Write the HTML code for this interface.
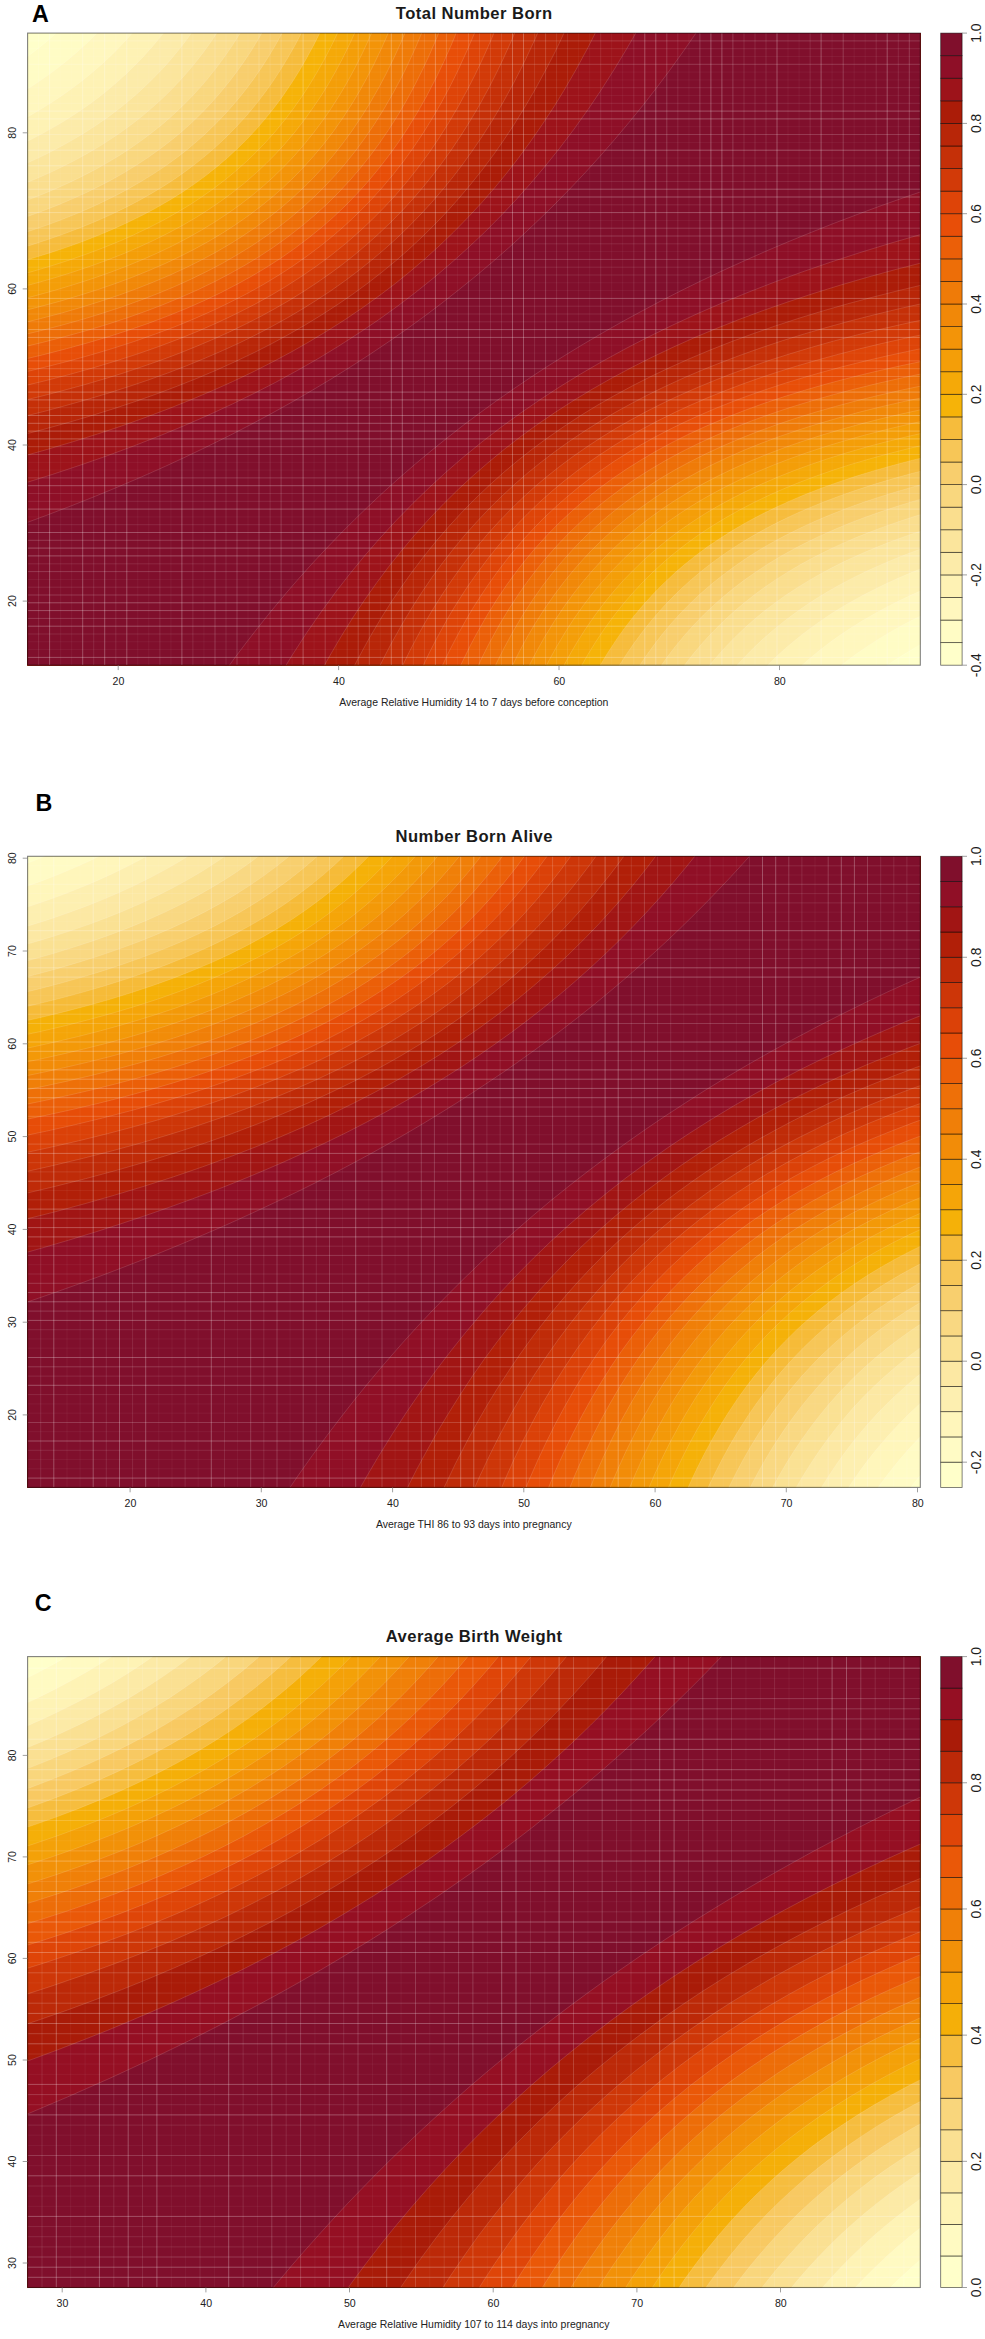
<!DOCTYPE html>
<html><head><meta charset="utf-8"><title>Figure</title>
<style>html,body{margin:0;padding:0;background:#fff}
svg{display:block}
text{font-family:"Liberation Sans", Arial, sans-serif;fill:#222}
.tt{font-size:16.6px;font-weight:bold;fill:#1a1a1a;letter-spacing:0.45px}
.lt{font-size:23.3px;font-weight:bold;fill:#000}
.tk{font-size:10.6px;fill:#222}
.ck{font-size:13.9px;fill:#1c1c1c}
.xl{font-size:10.48px;fill:#222}
</style></head>
<body>
<svg width="985" height="2339" viewBox="0 0 985 2339">
<rect width="985" height="2339" fill="#fff"/>
<clipPath id="cA"><rect x="27.6" y="33.1" width="892.6999999999999" height="632.1"/></clipPath>
<g clip-path="url(#cA)">
<rect x="27.6" y="33.1" width="892.6999999999999" height="632.1" fill="#FFFFCA"/>
<path d="M-5.5,78.4L4.1,72.5L13.8,66.2L23.4,59.5L33,52.4L42.6,44.9L52.2,36.8L61.8,28.2L69,21.4L78.6,11.7L85.9,3.9L93.1,-4.4L100.3,-13.1L107.5,-22.4L114.7,-32.2L121.9,-42.7L126.7,-50.1L133.9,-61.9L138.7,-70.2L145.9,-83.4L150.7,-92.8L157.9,-107.8L162.8,-118.5L167.6,-129.7L172.4,-141.6L177.2,-154.3L182,-167.6L186.8,-181.9L191.6,-197L196.4,-213.1L201.2,-230.4L208.4,-258.7L215.6,-290.2L222.8,-325.6L227.6,-351.8L230,-365.7L234.8,-395.4L237.2,-411.3L242.1,-445.5L244.5,-463.9L249.3,-503.5L254.1,-547.6L258.9,-596.9L263.7,-652.4L268.5,-715.4L273.3,-787.4L275.7,-827.4L280.5,-917.1L282.9,-967.6L290.1,-1137.5L953.4,-1137.5L953.4,627.7L941.3,633.6L929.3,639.8L917.3,646.4L907.7,652.1L895.7,659.6L886.1,666L876.5,672.8L866.9,680.1L857.2,687.8L847.6,696L838,704.9L830.8,711.9L821.2,721.9L814,729.8L806.8,738.3L799.6,747.3L792.4,756.8L785.1,767L777.9,777.8L770.7,789.4L763.5,801.8L758.7,810.6L751.5,824.6L746.7,834.6L739.5,850.5L734.7,861.9L729.9,874L725.1,886.7L720.3,900.3L715.5,914.6L710.7,930L705.8,946.3L701,963.8L696.2,982.6L689,1013.4L684.2,1036L679.4,1060.4L674.6,1087L672.2,1101.1L667.4,1131.4L665,1147.6L660.2,1182.4L655.4,1220.8L653,1241.5L648.2,1286.6L643.4,1337L638.6,1393.8L633.8,1458.3L628.9,1532.2L624.1,1617.8L621.7,1665.8L619.3,1717.9L614.5,1835.8L-5.5,1835.8Z" fill="#FFFCC5" stroke="#fff" stroke-opacity="0.17" stroke-width="0.8"/>
<path d="M-5.5,108.1L6.6,101.6L16.2,96L28.2,88.6L37.8,82.3L47.4,75.6L57,68.5L66.6,60.9L76.2,52.8L85.9,44.1L93.1,37.2L102.7,27.3L109.9,19.4L117.1,11.1L124.3,2.2L131.5,-7.3L138.7,-17.3L145.9,-28.1L153.1,-39.6L160.3,-51.9L165.2,-60.7L172.4,-74.6L177.2,-84.6L182,-95L186.8,-106.1L194,-123.9L198.8,-136.7L203.6,-150.3L208.4,-164.7L213.2,-180.1L218,-196.6L225.2,-223.5L232.4,-253.5L239.7,-287.2L244.5,-312.1L246.9,-325.3L251.7,-353.5L254.1,-368.6L258.9,-401.1L261.3,-418.5L266.1,-456.1L270.9,-497.8L275.7,-544.4L280.5,-596.8L285.3,-656.2L290.1,-724L292.5,-761.7L297.3,-846L302.1,-944.8L304.5,-1000.9L306.9,-1062.3L309.3,-1129.8L311.7,-1137.5L953.4,-1137.5L953.4,601L938.9,607.2L926.9,612.8L914.9,618.7L902.9,625L890.9,631.7L878.9,638.9L866.9,646.7L857.2,653.3L847.6,660.4L838,667.9L828.4,675.9L818.8,684.5L809.2,693.7L802,701.1L792.4,711.6L785.1,720L777.9,729L770.7,738.5L763.5,748.6L756.3,759.5L749.1,771.1L741.9,783.5L734.7,796.9L729.9,806.5L722.7,821.7L717.9,832.6L710.7,850.1L705.8,862.6L701,875.9L696.2,890.1L691.4,905.2L686.6,921.3L681.8,938.6L677,957.1L669.8,987.6L665,1009.9L660.2,1034.1L655.4,1060.4L653,1074.5L648.2,1104.6L645.8,1120.7L641,1155.3L636.2,1193.6L633.8,1214.4L628.9,1259.4L624.1,1309.9L619.3,1367L614.5,1432L612.1,1468L607.3,1548.4L602.5,1642.4L600.1,1695.5L597.7,1753.6L595.3,1817.2L592.9,1835.8L-5.5,1835.8Z" fill="#FFF7BE" stroke="#fff" stroke-opacity="0.17" stroke-width="0.8"/>
<path d="M-5.5,133.7L6.6,127.9L18.6,121.8L30.6,115.2L42.6,108.1L54.6,100.5L64.2,94L73.8,87.1L83.5,79.7L93.1,71.8L102.7,63.4L112.3,54.4L119.5,47.1L129.1,36.8L136.3,28.5L143.5,19.7L150.7,10.4L157.9,0.4L165.2,-10.3L172.4,-21.7L177.2,-29.8L184.4,-42.7L189.2,-51.9L196.4,-66.5L201.2,-77L208.4,-93.8L213.2,-105.8L218,-118.6L222.8,-132.2L227.6,-146.7L232.4,-162.1L237.2,-178.7L242.1,-196.4L249.3,-225.6L256.5,-258.3L261.3,-282.4L263.7,-295.3L268.5,-322.7L270.9,-337.4L275.7,-368.9L278.1,-385.8L282.9,-422.3L287.7,-462.9L290.1,-484.9L294.9,-532.9L299.7,-587L304.5,-648.6L309.3,-719.3L314.1,-801.2L319,-897.2L321.4,-951.7L328.6,-1137.5L953.4,-1137.5L953.4,577.7L938.9,583.2L924.5,589.2L910.1,595.6L898.1,601.3L886.1,607.4L874.1,614L862,621L850,628.5L838,636.6L828.4,643.6L818.8,651L809.2,658.9L799.6,667.4L790,676.5L780.3,686.3L773.1,694.2L763.5,705.4L756.3,714.5L749.1,724.1L741.9,734.4L734.7,745.4L727.5,757.3L720.3,770L715.5,779L708.2,793.4L703.4,803.7L696.2,820.2L691.4,832L684.2,851.1L679.4,864.9L674.6,879.5L669.8,895.2L665,911.9L660.2,929.9L653,959.5L648.2,981.2L643.4,1004.7L638.6,1030.3L636.2,1043.9L631.4,1073.1L628.9,1088.8L624.1,1122.5L621.7,1140.6L616.9,1179.8L614.5,1201.1L609.7,1247.4L604.9,1299.5L600.1,1358.6L595.3,1426.2L590.5,1504.4L585.7,1595.7L583.3,1647.3L580.9,1703.7L578.5,1765.6L576.1,1833.7L573.7,1835.8L-5.5,1835.8Z" fill="#FEF2B4" stroke="#fff" stroke-opacity="0.17" stroke-width="0.8"/>
<path d="M-5.5,156.3L9,150L21,144.5L33,138.5L45,132.1L57,125.3L66.6,119.5L78.6,111.7L88.3,105L97.9,97.9L107.5,90.3L117.1,82.1L126.7,73.4L136.3,64L143.5,56.5L153.1,45.7L160.3,37.1L167.6,27.9L174.8,18.1L182,7.6L189.2,-3.6L196.4,-15.7L203.6,-28.7L210.8,-42.8L215.6,-52.8L222.8,-68.9L227.6,-80.4L232.4,-92.6L237.2,-105.6L242.1,-119.4L246.9,-134.2L251.7,-149.9L256.5,-166.8L261.3,-185L266.1,-204.5L273.3,-236.8L278.1,-260.7L280.5,-273.4L285.3,-300.5L287.7,-315.1L292.5,-346.3L294.9,-363L299.7,-399.2L304.5,-439.4L306.9,-461.3L311.7,-508.9L316.5,-562.8L321.4,-624.1L326.2,-694.5L328.6,-733.8L333.4,-822.3L335.8,-872.4L338.2,-927L340.6,-986.9L343,-1052.8L345.4,-1125.7L347.8,-1137.5L953.4,-1137.5L953.4,556.9L938.9,561.9L924.5,567.3L910.1,573.1L895.7,579.3L881.3,586L869.3,592L857.2,598.4L845.2,605.2L833.2,612.6L823.6,618.9L811.6,627.4L802,634.7L792.4,642.5L782.7,650.8L773.1,659.7L763.5,669.4L753.9,679.8L746.7,688.1L737.1,700.1L729.9,709.8L722.7,720.2L715.5,731.2L708.2,743.1L701,755.9L693.8,769.8L689,779.6L681.8,795.4L677,806.7L669.8,825L665,838.1L660.2,852.1L655.4,867.1L650.6,883L645.8,900.2L638.6,928.3L633.8,948.9L628.9,971.2L624.1,995.4L621.7,1008.4L616.9,1036L614.5,1050.8L609.7,1082.5L607.3,1099.6L602.5,1136.5L600.1,1156.5L595.3,1199.9L590.5,1248.6L585.7,1303.8L580.9,1366.7L576.1,1439.1L571.3,1523.3L568.9,1570.8L566.5,1622.6L564.1,1679.1L561.7,1741.2L559.3,1809.6L556.9,1835.8L-5.5,1835.8Z" fill="#FCEBA9" stroke="#fff" stroke-opacity="0.17" stroke-width="0.8"/>
<path d="M-5.5,176.5L9,170.8L21,165.8L35.4,159.3L47.4,153.5L59.4,147.2L71.4,140.6L83.5,133.4L95.5,125.7L107.5,117.4L117.1,110.2L126.7,102.6L136.3,94.4L145.9,85.5L153.1,78.5L162.8,68.5L170,60.4L179.6,48.8L186.8,39.5L194,29.5L201.2,18.9L208.4,7.4L215.6,-4.9L222.8,-18.1L227.6,-27.6L234.8,-42.7L239.7,-53.6L246.9,-71L251.7,-83.6L256.5,-97L261.3,-111.2L266.1,-126.4L270.9,-142.7L275.7,-160.2L280.5,-179.1L287.7,-210.2L292.5,-233.1L297.3,-258.1L302.1,-285.3L304.5,-299.9L309.3,-331.3L311.7,-348.2L316.5,-384.6L321.4,-425.2L323.8,-447.3L328.6,-495.5L333.4,-550.1L338.2,-612.3L343,-684L345.4,-724.1L350.2,-814.6L352.6,-866L355,-922.1L357.4,-983.7L359.8,-1051.7L362.2,-1127.1L364.6,-1137.5L953.4,-1137.5L953.4,538.1L936.5,543.5L922.1,548.5L907.7,553.8L893.3,559.5L878.9,565.7L866.9,571.1L852.4,578.2L840.4,584.5L828.4,591.3L816.4,598.6L804.4,606.5L794.8,613.3L782.7,622.4L773.1,630.2L763.5,638.6L753.9,647.6L744.3,657.4L737.1,665.2L727.5,676.4L720.3,685.4L710.7,698.3L703.4,708.8L696.2,720.1L689,732.2L681.8,745.3L674.6,759.4L667.4,774.7L662.6,785.7L655.4,803.4L650.6,816.1L645.8,829.6L641,844L636.2,859.4L631.4,875.9L626.5,893.7L621.7,912.8L616.9,933.4L612.1,955.8L607.3,980.1L604.9,993L600.1,1020.8L597.7,1035.6L592.9,1067.6L590.5,1084.8L585.7,1122L583.3,1142.1L578.5,1186L573.7,1235.3L568.9,1291.2L564.1,1355.2L559.3,1428.9L554.5,1515L552,1563.6L549.6,1616.7L547.2,1674.8L544.8,1738.8L542.4,1809.4L540,1835.8L-5.5,1835.8Z" fill="#FBE59C" stroke="#fff" stroke-opacity="0.17" stroke-width="0.8"/>
<path d="M-5.5,194.8L9,189.6L23.4,184L37.8,178L52.2,171.6L64.2,165.8L76.2,159.6L88.3,152.9L100.3,145.8L112.3,138.1L121.9,131.5L133.9,122.7L143.5,115L153.1,106.8L162.8,98L172.4,88.5L179.6,80.9L189.2,70.1L196.4,61.3L203.6,52L210.8,42L218,31.3L225.2,19.8L232.4,7.5L239.7,-5.8L246.9,-20.3L251.7,-30.6L258.9,-47.1L263.7,-59L270.9,-78.3L275.7,-92.2L280.5,-107.1L285.3,-123L290.1,-140L294.9,-158.4L302.1,-188.7L306.9,-211L311.7,-235.3L316.5,-261.7L319,-275.9L323.8,-306.4L326.2,-322.7L331,-358.1L333.4,-377.2L338.2,-418.7L340.6,-441.3L345.4,-490.8L350.2,-547L355,-611.3L359.8,-685.6L364.6,-772.4L367,-821.5L369.4,-875.1L371.8,-934L374.2,-998.8L379,-1137.5L953.4,-1137.5L953.4,521L936.5,526L919.7,531.4L902.9,537.2L888.5,542.5L874.1,548.3L859.6,554.5L845.2,561.1L833.2,567.1L821.2,573.5L809.2,580.4L797.2,587.8L785.1,595.7L773.1,604.4L763.5,611.8L753.9,619.8L744.3,628.3L734.7,637.5L725.1,647.4L715.5,658.2L708.2,666.8L698.6,679.2L691.4,689.3L684.2,700.1L677,711.7L669.8,724.1L662.6,737.6L655.4,752.2L650.6,762.6L643.4,779.3L638.6,791.4L631.4,810.9L626.5,824.9L621.7,840L616.9,856.1L612.1,873.4L607.3,892L602.5,912.1L597.7,933.9L592.9,957.5L590.5,970.1L585.7,997L583.3,1011.5L578.5,1042.5L576.1,1059.1L571.3,1095.2L568.9,1114.7L564.1,1157.1L561.7,1180.3L556.9,1230.9L552,1288.5L547.2,1354.5L542.4,1431L537.6,1520.5L535.2,1571.3L532.8,1626.8L530.4,1687.8L528,1755.1L525.6,1829.8L523.2,1835.8L-5.5,1835.8Z" fill="#FADE8E" stroke="#fff" stroke-opacity="0.17" stroke-width="0.8"/>
<path d="M-5.5,211.6L11.4,206L25.8,200.8L40.2,195.2L54.6,189.2L69,182.7L81,176.9L95.5,169.4L107.5,162.6L119.5,155.4L131.5,147.5L143.5,139L153.1,131.7L162.8,123.9L172.4,115.5L182,106.5L191.6,96.8L201.2,86.3L208.4,77.8L218,65.6L225.2,55.8L232.4,45.3L239.7,33.9L246.9,21.8L254.1,8.6L261.3,-5.6L266.1,-15.7L273.3,-32.1L278.1,-43.8L285.3,-62.8L290.1,-76.4L294.9,-91L299.7,-106.7L304.5,-123.5L309.3,-141.5L316.5,-171.3L321.4,-193.2L326.2,-217L331,-243L333.4,-256.9L338.2,-286.7L340.6,-302.8L345.4,-337.4L347.8,-356.1L352.6,-396.7L355,-418.8L359.8,-467.2L364.6,-522L369.4,-584.6L374.2,-656.9L379,-741.3L381.4,-789L383.8,-841L386.2,-898L388.6,-960.7L391,-1030L393.4,-1107L395.9,-1137.5L953.4,-1137.5L953.4,505.2L934.1,510.6L917.3,515.6L900.5,521L883.7,526.9L869.3,532.3L854.8,538.1L840.4,544.4L826,551.2L811.6,558.5L799.6,565.1L787.6,572.2L775.5,579.9L763.5,588.1L753.9,595.2L741.9,604.8L732.3,613.1L722.7,622L713.1,631.6L703.4,642L693.8,653.3L684.2,665.6L677,675.5L669.8,686.1L662.6,697.5L655.4,709.8L648.2,723.1L641,737.5L636.2,747.7L628.9,764.2L624.1,776.1L616.9,795.3L612.1,809.1L607.3,823.9L602.5,839.8L597.7,856.8L592.9,875.1L588.1,894.8L583.3,916.2L578.5,939.4L576.1,951.7L571.3,978.2L568.9,992.3L564.1,1022.7L561.7,1039.1L556.9,1074.3L554.5,1093.4L549.6,1134.9L547.2,1157.5L542.4,1207L540,1234.2L535.2,1294.3L530.4,1363.3L525.6,1443.7L523.2,1488.9L520.8,1538.2L518.4,1592L516,1651.1L513.6,1716.2L511.2,1788.3L508.8,1835.8L-5.5,1835.8Z" fill="#F9D77E" stroke="#fff" stroke-opacity="0.17" stroke-width="0.8"/>
<path d="M-5.5,227.2L11.4,221.9L25.8,217.1L42.6,211L57,205.4L71.4,199.3L85.9,192.8L100.3,185.7L112.3,179.4L124.3,172.6L136.3,165.2L148.3,157.3L160.3,148.7L172.4,139.4L182,131.4L191.6,122.8L201.2,113.5L210.8,103.4L220.4,92.5L230,80.7L237.2,71.2L244.5,60.9L251.7,50L258.9,38.2L266.1,25.5L273.3,11.8L280.5,-3.1L287.7,-19.3L292.5,-30.9L299.7,-49.7L304.5,-63.3L309.3,-77.8L314.1,-93.2L319,-109.9L323.8,-127.7L328.6,-147L333.4,-167.8L338.2,-190.3L343,-214.9L347.8,-241.8L350.2,-256.2L355,-287.1L357.4,-303.7L362.2,-339.7L364.6,-359.1L369.4,-401.5L371.8,-424.6L376.6,-475.2L381.4,-532.8L386.2,-598.8L391,-675.4L395.9,-765.1L398.3,-816L400.7,-871.8L403.1,-933L405.5,-1000.6L407.9,-1075.7L410.3,-1137.5L953.4,-1137.5L953.4,490.5L934.1,495.5L914.9,500.9L898.1,506L881.3,511.6L864.4,517.5L850,523L835.6,529L821.2,535.4L806.8,542.3L794.8,548.5L780.3,556.5L768.3,563.8L756.3,571.7L744.3,580.1L732.3,589.3L722.7,597.3L713.1,605.8L703.4,615L693.8,625L684.2,635.7L674.6,647.4L667.4,656.8L657.8,670.4L650.6,681.5L643.4,693.4L636.2,706.2L628.9,720L621.7,735.1L614.5,751.5L609.7,763.2L602.5,782.2L597.7,795.9L590.5,818.3L585.7,834.6L580.9,852L576.1,870.8L571.3,891.1L566.5,913.1L561.7,937.1L559.3,949.8L554.5,977.2L552,991.8L547.2,1023.3L544.8,1040.2L540,1076.9L537.6,1096.8L532.8,1140.1L530.4,1163.7L525.6,1215.6L523.2,1244.1L518.4,1307.3L513.6,1380.4L508.8,1465.6L506.4,1513.9L504,1566.6L501.6,1624.3L499.2,1687.9L496.8,1758.2L494.4,1835.8L-5.5,1835.8Z" fill="#F8CE6D" stroke="#fff" stroke-opacity="0.17" stroke-width="0.8"/>
<path d="M-5.5,241.8L11.4,236.9L28.2,231.5L45,225.8L59.4,220.5L73.8,214.8L88.3,208.7L102.7,202L117.1,194.9L129.1,188.4L141.1,181.5L153.1,174.1L165.2,166.1L177.2,157.4L186.8,149.9L198.8,139.7L208.4,130.9L218,121.5L227.6,111.3L237.2,100.2L244.5,91.2L254.1,78.4L261.3,67.9L268.5,56.7L275.7,44.7L282.9,31.7L290.1,17.6L297.3,2.4L302.1,-8.5L309.3,-26.1L314.1,-38.8L321.4,-59.4L326.2,-74.3L333.4,-98.6L338.2,-116.4L343,-135.5L347.8,-156.2L352.6,-178.7L357.4,-203.1L362.2,-229.7L364.6,-244L369.4,-274.7L371.8,-291.2L376.6,-326.8L379,-346.1L383.8,-388.1L386.2,-411L391,-461.1L395.9,-518L400.7,-583.2L405.5,-658.7L410.3,-747L412.7,-797.2L415.1,-851.9L417.5,-912.1L419.9,-978.5L422.3,-1052.1L424.7,-1134.1L427.1,-1137.5L953.4,-1137.5L953.4,476.6L934.1,481.3L914.9,486.4L895.7,492L878.9,497.2L862,502.8L845.2,508.9L828.4,515.6L814,521.7L799.6,528.4L785.1,535.6L770.7,543.4L758.7,550.4L746.7,558L734.7,566.3L722.7,575.2L713.1,582.8L701,593.2L691.4,602.2L681.8,611.9L672.2,622.4L662.6,633.8L655.4,643.1L645.8,656.3L638.6,667.1L631.4,678.7L624.1,691.1L616.9,704.6L609.7,719.2L602.5,735.1L597.7,746.4L590.5,764.8L585.7,778L578.5,799.5L573.7,815.2L568.9,831.9L564.1,849.9L559.3,869.3L554.5,890.3L549.6,913.1L544.8,938L540,965.1L537.6,979.6L532.8,1010.8L530.4,1027.7L525.6,1064L523.2,1083.7L518.4,1126.6L516,1150L511.2,1201.3L506.4,1259.6L501.6,1326.6L496.8,1404.3L492,1495.6L489.6,1547.4L487.2,1604.1L484.8,1666.5L482.4,1735.5L480,1812.1L477.6,1835.8L-5.5,1835.8Z" fill="#F7C657" stroke="#fff" stroke-opacity="0.17" stroke-width="0.8"/>
<path d="M-5.5,255.6L13.8,250.2L30.6,245.2L47.4,239.7L64.2,233.8L81,227.4L95.5,221.5L109.9,215.1L124.3,208.2L138.7,200.7L150.7,193.9L162.8,186.7L174.8,178.9L186.8,170.4L196.4,163.1L208.4,153.3L218,144.8L227.6,135.7L237.2,125.8L246.9,115.2L256.5,103.6L266.1,91L273.3,80.8L280.5,69.8L287.7,58L294.9,45.4L302.1,31.7L309.3,16.8L314.1,6.2L321.4,-10.9L326.2,-23.2L333.4,-43.1L338.2,-57.5L345.4,-81L350.2,-98.1L355,-116.4L359.8,-136.3L364.6,-157.8L369.4,-181.1L374.2,-206.5L376.6,-220.1L381.4,-249.2L383.8,-264.8L388.6,-298.5L391,-316.6L395.9,-356.1L398.3,-377.5L403.1,-424.2L407.9,-477.1L412.7,-537.3L417.5,-606.6L422.3,-687.1L424.7,-732.5L427.1,-781.8L429.5,-835.8L431.9,-894.9L434.3,-960L436.7,-1032.2L439.1,-1112.5L441.5,-1137.5L953.4,-1137.5L953.4,463.4L931.7,468.5L912.5,473.3L893.3,478.6L876.5,483.6L857.2,489.8L840.4,495.7L823.6,502L809.2,507.9L794.8,514.2L780.3,521.1L765.9,528.5L751.5,536.6L739.5,543.9L727.5,551.7L715.5,560.2L703.4,569.5L691.4,579.5L681.8,588.2L672.2,597.6L662.6,607.7L653,618.7L643.4,630.6L633.8,643.6L626.5,654.2L619.3,665.5L612.1,677.7L604.9,690.8L597.7,705L590.5,720.4L583.3,737.2L576.1,755.6L571.3,768.8L564.1,790.3L559.3,805.9L554.5,822.6L549.6,840.6L544.8,860L540,880.9L535.2,903.6L530.4,928.3L525.6,955.4L523.2,969.8L518.4,1000.9L516,1017.6L511.2,1053.8L508.8,1073.4L504,1115.9L501.6,1139.1L496.8,1190L494.4,1217.9L489.6,1279.7L484.8,1350.9L480,1433.9L477.6,1480.7L475.2,1531.7L472.7,1587.6L470.3,1648.9L467.9,1716.6L465.5,1791.6L463.1,1835.8L-5.5,1835.8Z" fill="#F6BC3C" stroke="#fff" stroke-opacity="0.17" stroke-width="0.8"/>
<path d="M-5.5,268.8L13.8,263.7L33,258.1L49.8,252.9L66.6,247.3L83.5,241.2L100.3,234.6L114.7,228.4L129.1,221.8L143.5,214.7L155.5,208.3L170,199.9L182,192.4L194,184.3L206,175.5L218,165.9L227.6,157.7L237.2,148.8L246.9,139.3L256.5,129L266.1,117.8L275.7,105.7L282.9,95.9L292.5,81.7L299.7,70.2L306.9,57.7L314.1,44.4L321.4,29.9L328.6,14.1L335.8,-3L340.6,-15.3L347.8,-35.3L352.6,-49.7L357.4,-65.1L362.2,-81.6L367,-99.3L371.8,-118.4L376.6,-139L381.4,-161.3L386.2,-185.6L388.6,-198.5L393.4,-226.2L395.9,-241L400.7,-272.9L403.1,-290.1L407.9,-327.2L410.3,-347.3L415.1,-391.1L417.5,-414.9L422.3,-467.3L424.7,-496.1L429.5,-559.8L434.3,-633.4L439.1,-719.2L441.5,-767.7L443.9,-820.6L446.3,-878.5L448.7,-942.2L451.1,-1012.6L453.5,-1090.9L455.9,-1137.5L953.4,-1137.5L953.4,450.7L931.7,455.6L912.5,460.2L893.3,465.3L874.1,470.7L854.8,476.6L838,482.2L821.2,488.2L804.4,494.8L790,500.9L775.5,507.5L761.1,514.5L746.7,522.2L732.3,530.6L720.3,538.2L708.2,546.3L696.2,555.2L684.2,564.8L674.6,573.1L662.6,584.4L653,594.2L643.4,604.8L633.8,616.2L624.1,628.7L616.9,638.9L607.3,653.5L600.1,665.4L592.9,678.3L585.7,692.1L578.5,707.2L571.3,723.5L564.1,741.4L559.3,754.2L552,775.1L547.2,790.2L542.4,806.3L537.6,823.6L532.8,842.3L528,862.4L523.2,884.2L518.4,907.8L513.6,933.6L508.8,961.7L504,992.7L501.6,1009.3L496.8,1045.3L494.4,1064.7L489.6,1106.9L487.2,1130L482.4,1180.3L480,1208L475.2,1269.1L470.3,1339.4L465.5,1421.1L463.1,1467.1L460.7,1517.2L458.3,1571.9L455.9,1632L453.5,1698.1L451.1,1771.4L448.7,1835.8L-5.5,1835.8Z" fill="#F6B308" stroke="#fff" stroke-opacity="0.17" stroke-width="0.8"/>
<path d="M-5.5,281.4L13.8,276.6L33,271.3L52.2,265.6L69,260.2L85.9,254.3L102.7,248L119.5,241.2L133.9,234.8L148.3,227.9L162.8,220.5L177.2,212.4L189.2,205.2L201.2,197.3L213.2,188.9L225.2,179.7L234.8,171.8L246.9,161.1L256.5,151.8L266.1,141.8L275.7,131L285.3,119.3L292.5,109.8L302.1,96.2L309.3,85.1L316.5,73.2L323.8,60.4L331,46.6L338.2,31.7L345.4,15.4L352.6,-2.3L359.8,-21.7L364.6,-35.6L371.8,-58.4L376.6,-74.9L381.4,-92.6L386.2,-111.7L391,-132.2L395.9,-154.5L400.7,-178.7L405.5,-205L410.3,-233.9L412.7,-249.3L417.5,-282.6L419.9,-300.5L424.7,-339.3L427.1,-360.4L431.9,-406.2L434.3,-431.3L439.1,-486.3L443.9,-549L448.7,-621.2L453.5,-705.1L455.9,-752.4L458.3,-804L460.7,-860.3L463.1,-922.1L465.5,-990.2L470.3,-1137.5L953.4,-1137.5L953.4,438.5L931.7,443.1L910.1,448.2L888.5,453.7L869.3,459L850,464.7L833.2,470.1L816.4,476L799.6,482.3L782.7,489.2L768.3,495.6L753.9,502.5L739.5,510L725.1,518.1L713.1,525.4L698.6,534.9L686.6,543.6L674.6,553L665,561L653,572L643.4,581.5L633.8,591.8L624.1,602.9L614.5,615L604.9,628.1L595.3,642.5L588.1,654.2L580.9,666.8L573.7,680.4L566.5,695.1L559.3,711.1L552,728.5L547.2,740.9L540,761.2L535.2,775.8L528,799.6L523.2,816.9L518.4,835.6L513.6,855.7L508.8,877.4L504,901L499.2,926.6L494.4,954.6L489.6,985.4L487.2,1001.9L482.4,1037.6L480,1056.9L475.2,1098.7L472.7,1121.4L467.9,1171.2L465.5,1198.5L460.7,1258.6L455.9,1327.6L451.1,1407.6L446.3,1501.5L443.9,1554.7L441.5,1613.1L439.1,1677.2L436.7,1748L434.3,1826.6L431.9,1835.8L-5.5,1835.8Z" fill="#F5A908" stroke="#fff" stroke-opacity="0.17" stroke-width="0.8"/>
<path d="M-5.5,293.7L16.2,288.4L35.4,283.3L54.6,277.8L71.4,272.6L90.7,266.1L107.5,260L124.3,253.4L138.7,247.2L153.1,240.6L167.6,233.4L182,225.7L196.4,217.3L208.4,209.7L220.4,201.5L232.4,192.7L244.5,183.1L256.5,172.6L266.1,163.6L275.7,153.9L285.3,143.4L294.9,132L304.5,119.7L314.1,106.2L321.4,95.4L328.6,83.7L335.8,71.1L343,57.6L350.2,42.9L357.4,27.1L364.6,9.8L371.8,-9L376.6,-22.6L383.8,-44.6L388.6,-60.5L393.4,-77.6L398.3,-95.9L403.1,-115.7L407.9,-137L412.7,-160L417.5,-185.1L422.3,-212.4L424.7,-227.1L429.5,-258.4L431.9,-275.3L436.7,-311.6L439.1,-331.3L443.9,-373.9L446.3,-397.1L451.1,-447.7L453.5,-475.5L458.3,-536.7L463.1,-606.9L467.9,-688.3L472.7,-783.7L475.2,-837.8L477.6,-897L480,-962.1L482.4,-1033.9L484.8,-1113.6L487.2,-1137.5L953.4,-1137.5L953.4,426.5L929.3,431.6L907.7,436.5L886.1,441.8L866.9,446.9L847.6,452.5L828.4,458.5L811.6,464.2L794.8,470.3L777.9,477L761.1,484.3L746.7,491L732.3,498.3L717.9,506.1L705.8,513.2L691.4,522.5L679.4,530.8L667.4,539.9L655.4,549.7L643.4,560.4L633.8,569.7L624.1,579.6L614.5,590.4L604.9,602.1L595.3,614.8L585.7,628.7L578.5,639.9L571.3,652L564.1,665L556.9,679L549.6,694.2L542.4,710.6L535.2,728.6L528,748.2L523.2,762.4L516,785.4L511.2,802.1L504,829.5L499.2,849.6L494.4,871.2L489.6,894.6L484.8,920.1L480,947.9L475.2,978.4L472.7,994.7L467.9,1029.9L465.5,1048.9L460.7,1090.1L458.3,1112.5L453.5,1161.3L451.1,1188L446.3,1246.8L441.5,1314.1L436.7,1391.7L431.9,1482.4L429.5,1533.7L427.1,1589.6L424.7,1651L422.3,1718.5L419.9,1793.2L417.5,1835.8L-5.5,1835.8Z" fill="#F49E08" stroke="#fff" stroke-opacity="0.17" stroke-width="0.8"/>
<path d="M-5.5,305.8L16.2,300.6L35.4,295.7L54.6,290.4L73.8,284.6L93.1,278.4L109.9,272.5L126.7,266.1L143.5,259.2L157.9,252.8L172.4,245.9L186.8,238.4L201.2,230.3L215.6,221.5L227.6,213.6L239.7,205L251.7,195.8L263.7,185.7L273.3,177L285.3,165.3L294.9,155.1L304.5,144L314.1,132.1L323.8,119.1L331,108.6L340.6,93.5L347.8,81.1L355,67.9L362.2,53.6L369.4,38.1L376.6,21.3L383.8,3L388.6,-10.2L395.9,-31.5L400.7,-46.8L407.9,-71.9L412.7,-90.1L417.5,-109.7L422.3,-130.9L427.1,-153.7L431.9,-178.5L436.7,-205.5L441.5,-234.9L446.3,-267.3L448.7,-284.6L453.5,-322.1L455.9,-342.4L460.7,-386.3L463.1,-410.2L467.9,-462.4L470.3,-491.1L475.2,-554.2L480,-626.6L484.8,-710.6L489.6,-808.9L492,-864.7L494.4,-925.8L496.8,-993L501.6,-1137.5L953.4,-1137.5L953.4,414.8L929.3,419.7L907.7,424.4L886.1,429.6L864.4,435.2L845.2,440.6L826,446.4L806.8,452.7L790,458.7L773.1,465.2L756.3,472.2L739.5,479.9L725.1,487L710.7,494.7L696.2,503.1L681.8,512.2L669.8,520.4L657.8,529.3L645.8,538.9L633.8,549.4L624.1,558.4L612.1,570.7L602.5,581.4L592.9,592.9L583.3,605.5L573.7,619.1L566.5,630.2L556.9,646.2L549.6,659.3L542.4,673.4L535.2,688.6L528,705.1L520.8,723.1L513.6,742.7L508.8,756.9L501.6,779.9L496.8,796.5L489.6,823.7L484.8,843.6L480,865.1L475.2,888.2L470.3,913.4L465.5,940.9L460.7,970.8L458.3,986.9L453.5,1021.5L451.1,1040.1L446.3,1080.3L443.9,1102.1L439.1,1149.6L436.7,1175.6L431.9,1232.4L427.1,1297.2L422.3,1371.6L417.5,1458L415.1,1506.6L412.7,1559.5L410.3,1617.3L407.9,1680.6L405.5,1750.2L403.1,1827.3L400.7,1835.8L-5.5,1835.8Z" fill="#F39408" stroke="#fff" stroke-opacity="0.17" stroke-width="0.8"/>
<path d="M-5.5,317.6L16.2,312.6L37.8,307.2L59.4,301.4L78.6,295.7L97.9,289.6L114.7,283.8L131.5,277.6L148.3,270.8L165.2,263.5L179.6,256.7L194,249.4L208.4,241.5L222.8,232.9L234.8,225.2L249.3,215.1L261.3,206L273.3,196.2L282.9,187.7L294.9,176.2L304.5,166.2L314.1,155.5L323.8,143.9L333.4,131.4L343,117.7L352.6,102.8L359.8,90.7L367,77.7L374.2,63.7L381.4,48.6L388.6,32.3L395.9,14.5L403.1,-4.8L410.3,-26L415.1,-41.3L422.3,-66.1L427.1,-84.1L431.9,-103.5L436.7,-124.3L441.5,-146.8L446.3,-171.1L451.1,-197.6L455.9,-226.3L460.7,-257.8L463.1,-274.7L467.9,-311.1L470.3,-330.6L475.2,-373L477.6,-396L482.4,-446L484.8,-473.4L489.6,-533.4L494.4,-601.8L499.2,-680.6L504,-772.2L506.4,-823.8L508.8,-880L511.2,-941.4L513.6,-1008.8L516,-1083L518.4,-1137.5L953.4,-1137.5L953.4,403.1L929.3,407.9L905.3,413.1L883.7,418.1L862,423.6L840.4,429.6L821.2,435.3L802,441.5L785.1,447.4L765.9,454.7L749.1,461.6L732.3,469.1L717.9,476.1L703.4,483.6L689,491.8L674.6,500.7L662.6,508.7L650.6,517.3L638.6,526.6L626.5,536.7L614.5,547.7L602.5,559.6L592.9,570L583.3,581.3L573.7,593.4L564.1,606.6L554.5,621L544.8,636.7L537.6,649.5L530.4,663.3L523.2,678.1L516,694.2L508.8,711.6L501.6,730.7L496.8,744.3L489.6,766.4L484.8,782.4L477.6,808.4L472.7,827.3L467.9,847.7L463.1,869.6L458.3,893.4L453.5,919.1L448.7,947.1L443.9,977.8L439.1,1011.3L436.7,1029.4L431.9,1068.3L429.5,1089.4L424.7,1135L422.3,1159.9L417.5,1214.2L412.7,1275.7L410.3,1309.6L405.5,1384.9L400.7,1472.2L395.9,1574.6L393.4,1632.6L391,1696.2L386.2,1835.8L-5.5,1835.8Z" fill="#F18808" stroke="#fff" stroke-opacity="0.17" stroke-width="0.8"/>
<path d="M-5.5,329.5L18.6,324L40.2,318.7L61.8,313L81,307.4L100.3,301.4L119.5,295L136.3,288.8L153.1,282.2L170,275.1L186.8,267.3L201.2,260.1L215.6,252.4L230,244L242.1,236.4L256.5,226.7L268.5,217.8L280.5,208.3L292.5,197.9L304.5,186.7L314.1,177L323.8,166.5L333.4,155.3L343,143.1L352.6,130L362.2,115.6L369.4,104L379,87.3L386.2,73.7L393.4,59L400.7,43.1L407.9,26L415.1,7.3L422.3,-13L427.1,-27.6L434.3,-51.4L439.1,-68.5L443.9,-86.8L448.7,-106.5L453.5,-127.6L458.3,-150.4L463.1,-175L467.9,-201.7L472.7,-230.7L477.6,-262.5L482.4,-297.3L484.8,-316L489.6,-356.3L492,-378.1L496.8,-425.3L499.2,-451L504,-507.2L508.8,-570.7L511.2,-605.7L516,-683.4L520.8,-773.4L525.6,-878.8L528,-938.6L530.4,-1003.9L532.8,-1075.7L535.2,-1137.5L953.4,-1137.5L953.4,391.5L929.3,396.2L905.3,401.2L881.3,406.7L859.6,412.1L838,418L818.8,423.6L799.6,429.6L780.3,436.2L761.1,443.3L744.3,450.1L727.5,457.5L713.1,464.3L698.6,471.6L684.2,479.5L669.8,488L655.4,497.3L641,507.5L628.9,516.6L616.9,526.5L604.9,537.3L592.9,549L583.3,559.1L573.7,570L564.1,581.8L554.5,594.6L544.8,608.4L535.2,623.5L528,635.7L523.2,644.4L518.4,653.4L511.2,667.9L504,683.5L496.8,700.4L489.6,718.7L482.4,738.7L475.2,760.5L470.3,776.2L463.1,801.9L458.3,820.4L453.5,840.4L448.7,861.8L443.9,884.9L439.1,909.9L434.3,937L429.5,966.5L424.7,998.8L419.9,1034.3L415.1,1073.3L412.7,1094.4L407.9,1140.1L405.5,1164.9L400.7,1219L395.9,1280.1L393.4,1313.7L388.6,1388.1L383.8,1474L379,1574.2L376.6,1630.9L374.2,1692.7L371.8,1760.4L369.4,1834.9L367,1835.8L-5.5,1835.8Z" fill="#EF7B08" stroke="#fff" stroke-opacity="0.17" stroke-width="0.8"/>
<path d="M-5.5,341.4L18.6,336L40.2,330.8L61.8,325.2L83.5,319.1L102.7,313.2L121.9,306.9L141.1,300L157.9,293.5L174.8,286.5L191.6,278.9L208.4,270.7L222.8,263.1L237.2,254.8L251.7,245.9L266.1,236.2L278.1,227.5L290.1,218.1L302.1,207.9L314.1,196.9L323.8,187.4L335.8,174.6L345.4,163.5L355,151.5L364.6,138.5L374.2,124.5L383.8,109.2L393.4,92.5L400.7,78.9L407.9,64.3L415.1,48.6L422.3,31.6L429.5,13.3L436.7,-6.7L441.5,-21.1L448.7,-44.3L453.5,-61L460.7,-88.2L465.5,-107.9L470.3,-129.1L475.2,-151.8L480,-176.4L484.8,-203L489.6,-231.9L494.4,-263.3L499.2,-297.7L501.6,-316.1L506.4,-355.8L508.8,-377.2L513.6,-423.4L516,-448.4L520.8,-503L525.6,-564.4L528,-598.1L532.8,-672.6L537.6,-758.2L542.4,-857.6L544.8,-913.6L547.2,-974.6L549.6,-1041.1L552,-1114.1L554.5,-1137.5L953.4,-1137.5L953.4,379.7L926.9,384.8L902.9,389.8L878.9,395.3L857.2,400.6L835.6,406.4L814,412.6L794.8,418.6L775.5,425.1L756.3,432.1L739.5,438.8L722.7,446L705.8,453.8L689,462.3L674.6,470.1L660.2,478.6L645.8,487.8L631.4,497.8L619.3,506.9L607.3,516.6L595.3,527.2L583.3,538.6L573.7,548.5L561.7,561.9L552,573.5L542.4,586.1L532.8,599.7L523.2,614.4L513.6,630.5L504,648.2L496.8,662.5L489.6,678L482.4,694.7L475.2,712.8L467.9,732.5L460.7,753.9L455.9,769.3L448.7,794.2L443.9,812.3L436.7,841.8L431.9,863.2L427.1,886.3L422.3,911.3L417.5,938.3L412.7,967.6L407.9,999.6L403.1,1034.6L398.3,1073.1L395.9,1093.8L391,1138.5L388.6,1162.7L383.8,1215.3L379,1274.5L376.6,1306.9L371.8,1378.4L367,1460.3L362.2,1555.1L357.4,1666.2L355,1729.1L352.6,1798L350.2,1835.8L-5.5,1835.8Z" fill="#ED6E08" stroke="#fff" stroke-opacity="0.17" stroke-width="0.8"/>
<path d="M-5.5,353.5L18.6,348.2L42.6,342.4L64.2,336.8L85.9,330.8L107.5,324.3L126.7,318L145.9,311.2L162.8,304.8L182,296.8L198.8,289.3L215.6,281.2L230,273.6L244.5,265.5L258.9,256.8L273.3,247.3L287.7,237L302.1,225.8L314.1,215.7L326.2,204.8L338.2,192.9L350.2,180L359.8,168.8L369.4,156.8L379,143.8L388.6,129.8L398.3,114.6L407.9,98L415.1,84.5L422.3,70.1L429.5,54.7L436.7,38L443.9,20L451.1,0.5L458.3,-20.7L465.5,-43.8L470.3,-60.4L477.6,-87.4L482.4,-106.9L487.2,-127.8L492,-150.2L496.8,-174.4L501.6,-200.4L506.4,-228.5L511.2,-259.1L516,-292.3L518.4,-310.1L523.2,-348.2L525.6,-368.7L530.4,-412.7L532.8,-436.5L537.6,-488L540,-516L544.8,-577.1L547.2,-610.5L552,-684L556.9,-768.2L561.7,-865.3L566.5,-978.7L568.9,-1042.9L571.3,-1112.9L573.7,-1137.5L953.4,-1137.5L953.4,367.7L926.9,372.7L902.9,377.7L878.9,383.1L854.8,389L833.2,394.7L811.6,400.9L790,407.5L770.7,414L751.5,420.9L732.3,428.5L715.5,435.6L698.6,443.4L681.8,451.7L665,460.8L650.6,469.3L636.2,478.4L621.7,488.3L609.7,497.3L602.5,502.9L595.3,508.9L583.3,519.4L571.3,530.8L559.3,543.1L547.2,556.6L537.6,568.2L528,580.8L518.4,594.4L508.8,609.1L499.2,625.1L489.6,642.6L482.4,656.8L475.2,672L467.9,688.4L460.7,706.1L453.5,725.3L446.3,746.1L441.5,761L434.3,785.1L429.5,802.5L422.3,830.7L417.5,851.2L410.3,884.7L405.5,909.1L400.7,935.5L395.9,964.1L391,995.2L386.2,1029L381.4,1066L379,1085.8L374.2,1128.6L371.8,1151.6L367,1201.4L364.6,1228.4L359.8,1287.3L357.4,1319.5L352.6,1390.2L347.8,1470.8L343,1563.6L338.2,1671.6L335.8,1732.5L333.4,1798.8L331,1835.8L-5.5,1835.8Z" fill="#EB5F08" stroke="#fff" stroke-opacity="0.17" stroke-width="0.8"/>
<path d="M-5.5,365.9L18.6,360.6L42.6,354.9L66.6,348.7L88.3,342.7L109.9,336.3L129.1,330L148.3,323.4L167.6,316.1L186.8,308.3L203.6,300.9L220.4,292.9L237.2,284.2L251.7,276.2L266.1,267.6L280.5,258.4L294.9,248.3L309.3,237.4L321.4,227.6L333.4,217.1L345.4,205.7L357.4,193.3L367,182.7L379,168.3L388.6,155.9L398.3,142.5L407.9,128L417.5,112.3L427.1,95.3L436.7,76.7L443.9,61.6L451.1,45.4L458.3,28L465.5,9.2L472.7,-11.2L480,-33.3L484.8,-49.1L492,-74.7L496.8,-93.1L504,-123L508.8,-144.7L513.6,-167.9L518.4,-192.8L523.2,-219.6L528,-248.6L532.8,-280L537.6,-314.2L542.4,-351.4L544.8,-371.4L549.6,-414.2L552,-437.2L556.9,-486.8L559.3,-513.7L564.1,-571.9L566.5,-603.7L571.3,-673.1L573.7,-711.2L578.5,-795.2L583.3,-891.7L588.1,-1003.8L590.5,-1066.8L592.9,-1135.3L595.3,-1137.5L953.4,-1137.5L953.4,355.2L926.9,360.3L900.5,365.8L874.1,371.8L850,377.7L826,384.1L804.4,390.3L782.7,397.1L763.5,403.5L744.3,410.5L725.1,418.1L705.8,426.3L689,434L672.2,442.4L655.4,451.5L641,460L626.5,469.1L612.1,478.9L597.7,489.5L583.3,501.1L571.3,511.6L559.3,522.8L547.2,535.1L535.2,548.3L525.6,559.8L516,572.1L506.4,585.3L496.8,599.6L487.2,615.1L477.6,631.9L470.3,645.5L460.7,665.2L453.5,681.1L446.3,698.3L439.1,716.8L431.9,736.8L424.7,758.6L417.5,782.2L412.7,799.2L405.5,826.7L400.7,846.6L393.4,878.9L388.6,902.4L383.8,927.7L379,954.9L374.2,984.4L369.4,1016.3L364.6,1051L362.2,1069.5L357.4,1109.2L355,1130.4L350.2,1176.2L347.8,1200.9L343,1254.2L340.6,1283.2L335.8,1346.2L333.4,1380.6L328.6,1456.3L326.2,1497.9L321.4,1590.3L316.5,1697.1L311.7,1822.1L309.3,1835.8L-5.5,1835.8Z" fill="#E84E08" stroke="#fff" stroke-opacity="0.17" stroke-width="0.8"/>
<path d="M-5.5,378.8L21,373L45,367.2L69,361L90.7,355L112.3,348.6L133.9,341.6L155.5,334L174.8,326.8L194,318.9L213.2,310.4L230,302.3L246.9,293.7L263.7,284.3L278.1,275.6L292.5,266.3L306.9,256.2L321.4,245.3L333.4,235.5L340.6,229.3L347.8,222.9L359.8,211.4L371.8,199.1L381.4,188.5L393.4,174.2L403.1,161.9L412.7,148.6L422.3,134.4L431.9,119L441.5,102.4L451.1,84.3L458.3,69.7L467.9,48.7L475.2,31.6L482.4,13.2L489.6,-6.6L496.8,-28L504,-51.2L511.2,-76.4L516,-94.6L523.2,-123.9L528,-145L535.2,-179.4L540,-204.4L544.8,-231.2L549.6,-260.1L554.5,-291.2L559.3,-325L564.1,-361.7L566.5,-381.2L571.3,-423L573.7,-445.4L578.5,-493.5L580.9,-519.4L585.7,-575.4L588.1,-605.7L592.9,-671.6L595.3,-707.5L600.1,-786.2L604.9,-875.7L609.7,-978.4L614.5,-1097.2L616.9,-1137.5L953.4,-1137.5L953.4,342.3L929.3,346.9L907.7,351.4L886.1,356.1L864.4,361.2L842.8,366.6L823.6,371.8L804.4,377.3L785.1,383.2L765.9,389.5L749.1,395.4L732.3,401.7L715.5,408.4L698.6,415.7L684.2,422.3L669.8,429.3L655.4,436.8L641,444.8L628.9,452L614.5,461.1L602.5,469.3L590.5,478L578.5,487.3L566.5,497.3L556.9,505.8L544.8,517.1L535.2,526.8L525.6,537.1L516,548.2L506.4,560L496.8,572.6L487.2,586.2L480,597L472.7,608.5L467.9,616.6L458.3,633.7L448.7,652.2L439.1,672.5L434.3,683.4L429.5,694.7L422.3,712.8L417.5,725.7L412.7,739.2L405.5,760.8L398.3,784.3L391,809.8L383.8,837.7L376.6,868.3L369.4,902L364.6,926.4L357.4,966.5L352.6,995.8L345.4,1044.2L340.6,1079.9L335.8,1118.9L331,1161.4L326.2,1208.1L321.4,1259.6L316.5,1316.7L314.1,1347.6L309.3,1415L306.9,1451.7L302.1,1532.3L299.7,1576.7L294.9,1675L290.1,1788.4L287.7,1835.8L-5.5,1835.8Z" fill="#DE4408" stroke="#fff" stroke-opacity="0.17" stroke-width="0.8"/>
<path d="M-5.5,392.5L21,386.6L45,380.8L69,374.6L93.1,367.9L117.1,360.6L138.7,353.6L160.3,346L179.6,338.7L198.8,330.9L218,322.4L237.2,313.3L254.1,304.7L270.9,295.4L285.3,286.8L302.1,276L316.5,266.1L331,255.4L345.4,243.8L359.8,231.2L371.8,219.9L383.8,207.8L395.9,194.8L407.9,180.6L417.5,168.5L429.5,152.2L439.1,138L448.7,122.8L458.3,106.5L467.9,88.8L475.2,74.6L484.8,54.2L492,37.7L499.2,20L506.4,1.1L513.6,-19.2L520.8,-41.1L528,-64.8L535.2,-90.5L542.4,-118.4L547.2,-138.4L554.5,-170.8L559.3,-194.2L564.1,-219.1L568.9,-245.8L573.7,-274.4L578.5,-305.1L583.3,-338.3L588.1,-374.1L592.9,-413L595.3,-433.7L600.1,-477.8L602.5,-501.4L607.3,-552.1L609.7,-579.3L614.5,-638L616.9,-669.7L621.7,-738.5L624.1,-775.9L628.9,-857.6L633.8,-950.1L636.2,-1001.1L641,-1114.2L643.4,-1137.5L953.4,-1137.5L953.4,328.5L929.3,333.2L905.3,338.2L881.3,343.6L859.6,348.8L838,354.4L816.4,360.3L797.2,365.9L777.9,371.9L758.7,378.3L741.9,384.3L722.7,391.6L705.8,398.5L689,405.8L674.6,412.5L657.8,420.8L643.4,428.4L628.9,436.5L614.5,445.2L600.1,454.6L588.1,462.8L576.1,471.7L564.1,481L552,491.1L540,501.8L528,513.3L518.4,523.1L506.4,536.3L496.8,547.5L487.2,559.5L477.6,572.4L467.9,586.1L460.7,597.1L453.5,608.6L448.7,616.7L439.1,633.9L429.5,652.4L419.9,672.5L410.3,694.5L405.5,706.2L400.7,718.5L395.9,731.4L391,744.9L383.8,766.5L379,781.8L374.2,797.9L367,823.9L359.8,852.1L352.6,882.9L345.4,916.8L340.6,941.2L333.4,981.1L328.6,1010.1L321.4,1057.7L316.5,1092.7L311.7,1130.6L306.9,1171.7L302.1,1216.7L297.3,1265.9L292.5,1320L290.1,1349.1L285.3,1412.2L282.9,1446.3L278.1,1520.6L275.7,1561.2L270.9,1650.1L268.5,1699L263.7,1807.4L261.3,1835.8L-5.5,1835.8Z" fill="#D23A08" stroke="#fff" stroke-opacity="0.17" stroke-width="0.8"/>
<path d="M-5.5,407.2L18.6,401.7L40.2,396.5L61.8,390.9L83.5,385L102.7,379.4L121.9,373.5L141.1,367.1L160.3,360.4L179.6,353.2L196.4,346.4L213.2,339.3L230,331.7L246.9,323.5L261.3,316.1L275.7,308.2L290.1,299.9L304.5,290.9L316.5,283L331,272.9L343,264L355,254.5L367,244.3L379,233.5L391,222L403.1,209.7L412.7,199.2L422.3,188L431.9,176.2L441.5,163.6L451.1,150.2L460.7,135.9L467.9,124.5L475.2,112.5L480,104.1L489.6,86.5L496.8,72.3L501.6,62.4L511.2,41.3L520.8,18.5L530.4,-6.5L535.2,-19.8L540,-33.7L547.2,-55.9L554.5,-79.8L561.7,-105.6L568.9,-133.5L576.1,-163.8L583.3,-196.9L590.5,-233L597.7,-272.7L602.5,-301.4L609.7,-348.3L614.5,-382.5L619.3,-419.3L624.1,-459.1L628.9,-502.2L633.8,-549.1L638.6,-600.3L643.4,-656.3L648.2,-718L650.6,-751.2L655.4,-823L657.8,-862L662.6,-946.7L667.4,-1042.1L669.8,-1094.5L672.2,-1137.5L953.4,-1137.5L953.4,313.5L926.9,318.9L902.9,324.1L878.9,329.6L857.2,334.9L833.2,341.2L811.6,347.3L790,353.8L770.7,359.9L751.5,366.5L732.3,373.5L713.1,381L696.2,388L679.4,395.4L662.6,403.3L645.8,411.8L631.4,419.6L616.9,427.8L602.5,436.6L588.1,446L573.7,456L559.3,466.7L547.2,476.3L535.2,486.4L523.2,497.3L511.2,508.9L499.2,521.3L487.2,534.6L477.6,546L467.9,558L458.3,570.9L448.7,584.6L439.1,599.3L431.9,610.9L427.1,619L417.5,636.2L410.3,649.9L405.5,659.5L395.9,679.9L386.2,702L376.6,726.1L371.8,738.9L367,752.4L359.8,773.7L355,788.8L350.2,804.7L343,830.1L335.8,857.6L328.6,887.3L321.4,919.8L314.1,955.2L306.9,994.2L302.1,1022.3L294.9,1068.2L290.1,1101.6L285.3,1137.6L280.5,1176.4L275.7,1218.5L270.9,1264.1L266.1,1313.9L261.3,1368.4L256.5,1428.2L254.1,1460.4L249.3,1529.9L246.9,1567.6L242.1,1649.4L239.7,1694L234.8,1791.6L232.4,1835.8L-5.5,1835.8Z" fill="#C53008" stroke="#fff" stroke-opacity="0.17" stroke-width="0.8"/>
<path d="M-5.5,423.4L18.6,417.8L42.6,411.8L64.2,406L85.9,399.9L107.5,393.4L129.1,386.5L148.3,380L167.6,373.1L186.8,365.7L203.6,358.8L222.8,350.5L239.7,342.8L256.5,334.5L270.9,327L287.7,317.7L302.1,309.2L316.5,300.2L331,290.7L345.4,280.5L357.4,271.5L371.8,260L383.8,249.8L395.9,239L407.9,227.5L419.9,215.2L431.9,202.2L443.9,188.2L453.5,176.3L463.1,163.7L472.7,150.3L482.4,136.1L492,121L499.2,109L504,100.7L513.6,83.1L520.8,69.2L525.6,59.4L535.2,38.8L544.8,16.6L554.5,-7.4L564.1,-33.4L573.7,-61.8L578.5,-77L583.3,-92.8L590.5,-118.1L597.7,-145.2L604.9,-174.4L612.1,-206L619.3,-240.3L626.5,-277.6L631.4,-304.4L638.6,-347.7L643.4,-379L650.6,-430L655.4,-467L660.2,-506.7L665,-549.5L669.8,-595.8L674.6,-645.9L679.4,-700.3L684.2,-759.8L689,-824.9L691.4,-859.8L696.2,-935.1L698.6,-975.7L703.4,-1063.7L705.8,-1111.5L708.2,-1137.5L953.4,-1137.5L953.4,296.9L926.9,302.5L900.5,308.4L874.1,314.8L850,321L826,327.6L804.4,333.9L782.7,340.6L761.1,347.8L739.5,355.5L720.3,362.8L701,370.5L684.2,377.7L665,386.5L648.2,394.7L631.4,403.5L614.5,412.8L597.7,422.8L583.3,431.9L568.9,441.6L554.5,451.9L540,463L528,472.7L513.6,485.2L501.6,496.4L489.6,508.2L477.6,520.9L465.5,534.3L453.5,548.8L441.5,564.3L431.9,577.5L422.3,591.6L412.7,606.6L405.5,618.4L400.7,626.7L391,644L383.8,657.9L379,667.5L369.4,687.8L359.8,709.8L350.2,733.5L340.6,759.2L331,787.2L326.2,802.2L321.4,817.8L314.1,842.7L306.9,869.4L299.7,898.2L292.5,929.3L285.3,963L278.1,999.6L273.3,1025.9L266.1,1068.4L261.3,1099.1L254.1,1149L249.3,1185.2L244.5,1224.1L239.7,1265.9L234.8,1311L230,1359.9L225.2,1412.9L220.4,1470.7L215.6,1534L213.2,1567.9L208.4,1640.9L206,1680.2L201.2,1765.3L198.8,1811.5L196.4,1835.8L-5.5,1835.8Z" fill="#B82608" stroke="#fff" stroke-opacity="0.17" stroke-width="0.8"/>
<path d="M-5.5,441.9L21,435.3L45,429L69,422.3L90.7,415.9L114.7,408.4L136.3,401.2L157.9,393.5L177.2,386.2L196.4,378.6L215.6,370.5L234.8,361.8L254.1,352.6L270.9,344.1L287.7,335L304.5,325.4L321.4,315.1L338.2,304.2L352.6,294.3L367,283.8L381.4,272.6L395.9,260.7L407.9,250.2L422.3,236.8L434.3,224.9L446.3,212.4L458.3,199L470.3,184.8L482.4,169.7L494.4,153.6L504,139.8L513.6,125.3L523.2,109.9L535.2,89.4L547.2,67.2L554.5,53.1L559.3,43.2L568.9,22.5L578.5,0.4L588.1,-23.4L597.7,-49L607.3,-76.6L616.9,-106.6L624.1,-130.7L628.9,-147.6L633.8,-165.4L641,-193.5L648.2,-223.6L655.4,-256L662.6,-290.8L669.8,-328.5L677,-369.3L681.8,-398.5L689,-445.5L693.8,-479.3L701,-534L705.8,-573.6L710.7,-615.9L715.5,-661.3L720.3,-710.1L725.1,-762.6L729.9,-819.3L734.7,-880.8L739.5,-947.7L741.9,-983.4L746.7,-1059.9L749.1,-1100.8L751.5,-1137.5L953.4,-1137.5L953.4,277.9L924.5,284.4L898.1,290.7L871.7,297.4L847.6,303.8L823.6,310.7L799.6,318L775.5,325.9L753.9,333.4L732.3,341.3L710.7,349.8L689,358.9L669.8,367.5L650.6,376.6L633.8,385.1L614.5,395.5L597.7,405.1L580.9,415.4L564.1,426.4L547.2,438.1L532.8,448.7L518.4,460.1L504,472.1L489.6,485L475.2,498.7L460.7,513.5L448.7,526.6L436.7,540.5L424.7,555.3L412.7,571.1L403.1,584.5L391,602.4L381.4,617.6L369.4,637.9L357.4,659.9L350.2,673.9L345.4,683.7L335.8,704.1L326.2,726.1L316.5,749.6L306.9,774.9L297.3,802.2L287.7,831.7L280.5,855.6L275.7,872.3L270.9,889.8L263.7,917.5L256.5,947.2L249.3,979.1L242.1,1013.4L234.8,1050.4L227.6,1090.6L222.8,1119.2L215.6,1165.4L210.8,1198.6L203.6,1252.3L198.8,1291.1L194,1332.5L189.2,1376.9L184.4,1424.5L179.6,1475.9L172.4,1560.6L167.6,1623.1L165.2,1656.4L160.3,1727.4L155.5,1805.2L153.1,1835.8L-5.5,1835.8Z" fill="#AB1C08" stroke="#fff" stroke-opacity="0.17" stroke-width="0.8"/>
<path d="M-5.5,463.8L21,456.8L47.4,449.4L73.8,441.5L97.9,433.9L121.9,425.9L145.9,417.3L170,408.2L191.6,399.5L213.2,390.3L232.4,381.7L254.1,371.4L273.3,361.6L292.5,351.3L309.3,341.7L328.6,330.1L345.4,319.4L362.2,308L379,295.9L395.9,283.1L410.3,271.4L424.7,259.1L439.1,246L453.5,232.2L467.9,217.5L482.4,201.9L494.4,188.1L506.4,173.5L518.4,158.1L530.4,141.7L542.4,124.3L554.5,105.9L564.1,90.2L576.1,69.5L588.1,47.3L600.1,23.6L612.1,-2L619.3,-18.3L624.1,-29.6L633.8,-53.2L643.4,-78.4L653,-105.3L662.6,-134.2L672.2,-165.2L681.8,-198.5L689,-225.3L698.6,-263.5L705.8,-294.3L713.1,-327.1L720.3,-362.1L727.5,-399.6L734.7,-439.8L741.9,-483.1L746.7,-513.8L753.9,-562.9L758.7,-598L765.9,-654.3L770.7,-694.6L777.9,-759.8L782.7,-806.8L787.6,-856.8L792.4,-910.3L797.2,-967.6L802,-1029L809.2,-1130.2L811.6,-1137.5L953.4,-1137.5L953.4,255.1L924.5,262.1L895.7,269.5L866.9,277.4L840.4,285.1L814,293.3L787.6,302L763.5,310.4L739.5,319.3L715.5,328.8L693.8,337.9L672.2,347.6L650.6,357.9L631.4,367.6L612.1,377.9L592.9,388.8L573.7,400.4L554.5,412.8L537.6,424.3L520.8,436.5L504,449.5L487.2,463.4L472.7,476L458.3,489.3L443.9,503.5L429.5,518.5L415.1,534.6L400.7,551.7L388.6,566.8L376.6,582.9L364.6,599.9L352.6,618L340.6,637.3L328.6,657.8L316.5,679.8L304.5,703.4L294.9,723.5L282.9,750.4L273.3,773.4L263.7,798L254.1,824.2L244.5,852.2L234.8,882.3L225.2,914.7L218,940.6L208.4,977.6L201.2,1007.4L194,1039.1L186.8,1072.9L179.6,1109L172.4,1147.7L165.2,1189.3L160.3,1218.8L153.1,1265.9L148.3,1299.4L141.1,1353.3L136.3,1391.8L129.1,1453.9L124.3,1498.5L119.5,1546L114.7,1596.7L109.9,1650.9L105.1,1708.9L95.5,1835.8L-5.5,1835.8Z" fill="#9D131A" stroke="#fff" stroke-opacity="0.17" stroke-width="0.8"/>
<path d="M-5.5,492L23.4,483.5L52.2,474.5L81,464.9L107.5,455.7L133.9,445.9L160.3,435.6L184.4,425.6L208.4,415.1L232.4,404L254.1,393.4L275.7,382.3L297.3,370.5L319,358.1L338.2,346.4L359.8,332.5L379,319.5L398.3,305.6L415.1,292.8L434.3,277.4L451.1,263.1L467.9,248L484.8,232.1L501.6,215.1L516,199.8L530.4,183.7L544.8,166.6L559.3,148.6L573.7,129.6L588.1,109.4L600.1,91.6L614.5,69L626.5,49.1L633.8,36.6L641,23.6L653,1.1L665,-22.8L677,-48.2L689,-75.1L698.6,-98L710.7,-128.3L720.3,-154L729.9,-181.2L739.5,-210L749.1,-240.5L758.7,-273L768.3,-307.5L775.5,-334.9L785.1,-373.6L792.4,-404.4L802,-448L809.2,-482.9L816.4,-519.8L823.6,-558.8L830.8,-600.3L838,-644.3L845.2,-691.3L850,-724.3L857.2,-776.6L862,-813.5L869.3,-872.3L874.1,-913.9L881.3,-980.3L886.1,-1027.6L890.9,-1077.4L895.7,-1130L898.1,-1137.5L953.4,-1137.5L953.4,225.6L922.1,234.1L890.9,243.1L859.6,252.7L830.8,262.1L802,272L775.5,281.7L749.1,291.9L722.7,302.7L696.2,314.2L672.2,325.3L648.2,337L626.5,348.2L602.5,361.3L580.9,373.8L559.3,387.1L540,399.7L520.8,412.9L501.6,426.8L482.4,441.6L463.1,457.3L446.3,471.9L429.5,487.3L412.7,503.6L395.9,520.8L379,539.2L364.6,555.8L350.2,573.4L335.8,591.9L321.4,611.6L306.9,632.5L292.5,654.7L280.5,674.3L268.5,695L256.5,716.9L244.5,740.1L232.4,764.7L220.4,790.8L210.8,812.9L201.2,836.1L191.6,860.6L182,886.5L172.4,913.8L162.8,942.8L155.5,965.7L145.9,997.8L138.7,1023.2L129.1,1059.1L121.9,1087.6L112.3,1127.8L105.1,1159.9L95.5,1205.5L88.3,1242L81,1280.6L73.8,1321.5L66.6,1365L59.4,1411.3L52.2,1460.7L47.4,1495.5L40.2,1550.7L35.4,1589.8L28.2,1652L23.4,1696.2L16.2,1766.8L11.4,1817.1L9,1835.8L-5.5,1835.8Z" fill="#8E0F27" stroke="#fff" stroke-opacity="0.17" stroke-width="0.8"/>
<path d="M-5.5,534L21,524.7L45,515.9L71.4,505.8L95.5,496.2L119.5,486.3L141.1,477.1L165.2,466.4L186.8,456.4L208.4,446L230,435.3L251.7,424.1L270.9,413.8L292.5,401.8L311.7,390.6L331,379.1L350.2,367.1L369.4,354.7L388.6,341.8L407.9,328.3L424.7,316.1L441.5,303.4L458.3,290.2L475.2,276.6L492,262.4L508.8,247.7L523.2,234.6L540,218.7L554.5,204.5L571.3,187.4L585.7,172.1L600.1,156.2L614.5,139.7L628.9,122.6L643.4,104.8L657.8,86.2L669.8,70.2L684.2,50.1L696.2,32.8L708.2,14.8L720.3,-3.9L732.3,-23.3L744.3,-43.5L756.3,-64.4L765.9,-81.8L777.9,-104.3L787.6,-123L799.6,-147.3L809.2,-167.5L821.2,-193.7L830.8,-215.6L840.4,-238.3L850,-261.8L859.6,-286.2L869.3,-311.6L878.9,-338.1L886.1,-358.6L895.7,-386.9L905.3,-416.5L914.9,-447.3L922.1,-471.3L931.7,-504.6L938.9,-530.5L946.2,-557.4L953.4,-585.2L953.4,180.9L929.3,188.9L905.3,197.1L881.3,205.6L857.2,214.5L833.2,223.6L811.6,232.2L787.6,242L765.9,251.2L744.3,260.8L722.7,270.6L701,280.9L681.8,290.3L660.2,301.3L641,311.5L621.7,322L602.5,332.9L583.3,344.2L566.5,354.4L547.2,366.5L530.4,377.5L513.6,388.9L496.8,400.6L480,412.8L463.1,425.4L446.3,438.6L431.9,450.2L415.1,464.2L400.7,476.7L383.8,491.8L369.4,505.3L355,519.2L340.6,533.6L326.2,548.6L311.7,564.1L297.3,580.2L285.3,594.1L270.9,611.4L258.9,626.4L246.9,641.8L234.8,657.8L222.8,674.4L210.8,691.5L198.8,709.3L186.8,727.8L174.8,746.9L165.2,762.8L153.1,783.3L143.5,800.3L131.5,822.4L121.9,840.7L112.3,859.6L102.7,879.2L93.1,899.4L83.5,920.4L73.8,942.1L64.2,964.7L54.6,988.1L45,1012.4L35.4,1037.6L28.2,1057.2L18.6,1084.3L11.4,1105.3L1.7,1134.3L-5.5,1156.9Z" fill="#800F2C" stroke="#fff" stroke-opacity="0.17" stroke-width="0.8"/>
<path d="M38.6,33.1V665.2M93.7,33.1V665.2M115.8,33.1V665.2M159.9,33.1V665.2M192.9,33.1V665.2M226,33.1V665.2M270.1,33.1V665.2M347.2,33.1V665.2M413.3,33.1V665.2M424.4,33.1V665.2M479.5,33.1V665.2M490.5,33.1V665.2M501.5,33.1V665.2M534.6,33.1V665.2M556.6,33.1V665.2M567.6,33.1V665.2M600.7,33.1V665.2M633.8,33.1V665.2M677.8,33.1V665.2M744,33.1V665.2M755,33.1V665.2M766,33.1V665.2M810.1,33.1V665.2M876.2,33.1V665.2M898.3,33.1V665.2M27.6,634H920.3M27.6,587.2H920.3M27.6,563.8H920.3M27.6,524.7H920.3M27.6,501.3H920.3M27.6,493.5H920.3M27.6,407.7H920.3M27.6,321.8H920.3M27.6,314H920.3M27.6,306.2H920.3M27.6,275H920.3M27.6,267.2H920.3M27.6,243.8H920.3M27.6,204.8H920.3M27.6,181.4H920.3M27.6,103.3H920.3M27.6,87.7H920.3M27.6,48.7H920.3" fill="none" stroke="#fff" stroke-opacity="0.12" stroke-width="0.9"/>
<path d="M49.6,33.1V665.2M82.7,33.1V665.2M104.7,33.1V665.2M126.8,33.1V665.2M181.9,33.1V665.2M303.1,33.1V665.2M391.3,33.1V665.2M402.3,33.1V665.2M435.4,33.1V665.2M512.5,33.1V665.2M523.5,33.1V665.2M644.8,33.1V665.2M655.8,33.1V665.2M710.9,33.1V665.2M721.9,33.1V665.2M777,33.1V665.2M821.1,33.1V665.2M887.2,33.1V665.2M27.6,657.4H920.3M27.6,626.2H920.3M27.6,610.6H920.3M27.6,602.8H920.3M27.6,555.9H920.3M27.6,548.1H920.3M27.6,532.5H920.3M27.6,509.1H920.3M27.6,485.7H920.3M27.6,438.9H920.3M27.6,431.1H920.3M27.6,423.3H920.3M27.6,415.5H920.3M27.6,399.9H920.3M27.6,392.1H920.3M27.6,337.4H920.3M27.6,329.6H920.3M27.6,298.4H920.3M27.6,212.6H920.3M27.6,197H920.3M27.6,189.2H920.3M27.6,165.8H920.3M27.6,150.2H920.3M27.6,118.9H920.3M27.6,111.1H920.3" fill="none" stroke="#fff" stroke-opacity="0.3" stroke-width="0.9"/>
<path d="M60.7,33.1V665.2M71.7,33.1V665.2M137.8,33.1V665.2M148.8,33.1V665.2M170.9,33.1V665.2M203.9,33.1V665.2M248,33.1V665.2M292.1,33.1V665.2M314.1,33.1V665.2M336.2,33.1V665.2M380.3,33.1V665.2M457.4,33.1V665.2M578.6,33.1V665.2M589.7,33.1V665.2M611.7,33.1V665.2M622.7,33.1V665.2M688.9,33.1V665.2M788,33.1V665.2M799.1,33.1V665.2M832.1,33.1V665.2M854.2,33.1V665.2M865.2,33.1V665.2M27.6,649.6H920.3M27.6,641.8H920.3M27.6,579.4H920.3M27.6,516.9H920.3M27.6,470.1H920.3M27.6,462.3H920.3M27.6,384.3H920.3M27.6,353.1H920.3M27.6,345.2H920.3M27.6,290.6H920.3M27.6,282.8H920.3M27.6,251.6H920.3M27.6,220.4H920.3M27.6,173.6H920.3M27.6,158H920.3M27.6,142.4H920.3M27.6,126.7H920.3M27.6,95.5H920.3M27.6,79.9H920.3M27.6,72.1H920.3M27.6,56.5H920.3" fill="none" stroke="#fff" stroke-opacity="0.06" stroke-width="0.9"/>
<path d="M215,33.1V665.2M237,33.1V665.2M259,33.1V665.2M281.1,33.1V665.2M325.2,33.1V665.2M358.2,33.1V665.2M369.3,33.1V665.2M446.4,33.1V665.2M468.4,33.1V665.2M545.6,33.1V665.2M666.8,33.1V665.2M699.9,33.1V665.2M732.9,33.1V665.2M843.2,33.1V665.2M909.3,33.1V665.2M27.6,618.4H920.3M27.6,595H920.3M27.6,571.6H920.3M27.6,540.3H920.3M27.6,477.9H920.3M27.6,454.5H920.3M27.6,446.7H920.3M27.6,376.5H920.3M27.6,368.7H920.3M27.6,360.9H920.3M27.6,259.4H920.3M27.6,236H920.3M27.6,228.2H920.3M27.6,134.5H920.3M27.6,64.3H920.3M27.6,40.9H920.3" fill="none" stroke="#fff" stroke-opacity="0.2" stroke-width="0.9"/>
</g>
<rect x="27.6" y="33.1" width="892.6999999999999" height="632.1" fill="none" stroke="#000" stroke-opacity="0.5" stroke-width="1.1"/>
<text x="118.5" y="684.8" text-anchor="middle" class="tk">20</text>
<text x="338.9" y="684.8" text-anchor="middle" class="tk">40</text>
<text x="559.3" y="684.8" text-anchor="middle" class="tk">60</text>
<text x="779.8" y="684.8" text-anchor="middle" class="tk">80</text>
<text transform="translate(16.0,601.1) rotate(-90)" text-anchor="middle" class="tk">20</text>
<text transform="translate(16.0,445) rotate(-90)" text-anchor="middle" class="tk">40</text>
<text transform="translate(16.0,288.9) rotate(-90)" text-anchor="middle" class="tk">60</text>
<text transform="translate(16.0,132.8) rotate(-90)" text-anchor="middle" class="tk">80</text>
<path d="M118.2,665.2v4.9M338.6,665.2v4.9M559,665.2v4.9M779.5,665.2v4.9M27.6,601.1h-4.9M27.6,445h-4.9M27.6,288.9h-4.9M27.6,132.8h-4.9" fill="none" stroke="#808080" stroke-width="0.75"/>
<text x="474.2" y="18.5" text-anchor="middle" class="tt">Total Number Born</text>
<text x="32.0" y="21.6" class="lt">A</text>
<text x="473.8" y="706.0" text-anchor="middle" class="xl">Average Relative Humidity 14 to 7 days before conception</text>
<rect x="940.7" y="642.62" width="21.399999999999977" height="22.58" fill="#FFFFCA" stroke="#000" stroke-opacity="0.62" stroke-width="0.8"/>
<rect x="940.7" y="620.05" width="21.399999999999977" height="22.57" fill="#FFFCC5" stroke="#000" stroke-opacity="0.62" stroke-width="0.8"/>
<rect x="940.7" y="597.48" width="21.399999999999977" height="22.58" fill="#FFF7BE" stroke="#000" stroke-opacity="0.62" stroke-width="0.8"/>
<rect x="940.7" y="574.90" width="21.399999999999977" height="22.57" fill="#FEF2B4" stroke="#000" stroke-opacity="0.62" stroke-width="0.8"/>
<rect x="940.7" y="552.33" width="21.399999999999977" height="22.58" fill="#FCEBA9" stroke="#000" stroke-opacity="0.62" stroke-width="0.8"/>
<rect x="940.7" y="529.75" width="21.399999999999977" height="22.58" fill="#FBE59C" stroke="#000" stroke-opacity="0.62" stroke-width="0.8"/>
<rect x="940.7" y="507.18" width="21.399999999999977" height="22.57" fill="#FADE8E" stroke="#000" stroke-opacity="0.62" stroke-width="0.8"/>
<rect x="940.7" y="484.60" width="21.399999999999977" height="22.57" fill="#F9D77E" stroke="#000" stroke-opacity="0.62" stroke-width="0.8"/>
<rect x="940.7" y="462.03" width="21.399999999999977" height="22.57" fill="#F8CE6D" stroke="#000" stroke-opacity="0.62" stroke-width="0.8"/>
<rect x="940.7" y="439.45" width="21.399999999999977" height="22.57" fill="#F7C657" stroke="#000" stroke-opacity="0.62" stroke-width="0.8"/>
<rect x="940.7" y="416.88" width="21.399999999999977" height="22.58" fill="#F6BC3C" stroke="#000" stroke-opacity="0.62" stroke-width="0.8"/>
<rect x="940.7" y="394.30" width="21.399999999999977" height="22.58" fill="#F6B308" stroke="#000" stroke-opacity="0.62" stroke-width="0.8"/>
<rect x="940.7" y="371.72" width="21.399999999999977" height="22.57" fill="#F5A908" stroke="#000" stroke-opacity="0.62" stroke-width="0.8"/>
<rect x="940.7" y="349.15" width="21.399999999999977" height="22.57" fill="#F49E08" stroke="#000" stroke-opacity="0.62" stroke-width="0.8"/>
<rect x="940.7" y="326.58" width="21.399999999999977" height="22.57" fill="#F39408" stroke="#000" stroke-opacity="0.62" stroke-width="0.8"/>
<rect x="940.7" y="304.00" width="21.399999999999977" height="22.58" fill="#F18808" stroke="#000" stroke-opacity="0.62" stroke-width="0.8"/>
<rect x="940.7" y="281.43" width="21.399999999999977" height="22.57" fill="#EF7B08" stroke="#000" stroke-opacity="0.62" stroke-width="0.8"/>
<rect x="940.7" y="258.85" width="21.399999999999977" height="22.57" fill="#ED6E08" stroke="#000" stroke-opacity="0.62" stroke-width="0.8"/>
<rect x="940.7" y="236.27" width="21.399999999999977" height="22.58" fill="#EB5F08" stroke="#000" stroke-opacity="0.62" stroke-width="0.8"/>
<rect x="940.7" y="213.70" width="21.399999999999977" height="22.57" fill="#E84E08" stroke="#000" stroke-opacity="0.62" stroke-width="0.8"/>
<rect x="940.7" y="191.12" width="21.399999999999977" height="22.58" fill="#DE4408" stroke="#000" stroke-opacity="0.62" stroke-width="0.8"/>
<rect x="940.7" y="168.55" width="21.399999999999977" height="22.57" fill="#D23A08" stroke="#000" stroke-opacity="0.62" stroke-width="0.8"/>
<rect x="940.7" y="145.98" width="21.399999999999977" height="22.57" fill="#C53008" stroke="#000" stroke-opacity="0.62" stroke-width="0.8"/>
<rect x="940.7" y="123.40" width="21.399999999999977" height="22.58" fill="#B82608" stroke="#000" stroke-opacity="0.62" stroke-width="0.8"/>
<rect x="940.7" y="100.83" width="21.399999999999977" height="22.57" fill="#AB1C08" stroke="#000" stroke-opacity="0.62" stroke-width="0.8"/>
<rect x="940.7" y="78.25" width="21.399999999999977" height="22.58" fill="#9D131A" stroke="#000" stroke-opacity="0.62" stroke-width="0.8"/>
<rect x="940.7" y="55.67" width="21.399999999999977" height="22.57" fill="#8E0F27" stroke="#000" stroke-opacity="0.62" stroke-width="0.8"/>
<rect x="940.7" y="33.10" width="21.399999999999977" height="22.57" fill="#800F2C" stroke="#000" stroke-opacity="0.62" stroke-width="0.8"/>
<text transform="translate(980.6,665.20) rotate(-90)" text-anchor="middle" class="ck">-0.4</text>
<text transform="translate(980.6,574.90) rotate(-90)" text-anchor="middle" class="ck">-0.2</text>
<text transform="translate(980.6,484.60) rotate(-90)" text-anchor="middle" class="ck">0.0</text>
<text transform="translate(980.6,394.30) rotate(-90)" text-anchor="middle" class="ck">0.2</text>
<text transform="translate(980.6,304.00) rotate(-90)" text-anchor="middle" class="ck">0.4</text>
<text transform="translate(980.6,213.70) rotate(-90)" text-anchor="middle" class="ck">0.6</text>
<text transform="translate(980.6,123.40) rotate(-90)" text-anchor="middle" class="ck">0.8</text>
<text transform="translate(980.6,33.10) rotate(-90)" text-anchor="middle" class="ck">1.0</text>
<path d="M962.1,665.20h4.9M962.1,574.90h4.9M962.1,484.60h4.9M962.1,394.30h4.9M962.1,304.00h4.9M962.1,213.70h4.9M962.1,123.40h4.9M962.1,33.10h4.9" fill="none" stroke="#808080" stroke-width="0.75"/>
<clipPath id="cB"><rect x="27.6" y="856.3" width="892.6999999999999" height="631.1000000000001"/></clipPath>
<g clip-path="url(#cB)">
<rect x="27.6" y="856.3" width="892.6999999999999" height="631.1000000000001" fill="#FFFFCA"/>
<path d="M-11.8,877.4L5.3,871.5L22.3,865.2L39.4,858.5L54,852.3L68.6,845.7L83.2,838.6L97.8,831L112.4,822.9L127,814.1L139.2,806.3L151.4,797.9L163.5,788.9L175.7,779.3L185.4,771L197.6,760L207.4,750.5L217.1,740.3L226.8,729.5L236.6,717.9L246.3,705.4L256,691.9L263.3,681.1L273.1,665.6L280.4,653.1L287.7,639.8L295,625.5L302.3,610.2L309.6,593.8L316.9,576L321.8,563.4L329.1,543.2L334,528.8L341.3,505.5L346.1,488.8L351,471.1L355.9,452.2L360.7,432L365.6,410.4L370.5,387.2L375.3,362.3L380.2,335.4L385.1,306.4L390,274.9L392.4,258.1L397.3,222.3L399.7,203.1L404.6,162L407,139.9L411.9,92.2L414.3,66.5L419.2,10.6L424,-52L428.9,-122.7L433.8,-203L438.6,-295.2L443.5,-402L446,-462.1L448.4,-527.3L450.8,-535.4L959.7,-535.4L959.7,1434.5L949.9,1443.6L942.6,1450.9L932.9,1461.1L925.6,1469.2L918.3,1477.8L911,1486.9L903.7,1496.5L896.4,1506.6L889.1,1517.4L881.8,1528.8L874.5,1540.9L869.6,1549.5L862.3,1563L857.4,1572.5L852.5,1582.5L847.7,1593L840.4,1609.7L835.5,1621.6L830.6,1634.1L825.8,1647.2L820.9,1661.2L816,1675.9L811.2,1691.4L806.3,1708L801.4,1725.5L796.5,1744.2L789.2,1774.7L781.9,1808.4L774.6,1846.1L767.3,1888.2L762.5,1919.3L760,1935.8L755.2,1971.1L752.7,1990L747.9,2030.4L743,2075L738.1,2124.3L733.2,2179.2L728.4,2240.6L723.5,2309.7L721.1,2347.7L716.2,2431.7L713.8,2478.3L708.9,2582.4L706.5,2640.8L704,2704.2L701.6,2773.2L699.2,2848.6L696.7,2879.1L-11.8,2879.1Z" fill="#FFFBC5" stroke="#fff" stroke-opacity="0.17" stroke-width="0.8"/>
<path d="M-11.8,899.1L7.7,892.9L24.7,887.1L41.8,880.9L58.8,874.3L75.9,867.1L90.5,860.5L105.1,853.4L119.7,845.8L134.3,837.7L146.5,830.4L161.1,821.1L173.3,812.7L185.4,803.6L197.6,794L209.8,783.5L219.5,774.6L231.7,762.5L241.4,752.2L251.2,741L260.9,729.1L270.7,716.2L278,705.9L287.7,691.1L295,679.3L302.3,666.6L309.6,653L316.9,638.5L324.2,622.9L331.5,606.2L338.8,588.1L346.1,568.5L351,554.5L358.3,532L363.2,515.8L368,498.6L372.9,480.3L377.8,460.8L382.6,440L387.5,417.6L392.4,393.5L397.3,367.7L402.1,339.7L407,309.3L409.4,293.2L414.3,258.7L416.7,240.3L421.6,200.9L424,179.7L428.9,134L431.3,109.4L436.2,55.9L441.1,-3.9L443.5,-36.5L448.4,-108.2L453.3,-189.9L458.1,-283.9L463,-393L465.4,-454.5L467.9,-521.5L470.3,-535.4L959.7,-535.4L959.7,1401.1L949.9,1409.1L940.2,1417.6L930.5,1426.7L923.2,1433.8L913.4,1444L906.1,1452.1L898.8,1460.6L891.5,1469.6L884.2,1479.1L876.9,1489.1L869.6,1499.8L862.3,1511.1L855,1523.2L847.7,1536L840.4,1549.8L835.5,1559.5L828.2,1575L823.3,1585.9L816,1603.4L811.2,1615.8L806.3,1628.9L801.4,1642.8L796.5,1657.4L791.7,1673L786.8,1689.4L781.9,1707L774.6,1735.5L769.8,1756.1L764.9,1778.2L757.6,1814.5L750.3,1855.1L745.4,1885L743,1900.9L738.1,1934.9L735.7,1953L730.8,1991.9L725.9,2034.6L723.5,2057.6L718.6,2107.3L713.8,2162.8L708.9,2224.9L704,2295.1L701.6,2333.7L696.7,2419.1L694.3,2466.6L689.4,2572.9L687,2632.7L684.6,2697.7L682.1,2768.6L679.7,2846.3L677.2,2879.1L-11.8,2879.1Z" fill="#FFF6BB" stroke="#fff" stroke-opacity="0.17" stroke-width="0.8"/>
<path d="M-11.8,919L7.7,913.3L27.2,907.1L46.7,900.5L63.7,894.3L80.7,887.6L95.4,881.4L112.4,873.7L127,866.6L141.6,859L156.2,850.8L170.8,841.9L183,834L195.2,825.5L207.4,816.4L219.5,806.5L231.7,796L243.9,784.5L253.6,774.7L263.3,764.1L273.1,752.8L282.8,740.6L292.6,727.5L302.3,713.3L309.6,701.9L319.3,685.5L326.7,672.2L334,658L341.3,642.7L348.6,626.3L355.9,608.6L363.2,589.4L368,575.7L375.3,553.7L380.2,537.9L387.5,512.3L392.4,493.8L397.3,474.1L402.1,453L407,430.4L411.9,406L416.7,379.8L421.6,351.4L426.5,320.6L428.9,304.1L433.8,269.1L436.2,250.3L441.1,210.1L443.5,188.4L448.4,141.7L450.8,116.5L455.7,61.7L460.6,0.2L463,-33.4L467.9,-107.4L472.7,-191.9L477.6,-289.4L482.5,-403.2L487.3,-535.4L959.7,-535.4L959.7,1371.9L949.9,1379L940.2,1386.5L930.5,1394.5L920.7,1403L911,1412L901.2,1421.7L891.5,1432L884.2,1440.2L874.5,1451.8L867.2,1461.1L859.8,1471L852.5,1481.5L845.2,1492.6L837.9,1504.4L830.6,1517L825.8,1525.9L818.5,1540.1L813.6,1550L806.3,1565.9L801.4,1577.2L794.1,1595.2L789.2,1608.1L784.4,1621.6L779.5,1636L774.6,1651.1L769.8,1667.3L764.9,1684.4L760,1702.7L755.2,1722.2L750.3,1743L743,1777.2L735.7,1815.3L728.4,1858.2L723.5,1889.9L721.1,1906.8L716.2,1942.9L713.8,1962.2L708.9,2003.8L706.5,2026.1L701.6,2074.5L696.7,2128.3L691.9,2188.5L687,2256.4L682.1,2333.7L677.2,2422.2L674.8,2471.5L669.9,2582.3L667.5,2644.8L665.1,2712.9L662.6,2787.4L660.2,2869.2L657.8,2879.1L-11.8,2879.1Z" fill="#FDEFB0" stroke="#fff" stroke-opacity="0.17" stroke-width="0.8"/>
<path d="M-11.8,937.3L10.1,931.3L29.6,925.5L49.1,919.4L66.1,913.5L85.6,906.4L102.7,899.6L119.7,892.3L134.3,885.6L148.9,878.3L163.5,870.6L178.1,862.3L192.7,853.3L207.4,843.5L219.5,834.8L231.7,825.3L243.9,815.2L256,804.2L265.8,794.8L278,782.1L287.7,771.1L297.4,759.3L307.2,746.6L316.9,732.8L324.2,721.7L334,705.9L341.3,693L348.6,679.3L355.9,664.6L363.2,648.8L370.5,631.7L377.8,613.3L385.1,593.3L392.4,571.5L397.3,555.9L404.6,530.7L409.4,512.5L414.3,493L419.2,472.3L424,450L428.9,426L433.8,400.1L438.6,372.2L443.5,341.8L448.4,308.8L453.3,272.8L455.7,253.4L460.6,211.9L463,189.6L467.9,141.3L470.3,115.1L475.2,58.2L480,-5.7L482.5,-40.8L487.3,-118.1L492.2,-206.9L494.6,-256.3L499.5,-367.4L501.9,-430.2L504.4,-498.6L506.8,-535.4L959.7,-535.4L959.7,1345.9L947.5,1353.9L937.8,1360.8L925.6,1369.9L915.8,1377.6L906.1,1385.9L896.4,1394.7L886.6,1404.1L876.9,1414.1L867.2,1424.8L859.8,1433.4L850.1,1445.6L842.8,1455.3L835.5,1465.7L828.2,1476.7L820.9,1488.4L813.6,1500.8L806.3,1514.2L799,1528.4L791.7,1543.7L786.8,1554.6L779.5,1571.9L774.6,1584.3L769.8,1597.3L764.9,1611.1L757.6,1633.2L752.7,1649.1L747.9,1666L743,1684L738.1,1703.3L733.2,1723.8L725.9,1757.5L718.6,1795L711.3,1837.3L706.5,1868.4L704,1885L699.2,1920.6L696.7,1939.6L691.9,1980.4L689.4,2002.4L684.6,2049.8L679.7,2102.6L674.8,2161.7L669.9,2228.3L665.1,2303.9L660.2,2390.5L657.8,2438.7L652.9,2546.9L650.5,2607.9L648,2674.4L645.6,2746.9L643.2,2826.6L640.7,2879.1L-11.8,2879.1Z" fill="#FCE8A3" stroke="#fff" stroke-opacity="0.17" stroke-width="0.8"/>
<path d="M-11.8,954.4L10.1,948.8L32.1,942.7L51.5,936.9L71,930.6L90.5,923.8L107.5,917.4L124.6,910.5L141.6,903.1L158.7,895L173.3,887.6L187.9,879.6L202.5,871L217.1,861.6L229.3,853.3L241.4,844.3L253.6,834.6L265.8,824.2L275.5,815.3L287.7,803.3L297.4,792.9L307.2,781.8L316.9,769.8L326.7,756.9L336.4,742.9L346.1,727.8L353.4,715.6L363.2,698L370.5,683.7L377.8,668.3L385.1,651.8L392.4,634L399.7,614.6L407,593.6L411.9,578.6L419.2,554.3L424,536.8L431.3,508.3L436.2,487.7L441.1,465.6L446,441.8L450.8,416.1L455.7,388.4L460.6,358.3L465.4,325.6L470.3,289.9L472.7,270.8L477.6,229.6L480,207.5L484.9,159.7L487.3,133.8L492.2,77.6L497.1,14.3L499.5,-20.3L504.4,-96.7L509.3,-184.3L514.1,-285.7L519,-404.5L523.9,-535.4L959.7,-535.4L959.7,1322.4L947.5,1329.7L935.3,1337.5L923.2,1345.8L913.4,1352.9L901.2,1362.4L891.5,1370.5L881.8,1379.1L872,1388.3L862.3,1398.1L852.5,1408.6L842.8,1419.9L835.5,1428.9L825.8,1441.7L818.5,1452L811.2,1462.9L803.9,1474.5L796.5,1486.9L789.2,1500.2L781.9,1514.3L777.1,1524.4L769.8,1540.4L764.9,1551.7L757.6,1569.9L752.7,1582.8L745.4,1603.6L740.5,1618.5L735.7,1634.3L730.8,1651.1L725.9,1668.9L721.1,1688L716.2,1708.4L711.3,1730.3L706.5,1753.8L701.6,1779.1L694.3,1820.9L689.4,1851.8L687,1868.3L682.1,1903.5L679.7,1922.3L674.8,1962.8L672.4,1984.5L667.5,2031.5L662.6,2083.7L660.2,2112.1L655.3,2174.1L650.5,2244.1L645.6,2324L640.7,2415.8L638.3,2467L633.4,2582.5L631,2647.9L628.6,2719.4L623.7,2879.1L-11.8,2879.1Z" fill="#FAE193" stroke="#fff" stroke-opacity="0.17" stroke-width="0.8"/>
<path d="M-11.8,970.6L10.1,965.2L32.1,959.5L54,953.3L73.4,947.3L92.9,940.9L112.4,934L129.4,927.4L146.5,920.4L163.5,912.8L178.1,905.8L195.2,896.9L209.8,888.7L224.4,879.9L236.6,872L251.2,861.7L263.3,852.5L275.5,842.5L287.7,831.8L299.9,820.1L309.6,810.1L321.8,796.5L331.5,784.8L341.3,772.1L351,758.5L360.7,743.7L368,731.7L377.8,714.5L385.1,700.6L392.4,685.6L399.7,669.5L407,652.1L414.3,633.3L421.6,612.9L428.9,590.8L436.2,566.5L441.1,549L448.4,520.6L453.3,500L458.1,478L463,454.3L467.9,428.7L472.7,401.1L477.6,371.1L482.5,338.5L487.3,302.9L489.8,283.9L494.6,243L497.1,221L501.9,173.4L504.4,147.7L509.3,91.7L514.1,28.9L516.6,-5.5L521.4,-81.4L526.3,-168.2L531.2,-268.8L536,-386.4L538.5,-453.1L540.9,-525.9L543.3,-535.4L959.7,-535.4L959.7,1301L947.5,1307.7L935.3,1314.8L923.2,1322.4L911,1330.5L898.8,1339.2L889.1,1346.6L876.9,1356.5L867.2,1365L857.4,1374L847.7,1383.7L837.9,1394L828.2,1405L818.5,1416.9L811.2,1426.4L801.4,1440L794.1,1450.9L786.8,1462.6L779.5,1474.9L772.2,1488.2L764.9,1502.4L757.6,1517.6L750.3,1533.9L743,1551.6L738.1,1564.2L730.8,1584.4L725.9,1598.8L721.1,1614.1L716.2,1630.3L711.3,1647.6L706.5,1666L701.6,1685.7L696.7,1706.8L691.9,1729.4L687,1753.7L679.7,1793.8L674.8,1823.3L672.4,1839L667.5,1872.6L665.1,1890.5L660.2,1928.9L657.8,1949.5L652.9,1993.9L648,2043.1L645.6,2069.8L640.7,2127.9L635.9,2193.3L631,2267.5L626.1,2352.3L623.7,2399.4L618.8,2505.2L616.4,2564.7L613.9,2629.4L611.5,2700.1L609.1,2777.5L606.6,2862.8L604.2,2879.1L-11.8,2879.1Z" fill="#F9D882" stroke="#fff" stroke-opacity="0.17" stroke-width="0.8"/>
<path d="M-11.8,985.9L12.6,980.3L34.5,974.8L56.4,968.9L78.3,962.4L97.8,956.3L117.3,949.6L136.7,942.5L153.8,935.7L170.8,928.4L187.9,920.4L204.9,911.9L219.5,903.9L234.1,895.4L248.7,886.1L263.3,876.1L275.5,867.1L287.7,857.4L299.9,846.9L312,835.6L324.2,823.3L336.4,809.9L346.1,798.4L355.9,785.9L365.6,772.5L375.3,757.9L385.1,742.1L394.8,724.8L402.1,710.8L409.4,695.8L416.7,679.7L424,662.3L431.3,643.4L438.6,623L446,600.8L453.3,576.5L458.1,559L465.4,530.6L470.3,510L475.2,487.9L480,464.2L484.9,438.6L489.8,411L494.6,381.1L499.5,348.5L504.4,313L506.8,294L511.7,253.1L514.1,231.2L519,183.8L521.4,158.1L526.3,102.4L531.2,39.8L533.6,5.6L538.5,-69.8L543.3,-156.1L548.2,-255.8L553.1,-372.4L555.5,-438.4L557.9,-510.5L560.4,-535.4L959.7,-535.4L959.7,1281.2L945.1,1288.7L932.9,1295.3L918.3,1303.8L906.1,1311.4L893.9,1319.6L881.8,1328.3L869.6,1337.7L859.8,1345.7L847.7,1356.4L837.9,1365.7L828.2,1375.5L818.5,1386.1L808.7,1397.4L801.4,1406.4L791.7,1419.3L784.4,1429.6L774.6,1444.3L767.3,1456.2L760,1468.9L752.7,1482.5L745.4,1497.1L738.1,1512.7L730.8,1529.5L725.9,1541.5L718.6,1560.6L713.8,1574.3L706.5,1596.3L701.6,1612.1L696.7,1628.9L691.9,1646.7L687,1665.8L682.1,1686.1L677.2,1707.9L672.4,1731.4L665.1,1770L660.2,1798.3L655.3,1829.1L650.5,1862.5L648,1880.4L643.2,1918.8L640.7,1939.3L635.9,1983.6L631,2032.7L628.6,2059.3L623.7,2117.1L618.8,2182.2L613.9,2256L609.1,2340.2L604.2,2437.5L599.3,2550.9L596.9,2615L594.5,2684.9L592,2761.5L589.6,2845.7L587.2,2879.1L-11.8,2879.1Z" fill="#F8CF6E" stroke="#fff" stroke-opacity="0.17" stroke-width="0.8"/>
<path d="M-11.8,1000.6L12.6,995.2L36.9,989.4L58.8,983.7L80.7,977.6L102.7,970.9L122.1,964.5L141.6,957.6L161.1,950.1L180.6,942L197.6,934.3L214.7,925.9L229.3,918.2L243.9,909.9L258.5,900.9L273.1,891.2L287.7,880.7L302.3,869.2L314.5,858.8L326.7,847.6L338.8,835.4L351,822.2L360.7,810.7L370.5,798.4L380.2,785.1L390,770.8L399.7,755.2L409.4,738.2L416.7,724.4L424,709.7L431.3,693.9L438.6,676.8L446,658.4L453.3,638.4L460.6,616.8L467.9,593.1L472.7,576.1L480,548.5L484.9,528.5L489.8,507.2L494.6,484.3L499.5,459.6L504.4,433.1L509.3,404.3L514.1,373.1L519,339.2L523.9,302.1L528.7,261.3L531.2,239.4L536,192.2L538.5,166.6L543.3,111.2L548.2,49L550.6,14.9L555.5,-59.9L560.4,-145.4L565.3,-244.1L570.1,-359.2L572.6,-424.3L575,-495.3L577.4,-535.4L959.7,-535.4L959.7,1262.8L945.1,1269.7L930.5,1277.1L915.8,1285.1L903.7,1292.2L891.5,1299.8L879.3,1307.9L867.2,1316.6L855,1325.9L842.8,1335.9L833.1,1344.5L820.9,1356L811.2,1366L801.4,1376.6L791.7,1388L781.9,1400.2L774.6,1410L764.9,1424L757.6,1435.3L750.3,1447.2L743,1460L735.7,1473.7L728.4,1488.3L721.1,1504L713.8,1520.9L706.5,1539.1L701.6,1552.1L694.3,1573L689.4,1588L682.1,1612.1L677.2,1629.4L672.4,1647.9L667.5,1667.7L662.6,1688.8L657.8,1711.4L650.5,1748.6L645.6,1775.9L640.7,1805.4L635.9,1837.4L633.4,1854.5L628.6,1891.1L626.1,1910.7L621.2,1952.7L618.8,1975.3L613.9,2024.2L611.5,2050.7L606.6,2108.3L601.8,2172.9L596.9,2246.1L592,2329.7L587.2,2425.9L582.3,2538L579.9,2601.2L577.4,2670.1L575,2745.5L572.6,2828.2L570.1,2879.1L-11.8,2879.1Z" fill="#F7C657" stroke="#fff" stroke-opacity="0.17" stroke-width="0.8"/>
<path d="M-11.8,1014.9L12.6,1009.7L36.9,1004.1L61.3,998L83.2,992.1L105.1,985.7L127,978.8L146.5,972.1L166,964.9L185.4,957.1L202.5,949.7L219.5,941.7L236.6,933L253.6,923.6L268.2,914.9L282.8,905.5L297.4,895.2L312,884.1L324.2,874.1L336.4,863.2L348.6,851.5L360.7,838.8L370.5,827.9L377.8,819.1L382.6,813L392.4,800.1L402.1,786.2L411.9,771.1L421.6,754.7L428.9,741.5L438.6,722.3L446,706.8L453.3,690L460.6,672L467.9,652.5L475.2,631.3L482.5,608.2L487.3,591.7L494.6,564.9L499.5,545.5L506.8,514L511.7,491.1L516.6,466.4L521.4,439.8L526.3,411.1L531.2,380L536,346.2L540.9,309.2L545.8,268.6L548.2,246.9L553.1,199.9L555.5,174.6L560.4,119.6L562.8,89.7L567.7,24.4L570.1,-11.4L575,-90.2L579.9,-180.5L584.7,-284.9L587.2,-343.5L589.6,-407.1L592,-476.4L594.5,-535.4L959.7,-535.4L959.7,1245.4L942.6,1253L928,1260L913.4,1267.5L898.8,1275.6L884.2,1284.3L872,1292.1L859.8,1300.4L847.7,1309.3L835.5,1318.8L825.8,1327L813.6,1338L803.9,1347.3L794.1,1357.4L784.4,1368.1L774.6,1379.6L764.9,1391.9L755.2,1405.2L747.9,1415.9L738.1,1431.2L730.8,1443.5L723.5,1456.7L716.2,1470.8L708.9,1485.8L701.6,1502L694.3,1519.5L687,1538.3L679.7,1558.7L674.8,1573.3L667.5,1596.8L662.6,1613.7L657.8,1631.6L652.9,1650.8L648,1671.2L643.2,1693.1L638.3,1716.6L633.4,1741.8L628.6,1769.1L623.7,1798.5L618.8,1830.5L616.4,1847.6L611.5,1884L609.1,1903.5L604.2,1945.3L601.8,1967.8L596.9,2016.4L594.5,2042.6L589.6,2099.7L584.7,2163.6L579.9,2235.9L575,2318.3L570.1,2412.9L565.3,2522.7L562.8,2584.6L560.4,2651.8L557.9,2725.3L555.5,2805.8L553.1,2879.1L-11.8,2879.1Z" fill="#F6BB38" stroke="#fff" stroke-opacity="0.17" stroke-width="0.8"/>
<path d="M-11.8,1028.7L15,1023.2L39.4,1017.8L63.7,1011.9L88.1,1005.5L110,999.3L131.9,992.5L153.8,985.2L173.3,978.2L192.7,970.5L212.2,962.3L229.3,954.4L246.3,945.9L263.3,936.7L278,928.2L292.6,919L307.2,909L321.8,898.2L334,888.5L341.3,882.3L348.6,875.8L360.7,864.3L372.9,851.9L382.6,841.1L394.8,826.7L404.6,814.1L414.3,800.6L424,785.9L433.8,770.1L443.5,752.8L453.3,734L460.6,718.7L467.9,702.3L475.2,684.6L482.5,665.5L489.8,644.8L497.1,622.3L501.9,606.2L509.3,580.2L514.1,561.4L521.4,530.9L526.3,508.8L531.2,485.1L536,459.6L540.9,432.1L545.8,402.4L550.6,370.2L555.5,335.1L560.4,296.7L562.8,276.2L567.7,232.1L570.1,208.3L575,157L577.4,129.2L582.3,68.7L584.7,35.7L589.6,-36.6L594.5,-118.8L596.9,-164.2L601.8,-265.6L606.6,-383.7L609.1,-450.4L611.5,-523.1L613.9,-535.4L959.7,-535.4L959.7,1228.8L942.6,1236L928,1242.6L911,1250.9L896.4,1258.5L881.8,1266.7L869.6,1274L855,1283.4L842.8,1291.9L830.6,1300.9L818.5,1310.6L806.3,1321L796.5,1329.9L784.4,1341.9L774.6,1352.2L764.9,1363.2L755.2,1375.1L745.4,1387.8L738.1,1397.9L728.4,1412.5L721.1,1424.2L711.3,1440.9L704,1454.5L696.7,1469L689.4,1484.5L682.1,1501.2L674.8,1519.2L667.5,1538.6L662.6,1552.5L655.3,1574.7L650.5,1590.7L643.2,1616.4L638.3,1635L633.4,1654.8L628.6,1675.9L623.7,1698.5L618.8,1722.8L613.9,1748.9L609.1,1777.1L601.8,1823.8L596.9,1858.4L594.5,1876.9L589.6,1916.4L587.2,1937.6L582.3,1983.2L579.9,2007.7L575,2060.9L572.6,2089.7L567.7,2152.6L562.8,2223.3L557.9,2303.7L553.1,2395.7L548.2,2502.2L543.3,2626.7L540.9,2697.3L538.5,2774.4L536,2859L533.6,2879.1L-11.8,2879.1Z" fill="#F5B108" stroke="#fff" stroke-opacity="0.17" stroke-width="0.8"/>
<path d="M-11.8,1042.4L15,1037L41.8,1031.2L66.1,1025.5L90.5,1019.2L114.8,1012.5L136.7,1005.9L158.7,998.8L178.1,991.9L197.6,984.5L217.1,976.5L236.6,967.8L253.6,959.5L270.7,950.6L287.7,940.9L302.3,931.9L316.9,922.1L331.5,911.6L343.7,902.1L351,896.1L358.3,889.8L370.5,878.7L382.6,866.7L394.8,853.7L407,839.5L416.7,827.3L426.5,814.1L436.2,799.9L446,784.6L455.7,767.9L465.4,749.8L472.7,735.1L477.6,724.7L482.5,713.8L489.8,696.5L497.1,677.8L504.4,657.6L511.7,635.8L519,612L526.3,586L531.2,567.3L538.5,536.9L543.3,514.9L550.6,478.9L555.5,452.7L560.4,424.4L565.3,393.9L570.1,360.7L575,324.6L579.9,285.1L582.3,264L587.2,218.6L589.6,194.2L594.5,141.4L596.9,112.8L601.8,50.7L604.2,16.8L609.1,-57.5L613.9,-142L618.8,-238.9L623.7,-351.1L626.1,-414.1L628.6,-482.6L631,-535.4L959.7,-535.4L959.7,1212.9L942.6,1219.8L925.6,1227.1L908.5,1235L893.9,1242.2L879.3,1250L864.7,1258.3L850.1,1267.3L837.9,1275.3L825.8,1283.9L813.6,1293.1L801.4,1302.9L789.2,1313.5L777.1,1324.9L767.3,1334.6L755.2,1347.8L745.4,1359.2L735.7,1371.3L725.9,1384.4L716.2,1398.5L706.5,1413.8L696.7,1430.3L689.4,1443.7L682.1,1458L674.8,1473.2L667.5,1489.6L660.2,1507.2L652.9,1526.2L648,1539.7L640.7,1561.4L635.9,1576.9L628.6,1601.8L623.7,1619.8L616.4,1648.9L611.5,1669.9L606.6,1692.4L601.8,1716.5L596.9,1742.4L592,1770.3L584.7,1816.5L579.9,1850.6L577.4,1868.7L572.6,1907.6L570.1,1928.4L565.3,1973L562.8,1997L557.9,2048.9L555.5,2077L550.6,2138L548.2,2171.2L543.3,2243.9L538.5,2326.5L533.6,2421.1L528.7,2530.4L526.3,2591.8L523.9,2658.4L521.4,2730.8L519,2810L516.6,2879.1L-11.8,2879.1Z" fill="#F5A508" stroke="#fff" stroke-opacity="0.17" stroke-width="0.8"/>
<path d="M-11.8,1056L12.6,1051.2L34.5,1046.6L56.4,1041.7L78.3,1036.5L100.2,1030.9L119.7,1025.5L139.2,1019.8L158.7,1013.7L175.7,1008L192.7,1001.8L209.8,995.3L226.8,988.3L243.9,980.8L258.5,973.9L273.1,966.6L287.7,958.7L302.3,950.3L314.5,942.8L329.1,933.1L341.3,924.5L353.4,915.3L365.6,905.4L377.8,894.7L387.5,885.6L399.7,873.5L409.4,863L419.2,851.8L428.9,839.9L438.6,827L446,816.8L455.7,802.2L463,790.5L472.7,773.7L482.5,755.4L492.2,735.5L497.1,724.9L501.9,713.7L506.8,702L511.7,689.8L519,670.1L523.9,656.1L528.7,641.4L536,617.7L543.3,591.9L550.6,563.6L557.9,532.6L562.8,510.1L570.1,473.4L575,446.6L582.3,402.5L587.2,370.1L592,334.9L596.9,296.6L601.8,254.6L606.6,208.6L611.5,157.7L616.4,101.4L621.2,38.5L623.7,4.3L628.6,-70.7L631,-111.9L635.9,-202.7L640.7,-307.3L643.2,-365.6L648,-497.2L650.5,-535.4L959.7,-535.4L959.7,1197.5L942.6,1204.1L925.6,1211L908.5,1218.5L891.5,1226.5L874.5,1235.2L859.8,1243.3L845.2,1251.9L830.6,1261.1L816,1271.1L803.9,1280.1L791.7,1289.6L779.5,1299.9L767.3,1311L757.6,1320.4L745.4,1333.1L735.7,1344L725.9,1355.7L716.2,1368.3L706.5,1381.7L696.7,1396.2L687,1411.9L679.7,1424.5L669.9,1442.6L662.6,1457.3L655.3,1473L648,1489.8L640.7,1507.8L633.4,1527.3L626.1,1548.3L621.2,1563.3L613.9,1587.5L609.1,1604.8L601.8,1632.7L596.9,1652.9L592,1674.4L587.2,1697.3L582.3,1721.9L577.4,1748.4L572.6,1776.8L567.7,1807.6L562.8,1840.9L560.4,1858.6L555.5,1896.4L553.1,1916.5L548.2,1959.8L545.8,1983L540.9,2032.9L538.5,2059.9L533.6,2118.3L531.2,2150L526.3,2219.2L521.4,2297.2L516.6,2386.1L511.7,2488.1L506.8,2606.4L504.4,2672.9L501.9,2745.2L499.5,2824.1L497.1,2879.1L-11.8,2879.1Z" fill="#F39908" stroke="#fff" stroke-opacity="0.17" stroke-width="0.8"/>
<path d="M-11.8,1069.5L12.6,1064.8L36.9,1059.8L61.3,1054.4L83.2,1049.2L105.1,1043.7L127,1037.7L146.5,1032L166,1026L185.4,1019.5L202.5,1013.4L219.5,1006.9L236.6,999.9L253.6,992.5L268.2,985.6L285.3,977.1L299.9,969.3L314.5,960.8L326.7,953.4L341.3,943.8L353.4,935.2L365.6,926.1L377.8,916.3L390,905.8L402.1,894.5L414.3,882.4L424,871.9L433.8,860.8L443.5,848.9L453.3,836.2L463,822.6L472.7,807.9L480,796.1L487.3,783.6L492.2,774.8L501.9,756.2L511.7,735.8L516.6,724.9L521.4,713.6L526.3,701.6L531.2,689.1L538.5,669.1L543.3,654.8L548.2,639.8L555.5,615.7L562.8,589.5L570.1,560.9L577.4,529.4L582.3,506.7L589.6,469.6L594.5,442.6L601.8,398.2L606.6,365.6L611.5,330.3L616.4,291.9L621.2,249.9L626.1,204L631,153.4L635.9,97.4L640.7,35.2L643.2,1.3L648,-72.5L650.5,-113L655.3,-202L660.2,-303.9L665.1,-421.8L667.5,-487.8L669.9,-535.4L959.7,-535.4L959.7,1182.5L940.2,1189.7L923.2,1196.4L906.1,1203.6L889.1,1211.3L872,1219.7L857.4,1227.3L840.4,1236.9L825.8,1245.8L811.2,1255.4L799,1263.9L784.4,1274.9L772.2,1284.8L760,1295.4L747.9,1306.7L735.7,1319L725.9,1329.5L713.8,1343.7L704,1355.9L694.3,1369L684.6,1383.1L674.8,1398.3L667.5,1410.4L657.8,1427.8L650.5,1441.9L643.2,1456.9L635.9,1472.9L628.6,1490L621.2,1508.5L613.9,1528.3L606.6,1549.7L599.3,1572.9L594.5,1589.5L587.2,1616.3L582.3,1635.5L575,1666.6L570.1,1689L565.3,1713.1L560.4,1738.8L555.5,1766.4L550.6,1796.2L545.8,1828.4L540.9,1863.2L536,1901L533.6,1921.2L528.7,1964.4L526.3,1987.6L521.4,2037.3L519,2064.1L514.1,2122.1L511.7,2153.5L506.8,2221.8L501.9,2298.6L497.1,2385.7L492.2,2485.3L487.3,2600.1L482.5,2734.1L480,2809.9L477.6,2879.1L-11.8,2879.1Z" fill="#F28C08" stroke="#fff" stroke-opacity="0.17" stroke-width="0.8"/>
<path d="M-11.8,1083.2L15,1078.1L39.4,1073.1L63.7,1067.8L88.1,1062.1L110,1056.6L131.9,1050.6L153.8,1044.3L173.3,1038.2L192.7,1031.8L212.2,1024.8L229.3,1018.3L246.3,1011.4L263.3,1004L280.4,996L297.4,987.5L312,979.6L326.7,971.2L341.3,962.2L355.9,952.5L368,943.9L380.2,934.7L392.4,924.9L404.6,914.4L416.7,903.1L428.9,891L438.6,880.7L450.8,866.7L460.6,854.8L470.3,842L480,828.3L489.8,813.5L497.1,801.7L504.4,789.2L509.3,780.5L519,761.8L528.7,741.6L538.5,719.5L543.3,707.7L548.2,695.3L555.5,675.6L560.4,661.6L565.3,646.8L572.6,623.2L579.9,597.6L587.2,569.7L594.5,539.1L601.8,505.6L609.1,468.7L613.9,441.8L621.2,397.8L626.1,365.6L631,330.8L635.9,293L640.7,251.9L645.6,207L650.5,157.7L655.3,103.5L660.2,43.4L662.6,10.8L667.5,-59.9L669.9,-98.5L674.8,-183L679.7,-279.1L682.1,-332.2L687,-450.6L689.4,-516.8L691.9,-535.4L959.7,-535.4L959.7,1167.6L940.2,1174.6L920.7,1182L901.2,1190L884.2,1197.6L867.2,1205.7L852.5,1213.1L835.5,1222.4L820.9,1230.9L806.3,1240.1L791.7,1250L777.1,1260.6L764.9,1270.1L752.7,1280.3L740.5,1291.2L728.4,1302.9L716.2,1315.5L704,1329.1L694.3,1340.8L682.1,1356.6L672.4,1370.2L662.6,1384.9L652.9,1400.7L643.2,1417.7L635.9,1431.4L626.1,1451.1L618.8,1467L611.5,1484L604.2,1502.2L596.9,1521.8L589.6,1542.9L582.3,1565.7L577.4,1582L570.1,1608.1L565.3,1626.8L557.9,1657L553.1,1678.7L548.2,1701.9L543.3,1726.7L538.5,1753.2L533.6,1781.6L528.7,1812.3L523.9,1845.3L516.6,1900L511.7,1940.6L509.3,1962.2L504.4,2008.4L501.9,2033.2L497.1,2086.6L494.6,2115.4L489.8,2177.6L484.9,2247L482.5,2284.8L477.6,2367.6L472.7,2461.5L467.9,2569.1L463,2693.4L458.1,2838.8L455.7,2879.1L-11.8,2879.1Z" fill="#F07F08" stroke="#fff" stroke-opacity="0.17" stroke-width="0.8"/>
<path d="M-11.8,1097.2L15,1092.1L41.8,1086.7L66.1,1081.4L90.5,1075.7L114.8,1069.6L136.7,1063.7L158.7,1057.4L180.6,1050.6L202.5,1043.3L222,1036.3L241.4,1028.8L258.5,1021.8L275.5,1014.3L292.6,1006.3L309.6,997.7L324.2,989.9L338.8,981.5L353.4,972.5L368,962.8L382.6,952.5L397.3,941.4L409.4,931.4L421.6,920.7L433.8,909.3L446,897.1L455.7,886.6L467.9,872.6L477.6,860.6L487.3,847.8L497.1,834L506.8,819.3L516.6,803.5L523.9,790.8L528.7,782L538.5,763.1L548.2,742.7L557.9,720.5L562.8,708.6L567.7,696.2L572.6,683.2L577.4,669.5L582.3,655.2L587.2,640.1L594.5,615.9L601.8,589.8L609.1,561.3L616.4,530.3L623.7,496.3L631,458.9L635.9,431.8L643.2,387.4L648,355L652.9,320.1L657.8,282.3L662.6,241.3L667.5,196.6L672.4,147.7L677.2,94L682.1,34.8L684.6,2.9L689.4,-66.4L691.9,-104L696.7,-186.1L701.6,-279L704,-330L708.9,-443.2L711.3,-506.2L713.8,-535.4L959.7,-535.4L959.7,1152.8L937.8,1160.4L918.3,1167.7L898.8,1175.5L881.8,1182.8L862.3,1191.8L845.2,1200.3L828.2,1209.4L813.6,1217.8L799,1226.7L784.4,1236.3L769.8,1246.6L755.2,1257.7L740.5,1269.7L728.4,1280.4L716.2,1291.9L704,1304.3L691.9,1317.6L682.1,1329L669.9,1344.3L660.2,1357.5L650.5,1371.6L640.7,1386.8L631,1403.1L621.2,1420.7L611.5,1439.8L604.2,1455.2L596.9,1471.5L589.6,1489L582.3,1507.7L575,1527.8L567.7,1549.4L560.4,1572.8L553.1,1598L548.2,1616L540.9,1645L536,1665.8L528.7,1699.4L523.9,1723.7L519,1749.6L514.1,1777.3L509.3,1807L504.4,1839L497.1,1891.7L492.2,1930.6L487.3,1972.7L482.5,2018.8L480,2043.4L475.2,2096.2L472.7,2124.5L467.9,2185.8L463,2253.8L460.6,2290.7L455.7,2371.2L450.8,2462L446,2565.3L441.1,2683.9L436.2,2821.4L433.8,2879.1L-11.8,2879.1Z" fill="#EE7008" stroke="#fff" stroke-opacity="0.17" stroke-width="0.8"/>
<path d="M-11.8,1111.7L15,1106.6L41.8,1101.1L68.6,1095.3L92.9,1089.6L117.3,1083.5L141.6,1077L163.5,1070.7L185.4,1063.9L207.4,1056.6L226.8,1049.7L246.3,1042.3L265.8,1034.4L285.3,1025.9L302.3,1017.9L319.3,1009.3L336.4,1000.1L353.4,990.3L368,981.2L382.6,971.5L397.3,961.1L411.9,949.9L424,939.9L438.6,927.1L450.8,915.6L463,903.2L475.2,890L487.3,875.8L497.1,863.5L506.8,850.5L516.6,836.6L526.3,821.8L536,805.8L543.3,793.1L548.2,784.2L557.9,765.3L567.7,744.9L577.4,722.8L587.2,698.7L592,685.8L596.9,672.3L601.8,658.2L606.6,643.3L613.9,619.6L621.2,594.1L628.6,566.4L635.9,536.3L643.2,503.6L650.5,467.7L657.8,428.2L665.1,384.6L669.9,352.9L677.2,300.9L682.1,262.7L687,221.4L691.9,176.5L696.7,127.6L701.6,74.1L706.5,15.2L708.9,-16.4L713.8,-84.8L716.2,-121.9L721.1,-202.4L725.9,-292.9L728.4,-342.4L733.2,-451.7L735.7,-512.1L738.1,-535.4L959.7,-535.4L959.7,1137.9L937.8,1145.3L918.3,1152.4L898.8,1159.9L879.3,1168.1L859.8,1176.8L842.8,1185L825.8,1193.8L808.7,1203.2L791.7,1213.4L777.1,1222.7L762.5,1232.7L747.9,1243.5L733.2,1255L721.1,1265.3L706.5,1278.6L694.3,1290.6L682.1,1303.4L669.9,1317.1L657.8,1332L648,1344.7L638.3,1358.3L628.6,1372.9L618.8,1388.4L609.1,1405.1L599.3,1423.2L592,1437.6L582.3,1458.3L575,1474.9L565.3,1498.9L557.9,1518.3L550.6,1539.1L543.3,1561.4L536,1585.5L528.7,1611.5L521.4,1639.7L516.6,1659.8L509.3,1692.3L504.4,1715.6L499.5,1740.4L494.6,1766.8L489.8,1795.1L484.9,1825.3L480,1857.7L475.2,1892.6L470.3,1930.3L465.4,1971L460.6,2015.3L458.1,2038.8L453.3,2089.2L450.8,2116.2L446,2174.1L443.5,2205.2L438.6,2272.4L436.2,2308.7L431.3,2387.7L426.5,2476.4L421.6,2576.6L416.7,2690.8L411.9,2822L409.4,2879.1L-11.8,2879.1Z" fill="#EB5F08" stroke="#fff" stroke-opacity="0.17" stroke-width="0.8"/>
<path d="M-11.8,1126.8L17.4,1121.2L44.2,1115.7L71,1109.8L97.8,1103.5L124.6,1096.7L148.9,1090L173.3,1082.9L195.2,1076L217.1,1068.7L239,1060.7L258.5,1053.2L278,1045.2L297.4,1036.5L316.9,1027.2L334,1018.5L351,1009.2L368,999.2L382.6,990L399.7,978.6L414.3,968L428.9,956.7L441.1,946.6L455.7,933.6L467.9,922L480,909.7L492.2,896.4L504.4,882.2L516.6,866.9L528.7,850.4L538.5,836.3L548.2,821.1L557.9,804.9L565.3,792L570.1,783L579.9,764L589.6,743.5L599.3,721.3L609.1,697.2L618.8,671L623.7,656.9L628.6,642.3L635.9,618.9L643.2,593.8L650.5,566.7L657.8,537.3L665.1,505.5L672.4,470.9L679.7,433L687,391.4L691.9,361.4L699.2,312.3L704,276.6L708.9,238.2L713.8,196.7L718.6,151.8L723.5,103L728.4,49.8L733.2,-8.4L738.1,-72.3L740.5,-106.7L745.4,-181.1L747.9,-221.3L752.7,-308.8L755.2,-356.4L760,-460.9L762.5,-518.2L764.9,-535.4L959.7,-535.4L959.7,1122.6L937.8,1129.9L915.8,1137.7L893.9,1146.2L874.5,1154.2L855,1162.8L835.5,1172L818.5,1180.7L801.4,1190L784.4,1200L769.8,1209.1L752.7,1220.6L738.1,1231.1L723.5,1242.4L708.9,1254.5L694.3,1267.6L682.1,1279.2L669.9,1291.7L657.8,1305.1L645.6,1319.4L633.4,1334.9L621.2,1351.5L611.5,1365.9L601.8,1381.2L592,1397.5L582.3,1415.1L572.6,1434L562.8,1454.4L555.5,1470.7L545.8,1494.2L538.5,1513.1L531.2,1533.3L523.9,1554.9L516.6,1578.1L509.3,1603L501.9,1629.9L497.1,1649L489.8,1679.6L484.9,1701.5L477.6,1736.9L472.7,1762.2L465.4,1803.3L460.6,1833.1L455.7,1864.8L450.8,1898.9L446,1935.5L441.1,1974.9L433.8,2040L428.9,2088.1L426.5,2113.7L421.6,2168.5L419.2,2197.8L414.3,2260.7L411.9,2294.5L407,2367.6L404.6,2407.1L399.7,2492.9L394.8,2589.2L390,2698L385.1,2821.9L382.6,2879.1L-11.8,2879.1Z" fill="#E74D08" stroke="#fff" stroke-opacity="0.17" stroke-width="0.8"/>
<path d="M-11.8,1142.9L17.4,1137.2L46.7,1131.1L75.9,1124.5L102.7,1118L129.4,1111.1L153.8,1104.4L178.1,1097.2L202.5,1089.5L224.4,1082L246.3,1074L268.2,1065.5L287.7,1057.4L307.2,1048.7L326.7,1039.3L346.1,1029.3L363.2,1020L380.2,1009.9L397.3,999.2L414.3,987.6L428.9,977L443.5,965.7L458.1,953.6L472.7,940.6L487.3,926.6L499.5,914.1L511.7,900.7L523.9,886.5L536,871.2L548.2,854.7L557.9,840.7L570.1,821.8L579.9,805.6L587.2,792.7L592,783.8L601.8,764.9L609.1,749.8L613.9,739.3L623.7,717L633.4,692.9L643.2,666.8L652.9,638.3L660.2,615.3L665.1,599L669.9,582L677.2,554.8L684.6,525.6L691.9,494L699.2,459.7L706.5,422.5L713.8,381.8L718.6,352.5L725.9,305L730.8,270.6L735.7,233.8L740.5,194.3L745.4,151.8L750.3,105.9L755.2,56.2L760,2.2L764.9,-56.6L769.8,-121L774.6,-191.7L777.1,-229.8L781.9,-312L784.4,-356.5L789.2,-453.2L791.7,-505.9L794.1,-535.4L959.7,-535.4L959.7,1106.8L935.3,1114.9L913.4,1122.6L891.5,1131L872,1138.9L850.1,1148.4L830.6,1157.6L811.2,1167.4L794.1,1176.5L777.1,1186.4L760,1196.9L743,1208.1L728.4,1218.5L713.8,1229.5L699.2,1241.3L684.6,1254L669.9,1267.5L655.3,1282.2L643.2,1295.3L631,1309.3L618.8,1324.3L606.6,1340.4L596.9,1354.2L584.7,1372.7L575,1388.5L565.3,1405.5L555.5,1423.6L545.8,1443.1L538.5,1458.6L528.7,1480.8L521.4,1498.5L511.7,1523.9L504.4,1544.4L497.1,1566.3L489.8,1589.7L482.5,1614.8L475.2,1641.7L467.9,1670.7L463,1691.3L455.7,1724.3L450.8,1747.9L443.5,1785.9L438.6,1813.1L433.8,1842.1L428.9,1872.9L424,1905.8L419.2,1940.9L414.3,1978.6L409.4,2019.1L404.6,2062.7L399.7,2109.8L394.8,2160.8L392.4,2188L387.5,2245.9L385.1,2276.9L380.2,2343.3L377.8,2378.9L372.9,2455.6L370.5,2497.1L365.6,2586.9L360.7,2687.3L358.3,2742.1L353.4,2862.3L351,2879.1L-11.8,2879.1Z" fill="#DB4108" stroke="#fff" stroke-opacity="0.17" stroke-width="0.8"/>
<path d="M-11.8,1160.3L19.9,1153.9L49.1,1147.6L78.3,1140.9L107.5,1133.7L134.3,1126.6L161.1,1119L185.4,1111.6L209.8,1103.7L234.1,1095.3L256,1087.1L278,1078.4L299.9,1069.1L321.8,1059.1L341.3,1049.5L360.7,1039.3L380.2,1028.4L397.3,1018.1L414.3,1007.2L431.3,995.5L448.4,982.9L465.4,969.4L480,957L494.6,943.7L509.3,929.4L523.9,914.1L536,900.5L548.2,885.9L560.4,870.4L572.6,853.7L584.7,835.9L596.9,816.6L606.6,800.2L613.9,787.1L618.8,778.1L628.6,759L635.9,743.9L640.7,733.4L650.5,711.1L660.2,687.2L669.9,661.4L679.7,633.5L689.4,603.2L694.3,587L699.2,570.1L706.5,543.3L713.8,514.6L721.1,483.7L728.4,450.5L735.7,414.5L743,375.6L750.3,333.2L757.6,286.9L762.5,253.6L769.8,199.5L774.6,160.3L779.5,118.4L784.4,73.3L789.2,24.9L794.1,-27.5L799,-84.1L803.9,-145.7L808.7,-212.8L811.2,-248.7L816,-325.7L818.5,-367L823.3,-456.2L825.8,-504.4L828.2,-535.4L959.7,-535.4L959.7,1090.1L935.3,1098.2L911,1106.8L889.1,1115.1L867.2,1124L845.2,1133.5L825.8,1142.6L806.3,1152.2L786.8,1162.6L767.3,1173.7L750.3,1184.1L733.2,1195.2L716.2,1207.1L699.2,1219.9L684.6,1231.6L669.9,1244.2L655.3,1257.6L640.7,1271.9L628.6,1284.7L621.2,1292.7L613.9,1301.1L601.8,1315.8L589.6,1331.5L577.4,1348.3L565.3,1366.3L555.5,1381.7L543.3,1402.3L533.6,1420.1L523.9,1439L514.1,1459.2L504.4,1480.9L497.1,1498.3L487.3,1522.9L480,1542.7L470.3,1571L463,1593.9L455.7,1618.2L448.4,1644.2L441.1,1672L433.8,1701.9L426.5,1734.1L421.6,1756.9L414.3,1793.5L409.4,1819.6L402.1,1861.6L397.3,1891.6L392.4,1923.6L387.5,1957.6L382.6,1993.8L377.8,2032.5L372.9,2074L368,2118.5L360.7,2191.6L355.9,2245.3L351,2303.6L346.1,2366.9L343.7,2400.7L338.8,2473L336.4,2511.7L331.5,2595.1L326.7,2687.4L324.2,2737.3L319.3,2845.8L316.9,2879.1L-11.8,2879.1Z" fill="#CD3608" stroke="#fff" stroke-opacity="0.17" stroke-width="0.8"/>
<path d="M-11.8,1179.6L19.9,1173L51.5,1165.9L83.2,1158.3L112.4,1150.8L141.6,1142.8L168.4,1134.9L195.2,1126.5L222,1117.4L246.3,1108.7L270.7,1099.3L295,1089.2L316.9,1079.5L338.8,1069.1L360.7,1058L380.2,1047.4L399.7,1036.1L419.2,1024L438.6,1011L455.7,998.8L472.7,985.8L489.8,971.8L504.4,959.1L514.1,950.1L521.4,943.1L536,928.5L550.6,912.8L562.8,898.9L570.1,890.1L577.4,881L589.6,865.1L601.8,848.1L613.9,830L626.1,810.6L638.3,789.7L650.5,767.3L660.2,748.1L667.5,732.9L672.4,722.3L682.1,700.1L691.9,676.4L701.6,650.9L711.3,623.5L721.1,593.9L730.8,562L738.1,536.3L743,518.2L747.9,499.4L755.2,469.5L762.5,437.5L769.8,403.1L777.1,366.2L784.4,326.4L791.7,283.3L796.5,252.5L803.9,203L808.7,167.5L816,110.1L820.9,68.7L825.8,24.5L830.6,-22.9L835.5,-73.6L840.4,-128.1L847.7,-218.1L852.5,-284.3L857.4,-356.2L862.3,-434.6L867.2,-520.5L869.6,-535.4L959.7,-535.4L959.7,1072.2L935.3,1080.3L911,1088.9L886.6,1098.2L864.7,1107.1L842.8,1116.5L820.9,1126.7L799,1137.5L779.5,1147.8L760,1158.8L743,1169.1L723.5,1181.6L706.5,1193.3L689.4,1205.8L672.4,1219.1L655.3,1233.4L640.7,1246.5L626.1,1260.5L611.5,1275.4L596.9,1291.4L584.7,1305.6L577.4,1314.6L570.1,1323.8L557.9,1340.1L545.8,1357.4L533.6,1376L521.4,1395.9L511.7,1412.8L499.5,1435.5L489.8,1454.9L480,1475.6L470.3,1497.6L460.6,1521.3L453.3,1540.1L443.5,1566.8L436.2,1588.2L428.9,1610.9L421.6,1634.9L414.3,1660.4L407,1687.6L399.7,1716.6L392.4,1747.7L385.1,1780.9L377.8,1816.6L370.5,1855.1L365.6,1882.5L358.3,1926.4L353.4,1957.7L348.6,1990.8L343.7,2026L338.8,2063.3L334,2103L329.1,2145.3L324.2,2190.5L319.3,2238.9L314.5,2290.8L307.2,2376.3L299.9,2472.4L295,2543.3L292.6,2581L287.7,2661.8L285.3,2705L280.4,2797.9L278,2847.8L275.5,2879.1L-11.8,2879.1Z" fill="#BF2B08" stroke="#fff" stroke-opacity="0.17" stroke-width="0.8"/>
<path d="M-11.8,1201.7L22.3,1194.2L54,1186.7L85.6,1178.7L117.3,1170.1L146.5,1161.7L175.7,1152.7L204.9,1143.1L231.7,1133.7L258.5,1123.6L282.8,1113.8L307.2,1103.4L331.5,1092.2L355.9,1080.3L377.8,1068.8L399.7,1056.5L419.2,1044.8L438.6,1032.4L458.1,1019.2L477.6,1005L494.6,991.8L511.7,977.7L528.7,962.7L545.8,946.7L555.5,937L562.8,929.5L572.6,919.1L579.9,911L594.5,894L609.1,875.9L616.4,866.4L623.7,856.5L631,846.3L638.3,835.7L650.5,817.2L662.6,797.5L674.8,776.4L684.6,758.6L694.3,739.7L704,719.7L713.8,698.5L723.5,676L733.2,652.1L743,626.6L750.3,606.4L760,577.8L767.3,555L774.6,530.9L781.9,505.4L789.2,478.5L796.5,449.9L803.9,419.6L811.2,387.4L816,364.7L820.9,341L828.2,303.4L835.5,263.1L842.8,219.8L850.1,173.2L857.4,122.9L864.7,68.3L872,8.9L879.3,-55.8L884.2,-102.4L891.5,-178L896.4,-232.6L903.7,-322L908.5,-387.2L913.4,-457.3L918.3,-533.2L920.7,-535.4L959.7,-535.4L959.7,1052.2L937.8,1059.7L915.8,1067.5L893.9,1075.8L872,1084.5L852.5,1092.8L833.1,1101.4L813.6,1110.6L794.1,1120.2L774.6,1130.5L757.6,1139.9L740.5,1149.9L723.5,1160.4L706.5,1171.6L691.9,1181.7L674.8,1194.1L660.2,1205.3L645.6,1217.2L631,1229.7L616.4,1243L604.2,1254.6L589.6,1269.4L577.4,1282.4L565.3,1296.1L553.1,1310.6L540.9,1325.9L531.2,1338.7L519,1355.7L509.3,1370L497.1,1388.9L487.3,1404.9L477.6,1421.8L467.9,1439.6L455.7,1463.2L443.5,1488.6L436.2,1504.8L431.3,1516L424,1533.4L419.2,1545.5L411.9,1564.3L407,1577.4L397.3,1604.9L387.5,1634.4L377.8,1666L368,1700.1L360.7,1727.3L351,1766.3L343.7,1797.7L338.8,1819.7L334,1842.7L326.7,1879.2L319.3,1918.2L312,1960.1L304.7,2005.2L297.4,2053.9L290.1,2106.5L285.3,2144L278,2204.5L273.1,2247.9L268.2,2293.9L263.3,2343L258.5,2395.3L253.6,2451.2L248.7,2511.1L243.9,2575.4L236.6,2681.4L231.7,2759.2L226.8,2843.7L224.4,2879.1L-11.8,2879.1Z" fill="#B11F08" stroke="#fff" stroke-opacity="0.17" stroke-width="0.8"/>
<path d="M-11.8,1228.3L22.3,1220.1L54,1212.1L85.6,1203.5L114.8,1195.1L144,1186.3L173.3,1176.9L202.5,1166.9L229.3,1157.1L256,1146.8L280.4,1136.9L304.7,1126.4L329.1,1115.2L353.4,1103.3L375.3,1092L397.3,1080.1L419.2,1067.3L438.6,1055.4L458.1,1042.7L477.6,1029.3L497.1,1015.1L516.6,1000L533.6,985.9L550.6,971.1L567.7,955.4L584.7,938.6L599.3,923.5L616.4,904.7L631,887.6L645.6,869.5L660.2,850.3L674.8,829.9L687,811.8L694.3,800.5L701.6,788.9L713.8,768.5L725.9,746.9L738.1,724L750.3,699.7L760,679.1L772.2,651.8L781.9,628.6L791.7,604.1L801.4,578.2L811.2,550.8L820.9,521.6L830.6,490.6L837.9,466L847.7,431.3L855,403.7L864.7,364.6L872,333.3L879.3,300.3L886.6,265.4L893.9,228.4L901.2,189.1L908.5,147.2L913.4,117.8L920.7,71.2L925.6,38.3L932.9,-13.9L937.8,-50.9L945.1,-109.8L949.9,-151.7L954.8,-195.8L959.7,-242.3L959.7,1029.2L932.9,1038.7L908.5,1047.8L884.2,1057.5L862.3,1066.6L840.4,1076.3L818.5,1086.4L796.5,1097.2L777.1,1107.2L757.6,1117.8L738.1,1129L718.6,1140.8L699.2,1153.2L682.1,1164.7L665.1,1176.8L648,1189.6L631,1203L613.9,1217.2L599.3,1230.1L582.3,1245.9L567.7,1260.2L553.1,1275.3L538.5,1291.3L523.9,1308.2L511.7,1323L497.1,1341.8L484.9,1358.3L472.7,1375.7L460.6,1394.1L448.4,1413.5L438.6,1429.8L426.5,1451.3L416.7,1469.4L404.6,1493.3L392.4,1518.8L380.2,1546L368,1575L355.9,1606.1L346.1,1632.7L338.8,1653.6L334,1668.1L324.2,1698.5L314.5,1730.8L304.7,1765.4L295,1802.3L287.7,1831.7L278,1873.5L270.7,1906.9L260.9,1954.5L253.6,1992.8L246.3,2033.5L239,2076.8L231.7,2123.1L224.4,2172.6L217.1,2225.6L209.8,2282.6L202.5,2344.1L197.6,2387.8L190.3,2457.9L185.4,2508L180.6,2561L175.7,2617.3L170.8,2677L166,2740.6L161.1,2808.4L156.2,2879.1L-11.8,2879.1Z" fill="#A11514" stroke="#fff" stroke-opacity="0.17" stroke-width="0.8"/>
<path d="M-11.8,1262.8L15,1255.6L41.8,1248.1L68.6,1240.2L95.4,1232L119.7,1224.2L144,1216.1L168.4,1207.6L192.7,1198.8L217.1,1189.6L239,1180.9L260.9,1171.8L282.8,1162.4L304.7,1152.5L324.2,1143.4L346.1,1132.7L365.6,1122.7L385.1,1112.3L404.6,1101.5L424,1090.2L441.1,1079.8L460.6,1067.5L477.6,1056.2L494.6,1044.4L511.7,1032.2L528.7,1019.4L543.3,1007.9L560.4,994L575,981.5L589.6,968.5L604.2,955L618.8,940.9L633.4,926.1L648,910.7L660.2,897.3L674.8,880.6L687,866L699.2,850.8L711.3,835L723.5,818.5L735.7,801.3L747.9,783.3L760,764.5L772.2,744.8L781.9,728.4L794.1,707L803.9,689.1L813.6,670.5L823.3,651.1L833.1,630.8L842.8,609.7L852.5,587.7L862.3,564.7L872,540.6L879.3,521.8L889.1,495.7L896.4,475.2L906.1,446.8L913.4,424.5L923.2,393.4L930.5,369L937.8,343.5L945.1,317.1L952.4,289.4L959.7,260.6L959.7,1000.6L930.5,1011.7L903.7,1022.4L876.9,1033.8L852.5,1044.6L825.8,1057.1L801.4,1069.1L777.1,1081.7L755.2,1093.6L733.2,1106.2L711.3,1119.4L689.4,1133.3L667.5,1147.9L645.6,1163.4L626.1,1177.8L606.6,1193.1L587.2,1209.1L567.7,1226L550.6,1241.6L533.6,1258L516.6,1275.2L499.5,1293.4L482.5,1312.5L465.4,1332.7L450.8,1351L436.2,1370.1L421.6,1390.3L407,1411.5L392.4,1433.9L377.8,1457.5L365.6,1478.3L353.4,1500.1L341.3,1522.9L334,1537.2L326.7,1551.9L314.5,1577.5L302.3,1604.5L290.1,1633L278,1663.2L265.8,1695.1L253.6,1729.1L243.9,1757.8L231.7,1795.7L222,1827.9L212.2,1861.9L202.5,1897.8L192.7,1935.7L183,1976L173.3,2018.7L166,2052.6L156.2,2100.2L148.9,2138.1L141.6,2177.9L134.3,2219.8L127,2264L119.7,2310.6L112.4,2360L105.1,2412.2L97.8,2467.6L92.9,2506.5L85.6,2567.9L80.7,2611.1L75.9,2656.2L71,2703.4L63.7,2778.3L56.4,2858.8L54,2879.1L-11.8,2879.1Z" fill="#900F26" stroke="#fff" stroke-opacity="0.17" stroke-width="0.8"/>
<path d="M-11.8,1315L32.1,1300.4L54,1292.8L75.9,1285L97.8,1277L119.7,1268.7L141.6,1260.2L161.1,1252.4L183,1243.4L202.5,1235.2L222,1226.8L241.4,1218.1L260.9,1209.1L280.4,1199.9L299.9,1190.5L316.9,1182L336.4,1172L353.4,1163L370.5,1153.8L387.5,1144.3L404.6,1134.5L421.6,1124.5L438.6,1114.2L455.7,1103.6L472.7,1092.6L487.3,1083L504.4,1071.5L519,1061.3L536,1049.1L550.6,1038.3L565.3,1027.2L579.9,1015.9L594.5,1004.2L609.1,992.1L623.7,979.8L638.3,967L652.9,953.9L665.1,942.7L679.7,928.8L691.9,916.9L706.5,902.3L718.6,889.7L730.8,876.8L743,863.5L755.2,849.9L767.3,835.9L779.5,821.4L791.7,806.6L803.9,791.3L813.6,778.8L825.8,762.7L835.5,749.4L847.7,732.4L857.4,718.4L869.6,700.4L879.3,685.6L891.5,666.5L901.2,650.8L911,634.7L920.7,618.1L930.5,601.1L940.2,583.6L949.9,565.6L959.7,547.1L959.7,960L935.3,970.4L911,981.3L886.6,992.4L862.3,1004L837.9,1016.1L816,1027.3L791.7,1040.2L769.8,1052.2L747.9,1064.7L725.9,1077.6L704,1091L684.6,1103.4L665.1,1116.1L645.6,1129.3L626.1,1143L606.6,1157.2L587.2,1171.8L570.1,1185.1L550.6,1200.8L533.6,1215.1L516.6,1229.8L499.5,1245L482.5,1260.8L465.4,1277.2L448.4,1294.1L433.8,1309.1L416.7,1327.3L402.1,1343.4L385.1,1362.9L370.5,1380.2L355.9,1398.1L341.3,1416.7L326.7,1435.9L312,1455.9L297.4,1476.6L285.3,1494.4L270.7,1516.6L258.5,1535.7L246.3,1555.5L234.1,1576L222,1597.1L209.8,1619L197.6,1641.7L185.4,1665.3L173.3,1689.7L161.1,1715L148.9,1741.3L139.2,1763.1L127,1791.3L117.3,1814.7L107.5,1838.8L97.8,1863.8L88.1,1889.6L78.3,1916.4L68.6,1944L58.8,1972.7L49.1,2002.4L39.4,2033.3L29.6,2065.3L22.3,2090.1L12.6,2124.3L5.3,2150.9L-4.5,2187.6L-11.8,2216.1Z" fill="#800F2C" stroke="#fff" stroke-opacity="0.17" stroke-width="0.8"/>
<path d="M40.7,856.3V1487.4M106.3,856.3V1487.4M132.6,856.3V1487.4M185.1,856.3V1487.4M224.5,856.3V1487.4M263.8,856.3V1487.4M316.3,856.3V1487.4M408.2,856.3V1487.4M486.9,856.3V1487.4M500.1,856.3V1487.4M565.7,856.3V1487.4M578.8,856.3V1487.4M591.9,856.3V1487.4M631.3,856.3V1487.4M657.6,856.3V1487.4M670.7,856.3V1487.4M710.1,856.3V1487.4M749.4,856.3V1487.4M801.9,856.3V1487.4M880.7,856.3V1487.4M893.8,856.3V1487.4M906.9,856.3V1487.4M27.6,1450.3H920.3M27.6,1394.6H920.3M27.6,1376.1H920.3M27.6,1329.7H920.3M27.6,1274H920.3M27.6,1246.2H920.3M27.6,1199.8H920.3M27.6,1171.9H920.3M27.6,1162.7H920.3M27.6,1060.6H920.3M27.6,958.5H920.3M27.6,949.3H920.3M27.6,940H920.3M27.6,902.9H920.3M27.6,893.6H920.3M27.6,865.8H920.3" fill="none" stroke="#fff" stroke-opacity="0.12" stroke-width="0.9"/>
<path d="M53.8,856.3V1487.4M93.2,856.3V1487.4M119.5,856.3V1487.4M145.7,856.3V1487.4M211.3,856.3V1487.4M355.7,856.3V1487.4M460.7,856.3V1487.4M473.8,856.3V1487.4M513.2,856.3V1487.4M605.1,856.3V1487.4M618.2,856.3V1487.4M762.5,856.3V1487.4M775.7,856.3V1487.4M841.3,856.3V1487.4M854.4,856.3V1487.4M27.6,1478.1H920.3M27.6,1441H920.3M27.6,1385.3H920.3M27.6,1357.5H920.3M27.6,1320.4H920.3M27.6,1301.8H920.3M27.6,1292.6H920.3M27.6,1236.9H920.3M27.6,1227.6H920.3M27.6,1209.1H920.3M27.6,1181.2H920.3M27.6,1153.4H920.3M27.6,1097.7H920.3M27.6,1088.4H920.3M27.6,1079.2H920.3M27.6,1069.9H920.3M27.6,1051.3H920.3M27.6,1042H920.3M27.6,977.1H920.3M27.6,967.8H920.3M27.6,930.7H920.3" fill="none" stroke="#fff" stroke-opacity="0.3" stroke-width="0.9"/>
<path d="M67,856.3V1487.4M80.1,856.3V1487.4M158.8,856.3V1487.4M172,856.3V1487.4M198.2,856.3V1487.4M237.6,856.3V1487.4M290.1,856.3V1487.4M342.6,856.3V1487.4M368.8,856.3V1487.4M395.1,856.3V1487.4M447.6,856.3V1487.4M539.4,856.3V1487.4M683.8,856.3V1487.4M696.9,856.3V1487.4M723.2,856.3V1487.4M736.3,856.3V1487.4M815,856.3V1487.4M27.6,1468.8H920.3M27.6,1459.6H920.3M27.6,1431.7H920.3M27.6,1413.2H920.3M27.6,1403.9H920.3M27.6,1348.2H920.3M27.6,1338.9H920.3M27.6,1264.7H920.3M27.6,1190.5H920.3M27.6,1134.8H920.3M27.6,1125.6H920.3M27.6,1032.8H920.3M27.6,995.7H920.3M27.6,986.4H920.3M27.6,921.4H920.3M27.6,912.2H920.3M27.6,875H920.3" fill="none" stroke="#fff" stroke-opacity="0.06" stroke-width="0.9"/>
<path d="M250.7,856.3V1487.4M277,856.3V1487.4M303.2,856.3V1487.4M329.5,856.3V1487.4M382,856.3V1487.4M421.3,856.3V1487.4M434.4,856.3V1487.4M526.3,856.3V1487.4M552.6,856.3V1487.4M644.4,856.3V1487.4M788.8,856.3V1487.4M828.2,856.3V1487.4M867.5,856.3V1487.4M27.6,1422.5H920.3M27.6,1366.8H920.3M27.6,1311.1H920.3M27.6,1283.3H920.3M27.6,1255.4H920.3M27.6,1218.3H920.3M27.6,1144.1H920.3M27.6,1116.3H920.3M27.6,1107H920.3M27.6,1023.5H920.3M27.6,1014.2H920.3M27.6,1004.9H920.3M27.6,884.3H920.3" fill="none" stroke="#fff" stroke-opacity="0.2" stroke-width="0.9"/>
</g>
<rect x="27.6" y="856.3" width="892.6999999999999" height="631.1000000000001" fill="none" stroke="#000" stroke-opacity="0.5" stroke-width="1.1"/>
<text x="130.4" y="1507.0" text-anchor="middle" class="tk">20</text>
<text x="261.6" y="1507.0" text-anchor="middle" class="tk">30</text>
<text x="392.9" y="1507.0" text-anchor="middle" class="tk">40</text>
<text x="524.1" y="1507.0" text-anchor="middle" class="tk">50</text>
<text x="655.4" y="1507.0" text-anchor="middle" class="tk">60</text>
<text x="786.6" y="1507.0" text-anchor="middle" class="tk">70</text>
<text x="917.8" y="1507.0" text-anchor="middle" class="tk">80</text>
<text transform="translate(16.0,1414.9) rotate(-90)" text-anchor="middle" class="tk">20</text>
<text transform="translate(16.0,1322.2) rotate(-90)" text-anchor="middle" class="tk">30</text>
<text transform="translate(16.0,1229.4) rotate(-90)" text-anchor="middle" class="tk">40</text>
<text transform="translate(16.0,1136.6) rotate(-90)" text-anchor="middle" class="tk">50</text>
<text transform="translate(16.0,1043.8) rotate(-90)" text-anchor="middle" class="tk">60</text>
<text transform="translate(16.0,951) rotate(-90)" text-anchor="middle" class="tk">70</text>
<text transform="translate(16.0,858.2) rotate(-90)" text-anchor="middle" class="tk">80</text>
<path d="M130.1,1487.4v4.9M261.3,1487.4v4.9M392.6,1487.4v4.9M523.8,1487.4v4.9M655.1,1487.4v4.9M786.3,1487.4v4.9M917.5,1487.4v4.9M27.6,1414.9h-4.9M27.6,1322.2h-4.9M27.6,1229.4h-4.9M27.6,1136.6h-4.9M27.6,1043.8h-4.9M27.6,951h-4.9M27.6,858.2h-4.9" fill="none" stroke="#808080" stroke-width="0.75"/>
<text x="474.2" y="841.7" text-anchor="middle" class="tt">Number Born Alive</text>
<text x="35.5" y="811.0" class="lt">B</text>
<text x="473.8" y="1528.2" text-anchor="middle" class="xl">Average THI 86 to 93 days into pregnancy</text>
<rect x="940.7" y="1462.16" width="21.399999999999977" height="25.24" fill="#FFFFCA" stroke="#000" stroke-opacity="0.62" stroke-width="0.8"/>
<rect x="940.7" y="1436.91" width="21.399999999999977" height="25.24" fill="#FFFBC5" stroke="#000" stroke-opacity="0.62" stroke-width="0.8"/>
<rect x="940.7" y="1411.67" width="21.399999999999977" height="25.24" fill="#FFF6BB" stroke="#000" stroke-opacity="0.62" stroke-width="0.8"/>
<rect x="940.7" y="1386.42" width="21.399999999999977" height="25.24" fill="#FDEFB0" stroke="#000" stroke-opacity="0.62" stroke-width="0.8"/>
<rect x="940.7" y="1361.18" width="21.399999999999977" height="25.24" fill="#FCE8A3" stroke="#000" stroke-opacity="0.62" stroke-width="0.8"/>
<rect x="940.7" y="1335.94" width="21.399999999999977" height="25.24" fill="#FAE193" stroke="#000" stroke-opacity="0.62" stroke-width="0.8"/>
<rect x="940.7" y="1310.69" width="21.399999999999977" height="25.24" fill="#F9D882" stroke="#000" stroke-opacity="0.62" stroke-width="0.8"/>
<rect x="940.7" y="1285.45" width="21.399999999999977" height="25.24" fill="#F8CF6E" stroke="#000" stroke-opacity="0.62" stroke-width="0.8"/>
<rect x="940.7" y="1260.20" width="21.399999999999977" height="25.24" fill="#F7C657" stroke="#000" stroke-opacity="0.62" stroke-width="0.8"/>
<rect x="940.7" y="1234.96" width="21.399999999999977" height="25.24" fill="#F6BB38" stroke="#000" stroke-opacity="0.62" stroke-width="0.8"/>
<rect x="940.7" y="1209.72" width="21.399999999999977" height="25.24" fill="#F5B108" stroke="#000" stroke-opacity="0.62" stroke-width="0.8"/>
<rect x="940.7" y="1184.47" width="21.399999999999977" height="25.24" fill="#F5A508" stroke="#000" stroke-opacity="0.62" stroke-width="0.8"/>
<rect x="940.7" y="1159.23" width="21.399999999999977" height="25.24" fill="#F39908" stroke="#000" stroke-opacity="0.62" stroke-width="0.8"/>
<rect x="940.7" y="1133.98" width="21.399999999999977" height="25.24" fill="#F28C08" stroke="#000" stroke-opacity="0.62" stroke-width="0.8"/>
<rect x="940.7" y="1108.74" width="21.399999999999977" height="25.24" fill="#F07F08" stroke="#000" stroke-opacity="0.62" stroke-width="0.8"/>
<rect x="940.7" y="1083.50" width="21.399999999999977" height="25.24" fill="#EE7008" stroke="#000" stroke-opacity="0.62" stroke-width="0.8"/>
<rect x="940.7" y="1058.25" width="21.399999999999977" height="25.24" fill="#EB5F08" stroke="#000" stroke-opacity="0.62" stroke-width="0.8"/>
<rect x="940.7" y="1033.01" width="21.399999999999977" height="25.24" fill="#E74D08" stroke="#000" stroke-opacity="0.62" stroke-width="0.8"/>
<rect x="940.7" y="1007.76" width="21.399999999999977" height="25.24" fill="#DB4108" stroke="#000" stroke-opacity="0.62" stroke-width="0.8"/>
<rect x="940.7" y="982.52" width="21.399999999999977" height="25.24" fill="#CD3608" stroke="#000" stroke-opacity="0.62" stroke-width="0.8"/>
<rect x="940.7" y="957.28" width="21.399999999999977" height="25.24" fill="#BF2B08" stroke="#000" stroke-opacity="0.62" stroke-width="0.8"/>
<rect x="940.7" y="932.03" width="21.399999999999977" height="25.24" fill="#B11F08" stroke="#000" stroke-opacity="0.62" stroke-width="0.8"/>
<rect x="940.7" y="906.79" width="21.399999999999977" height="25.24" fill="#A11514" stroke="#000" stroke-opacity="0.62" stroke-width="0.8"/>
<rect x="940.7" y="881.54" width="21.399999999999977" height="25.24" fill="#900F26" stroke="#000" stroke-opacity="0.62" stroke-width="0.8"/>
<rect x="940.7" y="856.30" width="21.399999999999977" height="25.24" fill="#800F2C" stroke="#000" stroke-opacity="0.62" stroke-width="0.8"/>
<text transform="translate(980.6,1462.16) rotate(-90)" text-anchor="middle" class="ck">-0.2</text>
<text transform="translate(980.6,1361.18) rotate(-90)" text-anchor="middle" class="ck">0.0</text>
<text transform="translate(980.6,1260.20) rotate(-90)" text-anchor="middle" class="ck">0.2</text>
<text transform="translate(980.6,1159.23) rotate(-90)" text-anchor="middle" class="ck">0.4</text>
<text transform="translate(980.6,1058.25) rotate(-90)" text-anchor="middle" class="ck">0.6</text>
<text transform="translate(980.6,957.28) rotate(-90)" text-anchor="middle" class="ck">0.8</text>
<text transform="translate(980.6,856.30) rotate(-90)" text-anchor="middle" class="ck">1.0</text>
<path d="M962.1,1462.16h4.9M962.1,1361.18h4.9M962.1,1260.20h4.9M962.1,1159.23h4.9M962.1,1058.25h4.9M962.1,957.28h4.9M962.1,856.30h4.9" fill="none" stroke="#808080" stroke-width="0.75"/>
<clipPath id="cC"><rect x="27.6" y="1656.6" width="892.6999999999999" height="630.9000000000001"/></clipPath>
<g clip-path="url(#cC)">
<rect x="27.6" y="1656.6" width="892.6999999999999" height="630.9000000000001" fill="#FFFFCA"/>
<path d="M-15.5,1697.7L1.7,1690.2L18.8,1682.1L36,1673.6L53.2,1664.4L67.9,1656L82.6,1647.2L97.4,1637.7L112.1,1627.7L126.8,1617L139.1,1607.4L151.3,1597.3L163.6,1586.6L175.9,1575.2L188.1,1563L200.4,1550L210.2,1539L220,1527.3L229.8,1514.9L239.7,1501.8L249.5,1487.8L259.3,1472.9L269.1,1457L278.9,1440L286.3,1426.4L296.1,1407.1L303.4,1391.7L310.8,1375.4L318.2,1358.1L325.5,1339.6L332.9,1320L340.2,1299.1L347.6,1276.7L355,1252.7L359.9,1235.7L367.2,1208.6L372.1,1189.4L379.5,1158.5L384.4,1136.5L389.3,1113.2L394.2,1088.6L399.1,1062.4L404,1034.6L408.9,1004.9L413.8,973.3L418.7,939.4L423.7,903.1L431,843.5L438.4,776.6L443.3,727.3L445.7,701L450.6,644.9L453.1,615L458,550.7L462.9,479.8L467.8,401.4L472.7,314L475.2,266.6L480.1,162.8L482.5,133.7L963.4,133.7L963.4,2226.3L951.1,2235.1L938.9,2244.4L926.6,2254.4L914.3,2264.9L902.1,2276.1L892.3,2285.5L882.4,2295.5L872.6,2306L862.8,2317.1L853,2328.9L843.2,2341.4L835.8,2351.2L826,2365.1L818.6,2376L808.8,2391.5L801.5,2403.8L794.1,2416.8L786.8,2430.5L779.4,2444.9L772,2460.1L764.7,2476.3L757.3,2493.4L750,2511.6L745,2524.4L737.7,2544.6L732.8,2558.9L725.4,2581.5L720.5,2597.4L713.2,2622.9L708.2,2640.9L703.3,2659.8L698.4,2679.8L693.5,2700.9L688.6,2723.2L683.7,2746.7L678.8,2771.7L673.9,2798.2L669,2826.4L661.6,2872.2L654.3,2922.8L646.9,2979.1L639.6,3042L632.2,3112.8L627.3,3165.1L624.8,3193L619.9,3252.8L615,3318.3L610.1,3390.7L605.2,3470.8L600.3,3560.1L595.4,3660.4L590.5,3773.5L588,3810.4L-15.5,3810.4Z" fill="#FFFAC2" stroke="#fff" stroke-opacity="0.17" stroke-width="0.8"/>
<path d="M-15.5,1721.1L4.1,1713L21.3,1705.5L38.5,1697.5L55.6,1688.9L72.8,1679.8L87.5,1671.5L104.7,1661.1L119.4,1651.6L134.2,1641.5L148.9,1630.7L163.6,1619.2L175.9,1608.9L188.1,1598L200.4,1586.4L212.7,1574L224.9,1560.7L237.2,1546.6L247,1534.5L259.3,1518.3L269.1,1504.5L278.9,1489.8L288.7,1474L298.5,1457.2L305.9,1443.8L315.7,1424.8L323.1,1409.7L330.4,1393.6L337.8,1376.5L345.1,1358.4L352.5,1339.1L359.9,1318.6L367.2,1296.6L374.6,1273.1L381.9,1247.8L389.3,1220.6L394.2,1201.3L401.6,1170.4L406.5,1148.3L411.4,1125L416.3,1100.2L421.2,1074L426.1,1046.1L431,1016.4L435.9,984.7L440.8,950.8L445.7,914.5L453.1,854.8L460.5,787.8L465.4,738.5L467.8,712.3L472.7,656.2L475.2,626.3L480.1,562L485,491.2L487.4,453.1L492.4,370.6L497.3,278.4L502.2,175L504.6,133.7L963.4,133.7L963.4,2197.6L948.7,2207.3L936.4,2215.9L924.1,2225L911.9,2234.6L899.6,2244.8L887.3,2255.7L875.1,2267.2L865.3,2277L855.4,2287.3L845.6,2298.1L835.8,2309.6L826,2321.8L816.2,2334.7L806.4,2348.4L796.6,2363L789.2,2374.6L779.4,2390.9L772,2403.9L764.7,2417.7L757.3,2432.1L750,2447.5L742.6,2463.7L735.2,2480.9L727.9,2499.1L720.5,2518.6L713.2,2539.3L705.8,2561.5L700.9,2577.1L693.5,2602.1L688.6,2619.7L683.7,2638.2L678.8,2657.8L673.9,2678.3L669,2700L664.1,2723L659.2,2747.3L654.3,2773.1L649.4,2800.4L644.5,2829.6L639.6,2860.7L632.2,2911.4L624.8,2967.7L617.5,3030.7L610.1,3101.5L605.2,3153.8L602.8,3181.8L597.8,3241.5L592.9,3307L590.5,3342.2L585.6,3418.2L580.7,3502.5L575.8,3596.8L570.9,3702.9L568.4,3761L566,3810.4L-15.5,3810.4Z" fill="#FEF3B5" stroke="#fff" stroke-opacity="0.17" stroke-width="0.8"/>
<path d="M-15.5,1743.1L4.1,1735.5L23.8,1727.4L43.4,1718.7L60.6,1710.6L77.7,1702L94.9,1692.8L112.1,1683L126.8,1674L141.5,1664.4L156.2,1654.2L171,1643.3L183.2,1633.6L197.9,1621.2L210.2,1610.2L222.5,1598.5L234.7,1586L247,1572.7L256.8,1561.3L269.1,1546.2L278.9,1533.3L288.7,1519.5L298.5,1504.9L308.3,1489.3L318.2,1472.7L328,1454.9L335.3,1440.7L345.1,1420.4L352.5,1404.3L362.3,1381.1L369.7,1362.5L377,1342.7L384.4,1321.6L391.8,1299L399.1,1274.8L406.5,1248.8L411.4,1230.3L418.7,1200.9L423.7,1179.9L428.6,1157.7L433.5,1134.3L440.8,1096.5L445.7,1069.4L450.6,1040.6L455.5,1009.8L460.5,977L465.4,941.8L472.7,884.2L480.1,819.8L485,772.4L487.4,747.3L492.4,693.7L494.8,665L499.7,603.8L502.2,571L507.1,500.5L509.5,462.5L514.4,380.3L519.3,288.6L526.7,133.7L963.4,133.7L963.4,2171.1L948.7,2180.1L936.4,2188L921.7,2198L909.4,2206.9L897.2,2216.3L884.9,2226.2L872.6,2236.8L860.4,2248L848.1,2259.9L838.3,2270L826,2283.4L816.2,2294.8L806.4,2306.9L796.6,2319.8L786.8,2333.4L776.9,2347.8L767.1,2363.3L759.8,2375.5L750,2392.9L742.6,2406.7L735.2,2421.3L727.9,2436.7L720.5,2453L713.2,2470.3L705.8,2488.7L698.4,2508.3L691.1,2529.1L686.2,2543.8L678.8,2567.1L673.9,2583.6L666.5,2609.9L661.6,2628.5L654.3,2658.3L649.4,2679.5L644.5,2702L639.6,2725.7L634.6,2750.8L629.7,2777.4L624.8,2805.7L619.9,2835.9L615,2868.1L610.1,2902.5L602.8,2959L595.4,3022L588,3092.8L583.1,3145.1L580.7,3172.9L575.8,3232.5L570.9,3297.9L568.4,3333L563.5,3408.7L558.6,3492.7L553.7,3586.5L548.8,3691.9L543.9,3810.4L-15.5,3810.4Z" fill="#FCEAA6" stroke="#fff" stroke-opacity="0.17" stroke-width="0.8"/>
<path d="M-15.5,1764L6.6,1755.9L26.2,1748.2L45.8,1740L63,1732.3L80.2,1724.2L97.4,1715.5L114.5,1706.3L131.7,1696.4L148.9,1685.8L163.6,1676.1L178.3,1665.8L193,1654.8L207.8,1643L220,1632.5L234.7,1619L247,1607L259.3,1594.2L271.5,1580.6L283.8,1565.9L293.6,1553.4L305.9,1536.7L315.7,1522.4L325.5,1507.2L335.3,1490.9L345.1,1473.6L352.5,1459.7L362.3,1440.1L369.7,1424.4L379.5,1402L386.9,1384L394.2,1364.8L401.6,1344.5L408.9,1322.7L416.3,1299.5L423.7,1274.6L428.6,1256.9L435.9,1228.8L440.8,1208.8L448.2,1176.8L453.1,1153.9L460.5,1117.1L465.4,1090.8L470.3,1062.8L475.2,1032.9L480.1,1001.2L485,967.2L492.4,911.7L499.7,849.7L507.1,780.3L512,729.1L514.4,701.9L519.3,643.7L521.8,612.6L526.7,545.9L529.2,510L534.1,432.7L536.5,391L541.4,300.4L543.9,251.1L548.8,143.5L551.2,133.7L963.4,133.7L963.4,2146.5L948.7,2154.8L934,2163.6L919.2,2173L904.5,2182.9L889.8,2193.5L877.5,2202.9L865.3,2212.8L853,2223.4L840.7,2234.6L828.5,2246.5L816.2,2259.2L806.4,2270L796.6,2281.3L786.8,2293.4L776.9,2306.1L767.1,2319.7L757.3,2334.1L747.5,2349.4L737.7,2365.8L730.3,2378.8L720.5,2397.2L713.2,2411.9L705.8,2427.4L698.4,2443.9L691.1,2461.3L683.7,2479.8L676.4,2499.5L669,2520.5L661.6,2543L656.7,2558.8L649.4,2584L644.5,2601.8L637.1,2630.2L632.2,2650.4L627.3,2671.7L622.4,2694.2L617.5,2718L612.6,2743.1L607.7,2769.8L602.8,2798.2L597.8,2828.4L592.9,2860.6L585.6,2913.2L580.7,2951.4L575.8,2992.5L568.4,3060.4L563.5,3110.3L561,3136.9L556.1,3193.6L551.2,3255.6L548.8,3288.8L543.9,3360.2L539,3439.2L536.5,3481.8L531.6,3574.5L526.7,3678.5L521.8,3795.9L519.3,3810.4L-15.5,3810.4Z" fill="#FAE092" stroke="#fff" stroke-opacity="0.17" stroke-width="0.8"/>
<path d="M-15.5,1784L6.6,1776.3L28.7,1768.1L48.3,1760.3L67.9,1751.9L87.5,1743L104.7,1734.6L121.9,1725.8L139.1,1716.3L156.2,1706.1L171,1696.9L188.1,1685.3L202.9,1674.7L217.6,1663.4L232.3,1651.3L247,1638.3L259.3,1626.8L271.5,1614.4L283.8,1601.3L296.1,1587.3L308.3,1572.2L320.6,1556.1L330.4,1542.3L340.2,1527.6L350.1,1512L359.9,1495.3L369.7,1477.4L379.5,1458.3L386.9,1443.1L396.7,1421.3L404,1403.9L413.8,1379L421.2,1358.9L428.6,1337.5L435.9,1314.7L443.3,1290.3L450.6,1264L458,1235.8L462.9,1215.8L470.3,1183.7L475.2,1160.8L482.5,1124L487.4,1097.7L492.4,1069.7L497.3,1040L502.2,1008.3L507.1,974.5L512,938.3L516.9,899.5L524.2,835.8L531.6,764.2L536.5,711.4L539,683.3L543.9,623.3L546.3,591.2L551.2,522.4L553.7,485.4L558.6,405.6L563.5,317L566,268.9L570.9,164L573.3,133.7L963.4,133.7L963.4,2123.3L946.2,2132.4L931.5,2140.7L916.8,2149.4L902.1,2158.7L887.3,2168.6L872.6,2179.1L857.9,2190.4L845.6,2200.4L833.4,2210.9L821.1,2222.1L808.8,2234L796.6,2246.7L784.3,2260.3L774.5,2271.8L762.2,2287.2L752.4,2300.3L742.6,2314.2L732.8,2328.9L723,2344.7L715.6,2357.2L705.8,2374.8L698.4,2388.9L688.6,2408.8L681.3,2424.8L673.9,2441.7L666.5,2459.6L659.2,2478.6L651.8,2498.9L644.5,2520.5L637.1,2543.5L629.7,2568.2L624.8,2585.6L617.5,2613.5L612.6,2633.2L605.2,2664.8L600.3,2687.3L595.4,2711.1L590.5,2736.2L585.6,2762.9L580.7,2791.2L575.8,2821.3L570.9,2853.4L563.5,2905.7L558.6,2943.7L553.7,2984.5L546.3,3051.8L541.4,3101.3L539,3127.6L534.1,3183.6L531.6,3213.4L526.7,3277.4L524.2,3311.6L519.3,3385.3L514.4,3466.9L509.5,3557.5L504.6,3658.8L499.7,3773L497.3,3810.4L-15.5,3810.4Z" fill="#F9D67C" stroke="#fff" stroke-opacity="0.17" stroke-width="0.8"/>
<path d="M-15.5,1803.4L6.6,1796L28.7,1788.2L50.7,1779.8L70.4,1771.8L90,1763.3L109.6,1754.2L129.3,1744.4L146.4,1735.3L163.6,1725.5L180.8,1715.1L197.9,1704L212.7,1693.7L227.4,1682.8L242.1,1671.2L256.8,1658.8L271.5,1645.4L283.8,1633.6L296.1,1620.9L308.3,1607.4L320.6,1593L332.9,1577.6L342.7,1564.4L355,1546.8L364.8,1531.7L374.6,1515.7L384.4,1498.6L394.2,1480.3L404,1460.7L413.8,1439.6L421.2,1422.7L431,1398.7L438.4,1379.3L445.7,1358.8L453.1,1336.8L460.5,1313.4L467.8,1288.4L475.2,1261.5L482.5,1232.6L489.9,1201.4L494.8,1179.3L502.2,1143.7L507.1,1118.2L512,1091.3L516.9,1062.7L521.8,1032.3L526.7,999.9L531.6,965.3L536.5,928.4L541.4,888.7L546.3,846.1L553.7,775.9L558.6,724.2L561,696.8L566,638.2L568.4,606.9L573.3,540L575.8,504.1L580.7,426.9L583.1,385.2L588,295.1L590.5,246.2L595.4,139.7L597.8,133.7L963.4,133.7L963.4,2101.3L946.2,2109.8L929.1,2118.9L911.9,2128.6L897.2,2137.4L882.4,2146.8L867.7,2156.7L853,2167.3L838.3,2178.6L823.6,2190.7L811.3,2201.4L799,2212.8L786.8,2224.9L774.5,2237.8L764.7,2248.7L752.4,2263.2L742.6,2275.5L732.8,2288.6L723,2302.4L713.2,2317.1L703.3,2332.8L693.5,2349.4L683.7,2367.3L673.9,2386.3L666.5,2401.6L656.7,2423.2L649.4,2440.5L642,2458.9L634.6,2478.4L627.3,2499.1L619.9,2521.2L612.6,2544.9L607.7,2561.5L600.3,2588L595.4,2606.8L588,2636.7L583.1,2658L578.2,2680.4L573.3,2704.1L568.4,2729.1L563.5,2755.6L558.6,2783.7L553.7,2813.6L548.8,2845.3L543.9,2879.2L539,2915.5L534.1,2954.3L526.7,3018L519.3,3089.4L514.4,3141.9L512,3169.9L507.1,3229.5L504.6,3261.3L499.7,3329.5L494.8,3404.6L492.4,3445L487.4,3532.4L482.5,3629.7L480.1,3682.7L475.2,3798.5L472.7,3810.4L-15.5,3810.4Z" fill="#F8C962" stroke="#fff" stroke-opacity="0.17" stroke-width="0.8"/>
<path d="M-15.5,1822.3L9,1814.4L31.1,1806.8L53.2,1798.7L75.3,1790L97.4,1780.7L117,1771.9L136.6,1762.4L153.8,1753.6L171,1744.2L188.1,1734.2L205.3,1723.4L222.5,1712L239.7,1699.6L254.4,1688.3L269.1,1676.2L283.8,1663.3L298.5,1649.4L310.8,1637L323.1,1623.9L335.3,1609.9L347.6,1594.9L359.9,1578.8L372.1,1561.5L381.9,1546.8L394.2,1527L404,1510.1L413.8,1491.9L423.7,1472.5L433.5,1451.8L440.8,1435.1L450.6,1411.5L458,1392.5L467.8,1365.4L475.2,1343.5L482.5,1320.1L489.9,1295.2L497.3,1268.4L504.6,1239.7L512,1208.8L516.9,1186.8L524.2,1151.6L529.2,1126.5L536.5,1086.1L541.4,1057.1L546.3,1026.3L551.2,993.6L556.1,958.6L561,921.2L566,881.2L570.9,838.3L578.2,767.5L583.1,715.5L588,659.2L592.9,597.8L595.4,565L600.3,494.9L602.8,457.2L607.7,376.1L612.6,286.4L615,237.7L619.9,133.7L963.4,133.7L963.4,2080.1L946.2,2088.2L929.1,2096.8L911.9,2105.9L894.7,2115.6L877.5,2125.9L862.8,2135.4L848.1,2145.4L833.4,2156.1L818.6,2167.5L806.4,2177.5L791.7,2190.4L779.4,2201.8L767.1,2213.9L754.9,2226.8L742.6,2240.5L730.3,2255.2L718.1,2270.9L708.2,2284.3L696,2302.2L686.2,2317.5L676.4,2333.8L666.5,2351.2L656.7,2369.7L649.4,2384.5L639.6,2405.4L632.2,2422.2L624.8,2439.9L617.5,2458.6L610.1,2478.6L602.8,2499.7L595.4,2522.3L588,2546.4L580.7,2572.2L575.8,2590.4L568.4,2619.4L563.5,2639.9L556.1,2672.8L551.2,2696.2L546.3,2720.9L541.4,2747L536.5,2774.7L531.6,2804L526.7,2835.2L521.8,2868.4L516.9,2903.9L512,2941.7L504.6,3003.7L497.3,3072.9L489.9,3150.7L485,3208L482.5,3238.6L477.6,3303.8L475.2,3338.8L470.3,3413.8L467.8,3454.1L462.9,3541.2L458,3638L455.5,3690.6L450.6,3805.4L448.2,3810.4L-15.5,3810.4Z" fill="#F6BD3E" stroke="#fff" stroke-opacity="0.17" stroke-width="0.8"/>
<path d="M-15.5,1840.9L9,1833.2L33.6,1825.1L55.6,1817.3L77.7,1808.9L99.8,1799.9L121.9,1790.3L141.5,1781.2L161.1,1771.4L180.8,1761L197.9,1751.2L215.1,1740.7L232.3,1729.6L249.5,1717.6L264.2,1706.7L281.4,1693L296.1,1680.5L310.8,1667L323.1,1655.1L337.8,1639.8L350.1,1626.1L362.3,1611.5L374.6,1595.9L386.9,1579.2L399.1,1561.3L411.4,1542L421.2,1525.5L431,1507.9L440.8,1489.1L450.6,1469L460.5,1447.5L470.3,1424.3L477.6,1405.7L487.4,1379.2L494.8,1357.9L502.2,1335.3L509.5,1311.1L516.9,1285.3L524.2,1257.6L531.6,1228L536.5,1206.9L543.9,1173.3L548.8,1149.4L556.1,1111L561,1083.6L568.4,1039.4L573.3,1007.7L578.2,973.9L583.1,937.9L588,899.4L592.9,858.2L600.3,790.7L605.2,741.3L610.1,687.9L615,630.1L617.5,599.3L622.4,533.5L624.8,498.4L629.7,423.1L632.2,382.7L637.1,295.5L639.6,248.5L644.5,146.4L646.9,133.7L963.4,133.7L963.4,2059.6L943.8,2068.4L926.6,2076.6L907,2086.6L889.8,2095.9L872.6,2105.8L857.9,2114.8L840.7,2126L826,2136.3L811.3,2147.1L796.6,2158.7L781.8,2171.1L769.6,2182L754.9,2196L742.6,2208.5L730.3,2221.7L718.1,2235.8L705.8,2250.8L696,2263.6L683.7,2280.6L673.9,2295.2L664.1,2310.6L654.3,2326.9L644.5,2344.4L634.6,2363L624.8,2382.9L617.5,2398.8L607.7,2421.3L600.3,2439.3L590.5,2465L583.1,2485.6L575.8,2507.5L568.4,2530.9L561,2555.8L553.7,2582.4L546.3,2611L541.4,2631.3L534.1,2663.5L529.2,2686.5L524.2,2710.6L519.3,2736.1L514.4,2763.1L509.5,2791.7L504.6,2821.9L499.7,2854.1L494.8,2888.3L489.9,2924.8L485,2963.8L480.1,3005.6L472.7,3074.2L465.4,3150.9L460.5,3207.4L458,3237.4L453.1,3301.5L450.6,3335.7L445.7,3409L443.3,3448.3L438.4,3532.9L433.5,3626.6L431,3677.4L426.1,3787.8L423.7,3810.4L-15.5,3810.4Z" fill="#F5AF08" stroke="#fff" stroke-opacity="0.17" stroke-width="0.8"/>
<path d="M-15.5,1859.3L11.5,1851.2L36,1843.2L60.6,1834.7L82.6,1826.5L104.7,1817.8L126.8,1808.5L148.9,1798.4L168.5,1788.9L188.1,1778.7L205.3,1769.3L224.9,1757.7L242.1,1746.8L259.3,1735.2L276.5,1722.8L293.6,1709.4L308.3,1697.2L323.1,1684.1L337.8,1670.2L352.5,1655.2L364.8,1641.9L372.1,1633.5L379.5,1624.8L391.8,1609.5L404,1593.1L416.3,1575.6L428.6,1556.8L438.4,1540.8L450.6,1519.3L460.5,1500.8L470.3,1481.1L480.1,1460L489.9,1437.4L497.3,1419.4L507.1,1393.7L514.4,1373.1L524.2,1343.6L531.6,1319.9L539,1294.6L546.3,1267.6L553.7,1238.6L561,1207.6L568.4,1174.2L573.3,1150.4L580.7,1112.4L585.6,1085.3L592.9,1041.7L597.8,1010.5L602.8,977.3L607.7,942L612.6,904.4L617.5,864.3L622.4,821.3L627.3,775.2L632.2,725.6L637.1,672.1L642,614.3L644.5,583.5L649.4,518L651.8,483.1L656.7,408.3L659.2,368.2L664.1,282.1L666.5,235.7L671.4,135.3L673.9,133.7L963.4,133.7L963.4,2039.6L943.8,2048L924.1,2057L904.5,2066.5L887.3,2075.4L870.2,2084.9L853,2094.9L835.8,2105.6L818.6,2117.1L803.9,2127.5L789.2,2138.6L774.5,2150.4L759.8,2162.9L745,2176.3L732.8,2188.2L718.1,2203.4L705.8,2217L693.5,2231.4L681.3,2246.8L669,2263.2L659.2,2277.2L646.9,2295.8L637.1,2311.8L627.3,2328.7L617.5,2346.7L607.7,2365.9L597.8,2386.4L588,2408.4L580.7,2425.9L570.9,2450.8L563.5,2470.8L556.1,2492L548.8,2514.5L541.4,2538.4L534.1,2564L526.7,2591.2L521.8,2610.5L514.4,2641.1L509.5,2662.8L502.2,2697.4L497.3,2722.1L489.9,2761.5L485,2789.7L480.1,2819.5L475.2,2851.2L470.3,2884.7L465.4,2920.5L460.5,2958.6L455.5,2999.3L448.2,3065.8L440.8,3140L433.5,3223.2L428.6,3284.5L426.1,3317.1L421.2,3386.7L418.7,3424L413.8,3503.8L411.4,3546.7L406.5,3639.1L404,3689L399.1,3797.3L396.7,3810.4L-15.5,3810.4Z" fill="#F4A108" stroke="#fff" stroke-opacity="0.17" stroke-width="0.8"/>
<path d="M-15.5,1877.9L6.6,1871.4L28.7,1864.5L50.7,1857.3L70.4,1850.4L90,1843.2L109.6,1835.6L129.3,1827.5L148.9,1818.9L168.5,1809.8L185.7,1801.4L202.9,1792.4L220,1782.9L237.2,1772.9L251.9,1763.7L266.6,1754.1L281.4,1743.9L296.1,1733.1L310.8,1721.7L325.5,1709.5L337.8,1698.7L350.1,1687.4L362.3,1675.4L374.6,1662.8L386.9,1649.3L399.1,1635L408.9,1623L421.2,1607L431,1593.4L440.8,1579.1L450.6,1564L460.5,1548L470.3,1531L477.6,1517.5L482.5,1508.2L492.4,1488.7L499.7,1473.2L504.6,1462.5L514.4,1439.8L524.2,1415.5L534.1,1389.4L543.9,1361.2L553.7,1330.7L563.5,1297.7L570.9,1271L575.8,1252.2L580.7,1232.5L588,1201.3L595.4,1167.8L602.8,1131.6L610.1,1092.6L617.5,1050.4L624.8,1004.5L629.7,971.7L637.1,918.5L642,880.3L649.4,818L654.3,772.9L659.2,724.5L664.1,672.5L669,616.4L673.9,555.7L678.8,489.9L681.3,454.9L686.2,380.1L691.1,298.2L696,208.2L698.4,159.8L700.9,133.7L963.4,133.7L963.4,2019.8L941.3,2028.9L921.7,2037.6L902.1,2046.8L882.4,2056.6L862.8,2067.1L845.6,2076.9L828.5,2087.2L811.3,2098.3L794.1,2110L779.4,2120.8L764.7,2132.1L750,2144.2L735.2,2157.1L720.5,2170.9L705.8,2185.6L693.5,2198.6L681.3,2212.4L669,2227.1L656.7,2242.8L644.5,2259.5L632.2,2277.4L622.4,2292.6L610.1,2312.9L600.3,2330.2L590.5,2348.7L580.7,2368.3L570.9,2389.3L563.5,2406L553.7,2429.6L546.3,2448.5L536.5,2475.3L529.2,2496.8L521.8,2519.6L514.4,2543.8L507.1,2569.6L499.7,2597.2L492.4,2626.6L487.4,2647.4L480.1,2680.4L475.2,2703.9L467.8,2741.3L462.9,2767.9L455.5,2810.6L450.6,2841.1L445.7,2873.4L440.8,2907.7L435.9,2944.1L431,2982.9L426.1,3024.3L421.2,3068.5L413.8,3140.9L408.9,3193.7L404,3250.7L399.1,3312.3L396.7,3345.1L391.8,3414.9L389.3,3452.2L384.4,3531.8L379.5,3619.3L374.6,3715.9L372.1,3767.9L369.7,3810.4L-15.5,3810.4Z" fill="#F29108" stroke="#fff" stroke-opacity="0.17" stroke-width="0.8"/>
<path d="M-15.5,1896.7L9,1889.6L33.6,1882.1L55.6,1874.9L77.7,1867.2L99.8,1859.1L119.4,1851.5L139.1,1843.5L158.7,1834.9L178.3,1825.9L195.5,1817.6L215.1,1807.4L232.3,1798L249.5,1788.1L266.6,1777.5L283.8,1766.3L298.5,1756.1L313.3,1745.3L328,1733.9L342.7,1721.8L357.4,1708.9L372.1,1695.3L384.4,1683.2L396.7,1670.4L408.9,1656.9L421.2,1642.6L433.5,1627.4L445.7,1611.2L455.5,1597.5L467.8,1579.3L477.6,1563.9L487.4,1547.6L497.3,1530.3L509.5,1507.2L516.9,1492.5L521.8,1482.3L529.2,1466.4L534.1,1455.3L543.9,1432.1L553.7,1407.2L563.5,1380.5L573.3,1351.7L583.1,1320.7L592.9,1287.1L600.3,1260.1L605.2,1241L610.1,1221.2L617.5,1189.7L624.8,1155.9L632.2,1119.6L639.6,1080.6L646.9,1038.4L654.3,992.7L659.2,960.1L666.5,907.5L671.4,869.7L678.8,808.5L683.7,764.3L688.6,717L693.5,666.4L698.4,612L703.3,553.5L708.2,490.2L713.2,421.7L718.1,347.2L720.5,307.5L725.4,222.5L730.3,133.7L963.4,133.7L963.4,2000L941.3,2008.8L919.2,2018.3L897.2,2028.4L877.5,2037.9L857.9,2048.1L840.7,2057.5L821.1,2069L803.9,2079.7L786.8,2091L769.6,2103.1L752.4,2116.1L737.7,2127.9L723,2140.4L708.2,2153.7L693.5,2167.9L678.8,2183L664.1,2199.2L651.8,2213.6L639.6,2228.9L627.3,2245.1L615,2262.5L605.2,2277.2L592.9,2296.7L583.1,2313.4L573.3,2331L563.5,2349.7L553.7,2369.6L543.9,2390.8L534.1,2413.5L524.2,2437.7L514.4,2463.6L507.1,2484.4L497.3,2513.9L489.9,2537.6L482.5,2562.7L475.2,2589.5L467.8,2617.9L460.5,2648.3L453.1,2680.9L448.2,2703.9L440.8,2740.5L435.9,2766.5L428.6,2808L423.7,2837.6L418.7,2868.8L413.8,2901.8L408.9,2936.8L404,2973.9L399.1,3013.3L394.2,3055.3L386.9,3123.7L381.9,3173.3L377,3226.5L369.7,3314.1L362.3,3412.5L357.4,3485.2L355,3523.9L350.1,3606.6L347.6,3650.9L342.7,3746L340.2,3797.2L337.8,3810.4L-15.5,3810.4Z" fill="#F08008" stroke="#fff" stroke-opacity="0.17" stroke-width="0.8"/>
<path d="M-15.5,1916.1L11.5,1908.3L36,1900.8L60.6,1892.9L82.6,1885.3L104.7,1877.3L126.8,1868.8L148.9,1859.7L168.5,1851.2L188.1,1842.3L207.8,1832.7L227.4,1822.7L247,1811.9L264.2,1802L281.4,1791.4L298.5,1780.3L315.7,1768.4L332.9,1755.8L347.6,1744.4L362.3,1732.2L377,1719.4L391.8,1705.7L404,1693.7L418.7,1678.4L431,1664.9L443.3,1650.6L455.5,1635.5L467.8,1619.5L480.1,1602.4L492.4,1584.2L502.2,1568.8L514.4,1548.4L524.2,1531L536.5,1507.9L548.8,1482.9L556.1,1467.1L561,1456.1L570.9,1433L580.7,1408.3L590.5,1382L600.3,1353.7L610.1,1323.3L619.9,1290.5L627.3,1264.2L637.1,1226.6L644.5,1196.3L649.4,1174.9L654.3,1152.6L661.6,1117.2L669,1079.2L676.4,1038.3L683.7,994.3L691.1,946.6L698.4,894.9L703.3,857.9L710.7,798.3L715.6,755.4L720.5,709.7L725.4,660.9L730.3,608.8L735.2,552.9L742.6,461.1L747.5,393.8L752.4,321.1L757.3,242.1L762.2,156L764.7,133.7L963.4,133.7L963.4,1979.9L938.9,1989.6L916.8,1998.8L894.7,2008.6L872.6,2019.1L853,2029L833.4,2039.5L813.7,2050.7L794.1,2062.6L776.9,2073.7L759.8,2085.5L742.6,2098L725.4,2111.4L708.2,2125.7L693.5,2138.7L678.8,2152.5L664.1,2167.3L649.4,2182.9L637.1,2196.8L622.4,2214.5L610.1,2230.3L597.8,2247L585.6,2264.8L573.3,2283.8L561,2304.1L548.8,2325.8L539,2344.3L529.2,2363.9L519.3,2384.7L509.5,2406.9L499.7,2430.5L489.9,2455.7L482.5,2475.8L472.7,2504.3L465.4,2527.1L458,2551.1L450.6,2576.6L443.3,2603.7L435.9,2632.4L428.6,2663L421.2,2695.7L413.8,2730.7L406.5,2768.1L399.1,2808.4L394.2,2837L386.9,2882.7L381.9,2915.2L377,2949.6L372.1,2985.9L367.2,3024.4L362.3,3065.3L357.4,3108.8L352.5,3155.1L347.6,3204.5L342.7,3257.4L335.3,3344L328,3440.8L320.6,3549.6L315.7,3630L313.3,3672.9L305.9,3810.4L-15.5,3810.4Z" fill="#ED6D08" stroke="#fff" stroke-opacity="0.17" stroke-width="0.8"/>
<path d="M-15.5,1936.3L11.5,1928.6L38.5,1920.3L65.5,1911.6L90,1903.1L114.5,1894.1L139.1,1884.6L161.1,1875.5L183.2,1865.8L205.3,1855.6L224.9,1845.9L244.6,1835.7L264.2,1824.8L283.8,1813.3L301,1802.7L320.6,1789.7L337.8,1777.7L355,1764.9L369.7,1753.3L386.9,1739L401.6,1725.9L416.3,1712.1L431,1697.5L445.7,1681.9L460.5,1665.4L475.2,1647.7L487.4,1632.1L499.7,1615.5L512,1598L524.2,1579.4L534.1,1563.6L546.3,1542.7L556.1,1525L568.4,1501.5L580.7,1476.2L592.9,1449.1L602.8,1425.8L610.1,1407.5L615,1394.7L624.8,1367.9L634.6,1339.3L644.5,1308.6L654.3,1275.6L661.6,1249.2L671.4,1211.6L678.8,1181.4L688.6,1138.1L696,1103.1L703.3,1065.7L710.7,1025.7L718.1,982.7L725.4,936.5L732.8,886.6L737.7,851.1L745,794.1L750,753.3L757.3,687.5L762.2,640.1L767.1,589.8L772,536L776.9,478.6L781.8,417L786.8,350.8L791.7,279.6L799,161.7L801.5,133.7L963.4,133.7L963.4,1959.3L938.9,1968.8L914.3,1978.9L892.3,1988.5L870.2,1998.7L848.1,2009.6L826,2021.1L806.4,2032.1L786.8,2043.7L767.1,2056.1L750,2067.6L730.3,2081.6L713.2,2094.7L696,2108.5L681.3,2121.2L664.1,2136.8L649.4,2151.1L634.6,2166.2L619.9,2182.3L605.2,2199.5L592.9,2214.7L585.6,2224.2L578.2,2234.1L566,2251.3L553.7,2269.6L541.4,2289L529.2,2309.7L519.3,2327.3L507.1,2350.6L497.3,2370.5L487.4,2391.6L477.6,2413.9L467.8,2437.7L458,2462.9L448.2,2489.9L440.8,2511.4L431,2541.7L423.7,2566L413.8,2600.5L406.5,2628.1L399.1,2657.4L391.8,2688.5L384.4,2721.6L377,2756.9L369.7,2794.6L364.8,2821.2L357.4,2863.6L352.5,2893.6L345.1,2941.5L340.2,2975.5L335.3,3011.4L330.4,3049.4L325.5,3089.5L320.6,3131.9L315.7,3177L310.8,3224.9L305.9,3276L301,3330.5L296.1,3388.7L291.2,3451.2L283.8,3553.9L276.5,3669L271.5,3753.9L269.1,3799.1L266.6,3810.4L-15.5,3810.4Z" fill="#EA5808" stroke="#fff" stroke-opacity="0.17" stroke-width="0.8"/>
<path d="M-15.5,1957.8L13.9,1949.3L40.9,1941L67.9,1932.2L94.9,1922.8L121.9,1912.9L146.4,1903.3L171,1893.1L193,1883.4L215.1,1873.1L237.2,1862.2L259.3,1850.7L278.9,1839.8L298.5,1828.3L318.2,1816.1L337.8,1803.1L357.4,1789.3L374.6,1776.5L391.8,1762.9L408.9,1748.6L426.1,1733.3L443.3,1717L458,1702.2L472.7,1686.5L487.4,1669.9L502.2,1652.2L514.4,1636.6L529.2,1616.8L541.4,1599.2L553.7,1580.7L566,1561L578.2,1540.1L590.5,1517.8L602.8,1494.1L615,1468.7L627.3,1441.6L639.6,1412.5L646.9,1394L651.8,1381.2L661.6,1354.3L671.4,1325.8L681.3,1295.3L691.1,1262.7L700.9,1227.8L710.7,1190.2L718.1,1160.2L727.9,1117.4L735.2,1082.9L742.6,1046.3L750,1007.3L757.3,965.7L764.7,921.1L772,873.3L779.4,821.8L786.8,766.4L791.7,726.9L799,663.6L803.9,618.4L811.3,545.4L816.2,493L821.1,437.2L826,377.8L830.9,314.3L835.8,246.3L843.2,134.7L845.6,133.7L963.4,133.7L963.4,1937.9L941.3,1946.2L921.7,1954.1L899.6,1963.3L880,1972L860.4,1981.1L840.7,1990.7L821.1,2000.9L803.9,2010.2L786.8,2020L769.6,2030.3L752.4,2041.1L735.2,2052.6L718.1,2064.6L703.3,2075.5L688.6,2086.9L673.9,2098.9L659.2,2111.6L644.5,2124.9L629.7,2139L617.5,2151.3L602.8,2166.9L590.5,2180.6L578.2,2195L566,2210.2L553.7,2226.1L543.9,2239.6L531.6,2257.2L521.8,2272.1L509.5,2291.6L499.7,2308.1L489.9,2325.5L480.1,2343.7L467.8,2367.9L455.5,2393.7L443.3,2421.4L431,2451.1L423.7,2470L418.7,2483.1L408.9,2510.5L401.6,2532.2L396.7,2547.3L386.9,2579.1L377,2613L367.2,2649.5L357.4,2688.7L350.1,2720.2L340.2,2765.1L332.9,2801.3L325.5,2839.8L318.2,2880.9L310.8,2924.9L303.4,2972L296.1,3022.7L291.2,3058.7L283.8,3116.2L278.9,3157.2L271.5,3223L266.6,3270.1L259.3,3346.2L254.4,3401L249.5,3459.3L244.6,3521.6L237.2,3623.3L232.3,3697.4L227.4,3777.2L224.9,3810.4L-15.5,3810.4Z" fill="#DF4508" stroke="#fff" stroke-opacity="0.17" stroke-width="0.8"/>
<path d="M-15.5,1981.2L16.4,1971.7L45.8,1962.5L75.3,1952.6L102.3,1943.1L129.3,1933L156.2,1922.3L180.8,1912L205.3,1901L229.8,1889.5L254.4,1877.1L276.5,1865.4L298.5,1852.9L320.6,1839.7L342.7,1825.7L362.3,1812.4L381.9,1798.4L401.6,1783.5L418.7,1769.7L428.6,1761.5L438.4,1753L455.5,1737.4L472.7,1721L487.4,1706L504.6,1687.5L519.3,1670.7L534.1,1653L548.8,1634.1L563.5,1614.2L578.2,1592.9L592.9,1570.3L605.2,1550.3L617.5,1529.1L629.7,1506.6L642,1482.8L654.3,1457.5L666.5,1430.6L678.8,1401.8L691.1,1371L700.9,1344.8L708.2,1324.1L713.2,1309.8L723,1280L732.8,1248.2L742.6,1214.3L752.4,1178.2L759.8,1149.4L769.6,1108.7L776.9,1076.1L786.8,1029.9L794.1,992.7L801.5,953.4L808.8,911.5L816.2,867L823.6,819.5L830.9,768.6L835.8,732.7L843.2,675.6L848.1,635.1L855.4,570.4L860.4,524.3L865.3,475.8L870.2,424.4L877.5,341.7L882.4,282.4L887.3,219.3L892.3,152.1L894.7,133.7L963.4,133.7L963.4,1914.9L938.9,1924.2L916.8,1933.1L894.7,1942.4L872.6,1952.1L850.5,1962.4L830.9,1972.1L808.8,1983.5L789.2,1994.2L769.6,2005.5L750,2017.4L730.3,2029.9L713.2,2041.5L696,2053.7L678.8,2066.5L661.6,2080L646.9,2092.2L629.7,2107.2L615,2120.8L600.3,2135L585.6,2150L570.9,2165.8L558.6,2179.7L543.9,2197.2L531.6,2212.6L519.3,2228.7L507.1,2245.7L494.8,2263.5L482.5,2282.4L470.3,2302.3L460.5,2319L448.2,2341L438.4,2359.6L426.1,2384.1L413.8,2410.2L401.6,2438L389.3,2467.7L377,2499.6L367.2,2526.7L359.9,2548.1L355,2562.9L345.1,2593.9L335.3,2626.9L325.5,2662.2L315.7,2699.8L308.3,2729.8L298.5,2772.3L291.2,2806.3L281.4,2854.8L274,2893.7L266.6,2935L259.3,2979L251.9,3025.9L244.6,3076.1L237.2,3129.8L232.3,3167.8L224.9,3228.5L220,3271.5L212.7,3340.4L207.8,3389.5L202.9,3441.5L197.9,3496.4L190.6,3585.2L185.7,3649.1L180.8,3717.2L175.9,3789.9L173.4,3810.4L-15.5,3810.4Z" fill="#CE3708" stroke="#fff" stroke-opacity="0.17" stroke-width="0.8"/>
<path d="M-15.5,2007.3L18.8,1996.8L50.7,1986.4L82.6,1975.4L112.1,1964.7L141.5,1953.3L171,1941.2L197.9,1929.4L224.9,1917L251.9,1903.7L276.5,1891L301,1877.5L325.5,1863.2L350.1,1848L372.1,1833.5L394.2,1818.1L413.8,1803.6L433.5,1788.3L453.1,1772.1L472.7,1755L482.5,1746L492.4,1736.8L502.2,1727.2L512,1717.4L529.2,1699.5L546.3,1680.4L563.5,1660.3L573.3,1648.2L580.7,1638.9L595.4,1619.4L610.1,1598.9L624.8,1577.1L639.6,1554.1L654.3,1529.6L661.6,1516.8L669,1503.6L681.3,1480.7L693.5,1456.4L705.8,1430.7L718.1,1403.6L730.3,1374.7L742.6,1344.1L752.4,1318.1L762.2,1290.8L772,1262L781.8,1231.6L791.7,1199.4L801.5,1165.3L811.3,1129.1L821.1,1090.7L828.5,1060.2L838.3,1017.2L845.6,983L853,947L860.4,909.1L867.7,869L875.1,826.7L882.4,781.8L887.3,750.4L894.7,700.9L899.6,666.2L907,611.2L914.3,552.5L921.7,489.7L929.1,422.3L936.4,349.9L941.3,298.6L948.7,216.3L953.6,157.8L956,133.7L963.4,133.7L963.4,1889.8L936.4,1900.1L911.9,1910.1L887.3,1920.6L862.8,1931.6L838.3,1943.2L816.2,1954.2L794.1,1965.8L772,1978L750,1990.9L730.3,2002.9L710.7,2015.6L691.1,2028.9L671.4,2043L654.3,2055.9L634.6,2071.5L617.5,2085.8L600.3,2100.9L583.1,2116.8L566,2133.6L551.2,2148.7L536.5,2164.6L521.8,2181.3L507.1,2198.9L492.4,2217.4L477.6,2236.9L465.4,2254L450.6,2275.6L438.4,2294.6L426.1,2314.6L413.8,2335.6L401.6,2357.7L389.3,2381L381.9,2395.6L374.6,2410.8L362.3,2437.1L350.1,2465.1L337.8,2494.8L325.5,2526.4L315.7,2553.1L303.4,2588.6L293.6,2618.8L283.8,2650.7L274,2684.5L264.2,2720.4L254.4,2758.5L244.6,2799.1L234.7,2842.4L224.9,2888.7L217.6,2925.6L207.8,2977.9L200.4,3019.8L193,3064.1L185.7,3111.2L178.3,3161.1L171,3214.2L163.6,3270.9L158.7,3310.8L151.3,3374.2L146.4,3419L139.1,3490.4L134.2,3541L126.8,3622L121.9,3679.6L117,3740.5L112.1,3804.9L109.6,3810.4L-15.5,3810.4Z" fill="#BC2908" stroke="#fff" stroke-opacity="0.17" stroke-width="0.8"/>
<path d="M-15.5,2037.8L13.9,2028.4L40.9,2019.3L67.9,2009.9L94.9,1999.9L121.9,1989.6L146.4,1979.7L173.4,1968.3L197.9,1957.5L222.5,1946.1L244.6,1935.4L269.1,1923L291.2,1911.3L313.3,1899L335.3,1886.1L357.4,1872.6L377,1860L396.7,1846.9L416.3,1833.1L435.9,1818.7L453.1,1805.5L472.7,1789.7L489.9,1775.2L507.1,1760.1L524.2,1744.3L541.4,1727.6L556.1,1712.8L573.3,1694.6L588,1678.3L602.8,1661.2L617.5,1643.4L632.2,1624.7L646.9,1605.1L661.6,1584.6L673.9,1566.7L686.2,1548L698.4,1528.5L710.7,1508.1L723,1486.8L735.2,1464.5L747.5,1441.1L759.8,1416.5L769.6,1396L781.8,1369.2L791.7,1346.7L803.9,1317.2L813.7,1292.4L823.6,1266.5L833.4,1239.4L843.2,1211L853,1181.3L862.8,1150.1L870.2,1125.6L880,1091.5L887.3,1064.7L897.2,1027.4L904.5,998L914.3,956.8L921.7,924.3L929.1,890.4L936.4,854.9L943.8,817.8L951.1,778.9L958.5,738.1L963.4,709.7L963.4,1861L934,1872.7L904.5,1885L877.5,1896.8L850.5,1909.3L823.6,1922.5L799,1935.1L774.5,1948.3L750,1962.2L725.4,1976.9L703.3,1990.8L681.3,2005.4L659.2,2020.8L637.1,2037L617.5,2052.2L595.4,2070.2L575.8,2087L556.1,2104.8L539,2121.1L519.3,2140.7L502.2,2158.8L485,2177.8L467.8,2197.9L450.6,2219L435.9,2238L418.7,2261.4L404,2282.5L389.3,2304.7L374.6,2328.1L359.9,2352.8L347.6,2374.4L332.9,2401.6L320.6,2425.6L308.3,2450.7L298.5,2471.7L286.3,2499.3L276.5,2522.3L266.6,2546.4L256.8,2571.6L247,2597.9L237.2,2625.4L227.4,2654.3L217.6,2684.5L207.8,2716.3L200.4,2741.2L190.6,2775.9L183.2,2803.2L175.9,2831.6L168.5,2861.1L161.1,2892L156.2,2913.3L146.4,2957.8L136.6,3005L126.8,3055.2L117,3108.7L107.2,3165.9L97.4,3227L90,3275.7L80.2,3344.9L72.8,3400.3L65.5,3459L58.1,3521.2L50.7,3587.3L43.4,3657.8L38.5,3707.4L31.1,3786L28.7,3810.4L-15.5,3810.4Z" fill="#A91B08" stroke="#fff" stroke-opacity="0.17" stroke-width="0.8"/>
<path d="M-15.5,2076.1L9,2067.6L33.6,2058.8L58.1,2049.7L82.6,2040.2L107.2,2030.5L129.3,2021.3L151.3,2011.9L173.4,2002.2L195.5,1992.1L217.6,1981.7L239.7,1970.9L259.3,1960.9L278.9,1950.6L298.5,1940L318.2,1929L337.8,1917.6L357.4,1905.8L374.6,1895.2L394.2,1882.6L411.4,1871.2L428.6,1859.4L445.7,1847.2L462.9,1834.5L480.1,1821.5L497.3,1808L512,1796L529.2,1781.5L543.9,1768.7L561,1753.2L575.8,1739.4L590.5,1725.2L605.2,1710.5L619.9,1695.2L634.6,1679.4L649.4,1663.1L661.6,1649L676.4,1631.5L688.6,1616.4L700.9,1600.8L713.2,1584.7L725.4,1568.1L737.7,1550.9L750,1533.1L762.2,1514.7L774.5,1495.6L786.8,1475.8L799,1455.3L808.8,1438.3L821.1,1416.4L830.9,1398.2L843.2,1374.7L853,1355.2L862.8,1335L872.6,1314.2L882.4,1292.6L892.3,1270.4L902.1,1247.3L911.9,1223.4L921.7,1198.6L929.1,1179.4L938.9,1153L946.2,1132.5L956,1104.3L963.4,1082.4L963.4,1825.9L936.4,1837.1L909.4,1848.8L882.4,1861L857.9,1872.6L833.4,1884.6L808.8,1897.1L784.3,1910.1L762.2,1922.4L740.1,1935L718.1,1948.2L696,1962L673.9,1976.3L651.8,1991.2L632.2,2005L610.1,2021.2L590.5,2036.2L570.9,2051.8L551.2,2068L531.6,2085L514.4,2100.5L497.3,2116.5L480.1,2133.2L462.9,2150.6L445.7,2168.7L428.6,2187.5L411.4,2207.2L394.2,2227.7L379.5,2246L364.8,2265.1L350.1,2284.9L335.3,2305.5L320.6,2327L305.9,2349.4L293.6,2368.8L278.9,2393.1L266.6,2414.1L251.9,2440.4L239.7,2463.3L227.4,2487.1L215.1,2511.9L202.9,2537.7L190.6,2564.6L178.3,2592.7L168.5,2616L156.2,2646.4L146.4,2671.7L136.6,2698L126.8,2725.3L117,2753.6L107.2,2783.1L97.4,2813.8L87.5,2845.8L77.7,2879.1L67.9,2913.9L58.1,2950.2L50.7,2978.5L40.9,3017.7L33.6,3048.4L23.8,3091L16.4,3124.3L6.6,3170.7L-0.8,3207L-8.1,3244.7L-15.5,3284Z" fill="#950F23" stroke="#fff" stroke-opacity="0.17" stroke-width="0.8"/>
<path d="M-15.5,2131.3L26.2,2114.5L67.9,2096.8L109.6,2078.4L148.9,2060.2L188.1,2041.2L224.9,2022.5L261.7,2003L281.4,1992.3L298.5,1982.7L318.2,1971.4L335.3,1961.3L369.7,1940.5L386.9,1929.7L404,1918.6L435.9,1897.5L467.8,1875.4L485,1863L499.7,1852.2L516.9,1839.3L531.6,1828L561,1804.6L575.8,1792.6L590.5,1780.2L605.2,1767.6L619.9,1754.6L646.9,1730.2L661.6,1716.4L673.9,1704.6L688.6,1690.2L700.9,1677.9L715.6,1662.8L727.9,1649.9L742.6,1634.1L754.9,1620.6L767.1,1606.8L779.4,1592.8L791.7,1578.4L803.9,1563.6L816.2,1548.6L828.5,1533.2L840.7,1517.4L853,1501.3L875.1,1471.3L897.2,1440L909.4,1422L919.2,1407.2L931.5,1388.4L941.3,1373L953.6,1353.2L963.4,1337.1L963.4,1777.1L941.3,1787.2L919.2,1797.6L897.2,1808.3L877.5,1818L855.4,1829.2L835.8,1839.4L813.7,1851.1L794.1,1861.9L774.5,1872.9L754.9,1884.2L735.2,1895.7L715.6,1907.6L696,1919.7L678.8,1930.6L659.2,1943.4L642,1954.8L622.4,1968.3L605.2,1980.3L588,1992.7L570.9,2005.3L553.7,2018.3L536.5,2031.6L519.3,2045.2L502.2,2059.2L485,2073.5L470.3,2086.1L453.1,2101.2L438.4,2114.5L421.2,2130.3L406.5,2144.3L391.8,2158.5L377,2173.2L362.3,2188.2L347.6,2203.5L332.9,2219.3L318.2,2235.5L303.4,2252.1L291.2,2266.2L276.5,2283.7L264.2,2298.5L249.5,2316.8L237.2,2332.5L222.5,2351.7L210.2,2368.2L197.9,2385L185.7,2402.3L173.4,2420L161.1,2438.1L148.9,2456.7L136.6,2475.8L124.3,2495.4L114.5,2511.4L102.3,2531.9L90,2553L77.7,2574.6L67.9,2592.4L55.6,2615.1L45.8,2633.8L36,2652.8L26.2,2672.3L13.9,2697.4L4.1,2718L-5.7,2739L-15.5,2760.6Z" fill="#800F2C" stroke="#fff" stroke-opacity="0.17" stroke-width="0.8"/>
<path d="M42,1656.6V2287.5M113.8,1656.6V2287.5M142.5,1656.6V2287.5M200,1656.6V2287.5M243.1,1656.6V2287.5M286.2,1656.6V2287.5M343.7,1656.6V2287.5M444.2,1656.6V2287.5M530.4,1656.6V2287.5M544.8,1656.6V2287.5M616.6,1656.6V2287.5M631,1656.6V2287.5M645.3,1656.6V2287.5M688.4,1656.6V2287.5M717.2,1656.6V2287.5M731.5,1656.6V2287.5M774.6,1656.6V2287.5M817.7,1656.6V2287.5M875.2,1656.6V2287.5M27.6,2246.9H920.3M27.6,2236.7H920.3M27.6,2226.6H920.3M27.6,2186H920.3M27.6,2125.1H920.3M27.6,2104.7H920.3M27.6,2054H920.3M27.6,1993.1H920.3M27.6,1962.6H920.3M27.6,1911.8H920.3M27.6,1881.4H920.3M27.6,1871.2H920.3M27.6,1759.6H920.3" fill="none" stroke="#fff" stroke-opacity="0.12" stroke-width="0.9"/>
<path d="M56.3,1656.6V2287.5M99.4,1656.6V2287.5M128.2,1656.6V2287.5M156.9,1656.6V2287.5M228.7,1656.6V2287.5M386.7,1656.6V2287.5M501.7,1656.6V2287.5M516,1656.6V2287.5M559.1,1656.6V2287.5M659.7,1656.6V2287.5M674.1,1656.6V2287.5M832.1,1656.6V2287.5M846.5,1656.6V2287.5M27.6,2277.3H920.3M27.6,2267.2H920.3M27.6,2216.4H920.3M27.6,2175.8H920.3M27.6,2114.9H920.3M27.6,2084.4H920.3M27.6,2043.8H920.3M27.6,2023.5H920.3M27.6,2013.4H920.3M27.6,1952.5H920.3M27.6,1942.3H920.3M27.6,1922H920.3M27.6,1891.5H920.3M27.6,1861.1H920.3M27.6,1800.2H920.3M27.6,1790H920.3M27.6,1779.9H920.3M27.6,1769.7H920.3M27.6,1749.4H920.3M27.6,1739.2H920.3M27.6,1668.2H920.3" fill="none" stroke="#fff" stroke-opacity="0.3" stroke-width="0.9"/>
<path d="M70.7,1656.6V2287.5M85.1,1656.6V2287.5M171.3,1656.6V2287.5M185.6,1656.6V2287.5M214.4,1656.6V2287.5M257.5,1656.6V2287.5M314.9,1656.6V2287.5M372.4,1656.6V2287.5M401.1,1656.6V2287.5M429.8,1656.6V2287.5M487.3,1656.6V2287.5M587.9,1656.6V2287.5M745.9,1656.6V2287.5M760.3,1656.6V2287.5M789,1656.6V2287.5M803.4,1656.6V2287.5M889.6,1656.6V2287.5M27.6,2206.3H920.3M27.6,2196.1H920.3M27.6,2165.7H920.3M27.6,2145.4H920.3M27.6,2135.2H920.3M27.6,2074.3H920.3M27.6,2064.1H920.3M27.6,1982.9H920.3M27.6,1901.7H920.3M27.6,1840.8H920.3M27.6,1830.6H920.3M27.6,1729.1H920.3M27.6,1688.5H920.3M27.6,1678.3H920.3" fill="none" stroke="#fff" stroke-opacity="0.06" stroke-width="0.9"/>
<path d="M271.8,1656.6V2287.5M300.6,1656.6V2287.5M329.3,1656.6V2287.5M358,1656.6V2287.5M415.5,1656.6V2287.5M458.6,1656.6V2287.5M472.9,1656.6V2287.5M573.5,1656.6V2287.5M602.2,1656.6V2287.5M702.8,1656.6V2287.5M860.8,1656.6V2287.5M903.9,1656.6V2287.5M27.6,2257H920.3M27.6,2155.5H920.3M27.6,2094.6H920.3M27.6,2033.7H920.3M27.6,2003.2H920.3M27.6,1972.8H920.3M27.6,1932.1H920.3M27.6,1850.9H920.3M27.6,1820.5H920.3M27.6,1810.3H920.3M27.6,1718.9H920.3M27.6,1708.8H920.3M27.6,1698.6H920.3" fill="none" stroke="#fff" stroke-opacity="0.2" stroke-width="0.9"/>
</g>
<rect x="27.6" y="1656.6" width="892.6999999999999" height="630.9000000000001" fill="none" stroke="#000" stroke-opacity="0.5" stroke-width="1.1"/>
<text x="62.5" y="2307.1" text-anchor="middle" class="tk">30</text>
<text x="206.2" y="2307.1" text-anchor="middle" class="tk">40</text>
<text x="349.8" y="2307.1" text-anchor="middle" class="tk">50</text>
<text x="493.5" y="2307.1" text-anchor="middle" class="tk">60</text>
<text x="637.2" y="2307.1" text-anchor="middle" class="tk">70</text>
<text x="780.8" y="2307.1" text-anchor="middle" class="tk">80</text>
<text transform="translate(16.0,2263) rotate(-90)" text-anchor="middle" class="tk">30</text>
<text transform="translate(16.0,2161.5) rotate(-90)" text-anchor="middle" class="tk">40</text>
<text transform="translate(16.0,2060) rotate(-90)" text-anchor="middle" class="tk">50</text>
<text transform="translate(16.0,1958.4) rotate(-90)" text-anchor="middle" class="tk">60</text>
<text transform="translate(16.0,1856.9) rotate(-90)" text-anchor="middle" class="tk">70</text>
<text transform="translate(16.0,1755.4) rotate(-90)" text-anchor="middle" class="tk">80</text>
<path d="M62.2,2287.5v4.9M205.9,2287.5v4.9M349.5,2287.5v4.9M493.2,2287.5v4.9M636.9,2287.5v4.9M780.5,2287.5v4.9M27.6,2263h-4.9M27.6,2161.5h-4.9M27.6,2060h-4.9M27.6,1958.4h-4.9M27.6,1856.9h-4.9M27.6,1755.4h-4.9" fill="none" stroke="#808080" stroke-width="0.75"/>
<text x="474.2" y="1642.0" text-anchor="middle" class="tt">Average Birth Weight</text>
<text x="34.7" y="1611.0" class="lt">C</text>
<text x="473.8" y="2328.3" text-anchor="middle" class="xl">Average Relative Humidity 107 to 114 days into pregnancy</text>
<rect x="940.7" y="2255.95" width="21.399999999999977" height="31.55" fill="#FFFFCA" stroke="#000" stroke-opacity="0.62" stroke-width="0.8"/>
<rect x="940.7" y="2224.41" width="21.399999999999977" height="31.55" fill="#FFFAC2" stroke="#000" stroke-opacity="0.62" stroke-width="0.8"/>
<rect x="940.7" y="2192.86" width="21.399999999999977" height="31.55" fill="#FEF3B5" stroke="#000" stroke-opacity="0.62" stroke-width="0.8"/>
<rect x="940.7" y="2161.32" width="21.399999999999977" height="31.54" fill="#FCEAA6" stroke="#000" stroke-opacity="0.62" stroke-width="0.8"/>
<rect x="940.7" y="2129.78" width="21.399999999999977" height="31.55" fill="#FAE092" stroke="#000" stroke-opacity="0.62" stroke-width="0.8"/>
<rect x="940.7" y="2098.23" width="21.399999999999977" height="31.55" fill="#F9D67C" stroke="#000" stroke-opacity="0.62" stroke-width="0.8"/>
<rect x="940.7" y="2066.68" width="21.399999999999977" height="31.55" fill="#F8C962" stroke="#000" stroke-opacity="0.62" stroke-width="0.8"/>
<rect x="940.7" y="2035.14" width="21.399999999999977" height="31.55" fill="#F6BD3E" stroke="#000" stroke-opacity="0.62" stroke-width="0.8"/>
<rect x="940.7" y="2003.60" width="21.399999999999977" height="31.54" fill="#F5AF08" stroke="#000" stroke-opacity="0.62" stroke-width="0.8"/>
<rect x="940.7" y="1972.05" width="21.399999999999977" height="31.55" fill="#F4A108" stroke="#000" stroke-opacity="0.62" stroke-width="0.8"/>
<rect x="940.7" y="1940.50" width="21.399999999999977" height="31.55" fill="#F29108" stroke="#000" stroke-opacity="0.62" stroke-width="0.8"/>
<rect x="940.7" y="1908.96" width="21.399999999999977" height="31.54" fill="#F08008" stroke="#000" stroke-opacity="0.62" stroke-width="0.8"/>
<rect x="940.7" y="1877.41" width="21.399999999999977" height="31.55" fill="#ED6D08" stroke="#000" stroke-opacity="0.62" stroke-width="0.8"/>
<rect x="940.7" y="1845.87" width="21.399999999999977" height="31.55" fill="#EA5808" stroke="#000" stroke-opacity="0.62" stroke-width="0.8"/>
<rect x="940.7" y="1814.32" width="21.399999999999977" height="31.55" fill="#DF4508" stroke="#000" stroke-opacity="0.62" stroke-width="0.8"/>
<rect x="940.7" y="1782.78" width="21.399999999999977" height="31.54" fill="#CE3708" stroke="#000" stroke-opacity="0.62" stroke-width="0.8"/>
<rect x="940.7" y="1751.23" width="21.399999999999977" height="31.55" fill="#BC2908" stroke="#000" stroke-opacity="0.62" stroke-width="0.8"/>
<rect x="940.7" y="1719.69" width="21.399999999999977" height="31.54" fill="#A91B08" stroke="#000" stroke-opacity="0.62" stroke-width="0.8"/>
<rect x="940.7" y="1688.14" width="21.399999999999977" height="31.55" fill="#950F23" stroke="#000" stroke-opacity="0.62" stroke-width="0.8"/>
<rect x="940.7" y="1656.60" width="21.399999999999977" height="31.55" fill="#800F2C" stroke="#000" stroke-opacity="0.62" stroke-width="0.8"/>
<text transform="translate(980.6,2287.50) rotate(-90)" text-anchor="middle" class="ck">0.0</text>
<text transform="translate(980.6,2161.32) rotate(-90)" text-anchor="middle" class="ck">0.2</text>
<text transform="translate(980.6,2035.14) rotate(-90)" text-anchor="middle" class="ck">0.4</text>
<text transform="translate(980.6,1908.96) rotate(-90)" text-anchor="middle" class="ck">0.6</text>
<text transform="translate(980.6,1782.78) rotate(-90)" text-anchor="middle" class="ck">0.8</text>
<text transform="translate(980.6,1656.60) rotate(-90)" text-anchor="middle" class="ck">1.0</text>
<path d="M962.1,2287.50h4.9M962.1,2161.32h4.9M962.1,2035.14h4.9M962.1,1908.96h4.9M962.1,1782.78h4.9M962.1,1656.60h4.9" fill="none" stroke="#808080" stroke-width="0.75"/>
</svg>
</body></html>
